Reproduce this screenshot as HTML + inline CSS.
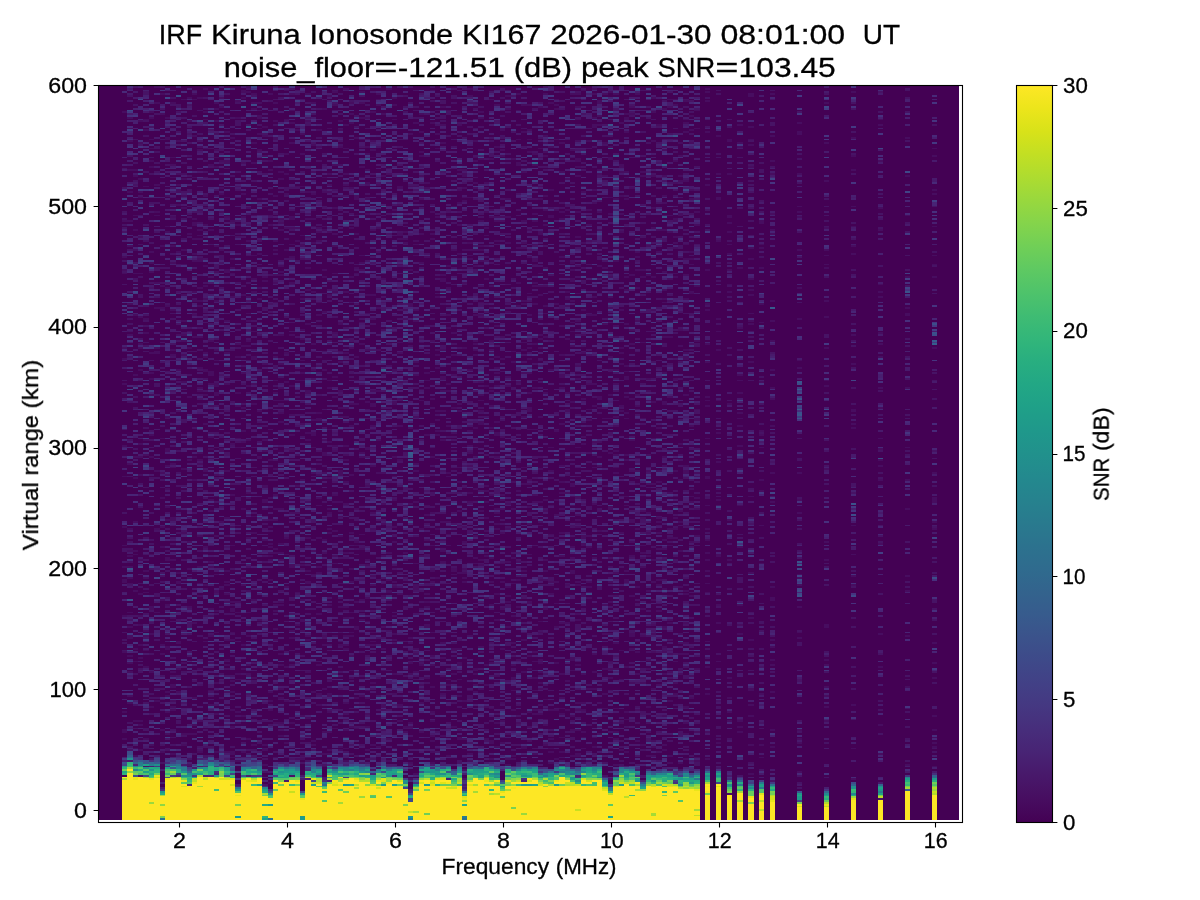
<!DOCTYPE html>
<html lang="en"><head><meta charset="utf-8"><title>IRF Kiruna Ionosonde KI167 ionogram</title>
<style>
html,body{margin:0;padding:0;background:#fff;overflow:hidden}
svg{display:block}
text{font-family:"Liberation Sans",sans-serif;fill:#000;stroke:#000;stroke-width:0.3px}
.t{font-size:28.3px}
.k{font-size:21.2px}
.ln{stroke:#000;stroke-width:1.1;fill:none}
</style></head><body>
<svg width="1200" height="900" viewBox="0 0 1200 900">
<defs>
<linearGradient id="vir" x1="0" y1="0" x2="0" y2="1"><stop offset="0.0000" stop-color="#fde725"/><stop offset="0.0312" stop-color="#ece51b"/><stop offset="0.0625" stop-color="#d8e219"/><stop offset="0.0938" stop-color="#c2df23"/><stop offset="0.1250" stop-color="#addc30"/><stop offset="0.1562" stop-color="#98d83e"/><stop offset="0.1875" stop-color="#84d44b"/><stop offset="0.2188" stop-color="#70cf57"/><stop offset="0.2500" stop-color="#5ec962"/><stop offset="0.2812" stop-color="#4ec36b"/><stop offset="0.3125" stop-color="#3fbc73"/><stop offset="0.3438" stop-color="#32b67a"/><stop offset="0.3750" stop-color="#28ae80"/><stop offset="0.4062" stop-color="#22a785"/><stop offset="0.4375" stop-color="#1fa088"/><stop offset="0.4688" stop-color="#1f988b"/><stop offset="0.5000" stop-color="#21918c"/><stop offset="0.5312" stop-color="#23898e"/><stop offset="0.5625" stop-color="#26828e"/><stop offset="0.5938" stop-color="#297a8e"/><stop offset="0.6250" stop-color="#2c728e"/><stop offset="0.6562" stop-color="#2f6b8e"/><stop offset="0.6875" stop-color="#33638d"/><stop offset="0.7188" stop-color="#375b8d"/><stop offset="0.7500" stop-color="#3b528b"/><stop offset="0.7812" stop-color="#3e4989"/><stop offset="0.8125" stop-color="#424086"/><stop offset="0.8438" stop-color="#453781"/><stop offset="0.8750" stop-color="#472d7b"/><stop offset="0.9062" stop-color="#482374"/><stop offset="0.9375" stop-color="#48186a"/><stop offset="0.9688" stop-color="#470d60"/><stop offset="1.0000" stop-color="#440154"/></linearGradient>
<clipPath id="axclip"><rect x="98.5" y="85.5" width="864" height="737"/></clipPath>
</defs>
<rect width="1200" height="900" fill="#fff"/>
<g clip-path="url(#axclip)" shape-rendering="crispEdges">
<rect x="98.5" y="85.5" width="860.5" height="734.5" fill="#440154"/>
<g transform="translate(73.1,819.09375) scale(5.4,-1.8125)" fill="none" stroke-width="1">
<path stroke="#470d60" d="M121,14h1m-86,6h1m25,2h1m81,0h1m-82,3h1m61,0h1m-12,1h1m19,0h1m-25,1h1m-55,1h1m-36,1h1m24,0h1m59,0h1m52,0h1m-125,1h1m44,0h1m19,0h1m53,0h1m-93,1h1m3,0h1m21,0h1m21,0h1m1,0h1m-83,1h1m19,0h1m7,0h1m14,0h1m21,0h1m19,0h1m-75,1h2m34,0h1m2,0h2m7,0h1m23,0h1m3,0h1m-89,1h2m6,0h1m1,0h1m3,0h2m2,0h1m24,0h1m42,0h1m11,0h1m-117,1h1m30,0h1m26,0h1m11,0h1m10,0h2m12,0h2m2,0h1m-93,1h1m10,0h1m15,0h3m25,0h1m11,0h1m7,0h1m55,0h1m-134,1h1m6,0h1m2,0h1m1,0h2m1,0h1m34,0h1m21,0h1m1,0h1m11,0h1m-91,1h1m22,0h1m11,0h1m1,0h1m4,0h1m46,0h1m7,0h1m-99,1h1m38,0h1m8,0h1m5,0h1m1,0h1m15,0h1m4,0h1m5,0h1m3,0h2m44,0h1m-96,1h1m6,0h1m21,0h1m4,0h1m12,0h1m10,0h1m21,0h1m29,0h1m-146,1h1m5,0h1m12,0h1m1,0h1m8,0h1m10,0h1m31,0h1m17,0h1m3,0h1m15,0h1m1,0h1m-89,1h1m37,0h1m1,0h1m39,0h1m14,0h1m24,0h1m-116,1h1m21,0h1m10,0h1m6,0h1m19,0h1m2,0h1m-99,1h1m3,0h1m18,0h1m25,0h1m12,0h2m3,0h1m11,0h1m11,0h1m33,0h1m-104,1h1m39,0h1m13,0h1m4,0h1m3,0h1m1,0h1m62,0h1m-122,1h1m4,0h1m22,0h1m1,0h1m-52,1h1m2,0h3m57,0h1m16,0h1m15,0h1m-105,1h1m36,0h2m13,0h1m2,0h1m29,0h1m5,0h1m5,0h1m8,0h1m1,0h1m5,0h1m-115,1h1m6,0h1m33,0h1m6,0h1m8,0h1m25,0h2m35,0h1m4,0h1m24,0h1m-112,1h1m3,0h1m16,0h1m2,0h1m7,0h1m5,0h1m-58,1h1m21,0h1m2,0h1m6,0h2m7,0h1m13,0h1m38,0h1m-112,1h1m9,0h1m64,0h1m61,0h1m-125,1h1m4,0h1m6,0h2m1,0h1m21,0h1m15,0h1m3,0h1m18,0h1m4,0h1m6,0h1m-103,1h2m10,0h1m36,0h1m5,0h1m12,0h1m41,0h1m1,0h1m15,0h1m-113,1h1m22,0h1m33,0h1m2,0h1m14,0h1m-60,1h1m-13,1h1m10,0h1m6,0h1m42,0h1m5,0h1m10,0h1m15,0h1m33,0h1m-134,1h1m23,0h1m3,0h1m30,0h2m3,0h1m-82,1h1m7,0h1m12,0h1m16,0h1m13,0h1m4,0h1m17,0h1m17,0h1m18,0h1m-104,1h1m10,0h1m6,0h1m20,0h1m23,0h1m3,0h1m2,0h2m1,0h1m1,0h2m9,0h1m-92,1h1m28,0h1m9,0h1m24,0h1m9,0h1m2,0h1m7,0h1m1,0h1m-87,1h1m3,0h1m19,0h1m18,0h1m18,0h1m29,0h1m6,0h1m25,0h1m-115,1h1m19,0h1m11,0h1m2,0h1m25,0h1m38,0h1m18,0h1m-135,1h1m39,0h1m7,0h1m5,0h1m14,0h1m13,0h2m-80,1h1m2,0h1m17,0h1m2,0h1m32,0h1m37,0h1m-91,1h1m43,0h1m22,0h1m-66,1h1m10,0h1m4,0h1m13,0h1m1,0h1m27,0h1m7,0h1m23,0h1m6,0h1m-112,1h1m6,0h1m29,0h1m5,0h1m17,0h1m67,0h1m-127,1h1m31,0h1m1,0h1m11,0h1m8,0h1m13,0h1m15,0h1m12,0h1m5,0h1m9,0h1m-111,1h1m1,0h1m8,0h2m6,0h1m7,0h1m29,0h1m25,0h1m28,0h1m-105,1h2m10,0h1m14,0h1m1,0h1m15,0h1m2,0h1m7,0h1m3,0h1m39,0h1m-88,1h1m7,0h1m17,0h1m10,0h1m10,0h1m8,0h2m10,0h1m17,0h1m-108,1h1m47,0h1m72,0h1m14,0h1m-137,1h1m45,0h1m4,0h1m4,0h1m1,0h1m31,0h1m-83,1h1m28,0h1m26,0h1m3,0h1m16,0h1m1,0h1m5,0h1m-83,1h1m61,0h1m-62,1h2m15,0h1m21,0h1m1,0h1m9,0h1m19,0h1m-69,1h1m17,0h1m2,0h1m10,0h1m15,0h1m3,0h1m13,0h1m21,0h1m37,0h1m-142,1h1m49,0h1m9,0h1m35,0h1m-85,1h1m1,0h1m26,0h1m2,0h1m7,0h1m3,0h1m15,0h1m3,0h1m9,0h1m4,0h1m2,0h1m-103,1h1m3,0h1m3,0h1m24,0h1m19,0h1m19,0h1m2,0h1m9,0h1m13,0h1m-60,1h1m5,0h1m16,0h1m17,0h1m19,0h1m-94,1h1m3,0h1m7,0h1m42,0h1m9,0h1m13,0h3m5,0h1m8,0h1m-103,1h1m20,0h1m4,0h1m62,0h1m14,0h1m31,0h1m-122,1h1m3,0h1m5,0h1m1,0h1m4,0h1m18,0h1m1,0h1m4,0h1m1,0h1m2,0h1m4,0h1m11,0h1m35,0h1m9,0h1m-130,1h1m9,0h1m4,0h1m36,0h1m8,0h1m5,0h1m8,0h1m2,0h1m69,0h1m-149,1h1m52,0h1m20,0h1m13,0h1m8,0h1m2,0h1m7,0h1m-92,1h1m53,0h1m3,0h1m5,0h1m13,0h1m22,0h1m9,0h1m-128,1h1m55,0h1m3,0h1m19,0h1m-83,1h1m40,0h1m14,0h1m17,0h1m-69,1h1m21,0h1m24,0h1m32,0h1m13,0h1m1,0h2m-105,1h1m75,0h1m18,0h1m2,0h1m1,0h1m-97,1h1m24,0h1m23,0h1m7,0h1m30,0h1m-91,1h1m5,0h1m32,0h1m6,0h1m5,0h1m6,0h2m7,0h1m23,0h1m-87,1h1m18,0h1m38,0h1m14,0h1m18,0h1m19,0h1m-118,1h1m3,0h1m14,0h1m14,0h2m1,0h2m3,0h2m-37,1h1m42,0h1m5,0h1m12,0h1m18,0h1m11,0h2m45,0h1m-141,1h1m4,0h1m30,0h1m48,0h1m4,0h1m7,0h1m-90,1h2m7,0h1m5,0h1m15,0h1m23,0h1m41,0h1m3,0h1m-120,1h1m29,0h1m21,0h1m37,0h1m33,0h1m-125,1h1m2,0h1m11,0h1m6,0h1m10,0h1m2,0h1m1,0h1m1,0h2m21,0h1m29,0h1m1,0h1m48,0h1m-141,1h1m44,0h1m38,0h2m3,0h1m3,0h1m4,0h1m10,0h1m25,0h1m-124,1h1m2,0h1m21,0h1m1,0h1m1,0h1m10,0h1m2,0h1m7,0h1m8,0h1m47,0h1m-122,1h1m26,0h1m1,0h1m-6,1h1m14,0h1m1,0h2m23,0h1m-70,1h1m24,0h1m16,0h1m4,0h1m7,0h1m14,0h1m8,0h1m19,0h1m5,0h1m23,0h1m-128,1h1m22,0h1m5,0h1m23,0h1m41,0h1m15,0h1m15,0h1m-118,1h1m67,0h2m18,0h1m2,0h1m5,0h1m-101,1h1m11,0h1m3,0h1m6,0h1m11,0h1m27,0h1m1,0h1m1,0h1m5,0h1m-59,1h1m7,0h1m10,0h1m24,0h1m3,0h1m10,0h1m16,0h1m-93,1h1m31,0h1m74,0h1m-117,1h1m2,0h1m12,0h1m33,0h1m21,0h1m-37,1h1m47,0h1m10,0h1m-95,1h1m4,0h1m5,0h1m8,0h1m1,0h1m5,0h1m12,0h1m31,0h1m14,0h1m-73,1h1m2,0h1m7,0h1m60,0h1m9,0h1m-95,1h1m10,0h1m3,0h1m26,0h1m22,0h1m7,0h1m17,0h1m7,0h1m-100,1h1m6,0h1m27,0h2m14,0h1m8,0h1m7,0h1m51,0h1m-118,1h1m19,0h2m8,0h1m29,0h1m20,0h1m20,0h1m3,0h1m-91,1h1m21,0h1m6,0h1m12,0h1m3,0h1m4,0h1m2,0h1m1,0h1m16,0h1m-79,1h3m7,0h1m13,0h1m12,0h1m14,0h1m3,0h1m14,0h1m-84,1h1m16,0h1m8,0h1m10,0h1m53,0h1m21,0h1m-109,1h1m32,0h1m21,0h1m18,0h1m33,0h1m-107,1h1m33,0h1m22,0h1m13,0h1m5,0h1m2,0h1m10,0h1m-103,1h1m15,0h1m31,0h1m4,0h1m12,0h1m9,0h1m5,0h1m18,0h1m-101,1h1m12,0h1m14,0h1m4,0h1m11,0h1m58,0h1m-107,1h1m14,0h1m5,0h1m25,0h1m47,0h1m6,0h1m40,0h1m-131,1h1m2,0h1m35,0h1m45,0h1m-71,1h1m19,0h1m3,0h1m16,0h1m14,0h1m8,0h1m7,0h1m16,0h1m-106,1h1m3,0h1m2,0h1m23,0h1m7,0h1m27,0h1m1,0h1m14,0h1m25,0h1m9,0h1m-135,1h1m8,0h1m3,0h1m19,0h1m5,0h1m26,0h1m4,0h1m35,0h1m-109,1h1m9,0h1m8,0h1m14,0h1m7,0h1m7,0h1m6,0h1m5,0h1m4,0h1m1,0h1m8,0h2m3,0h1m1,0h1m3,0h1m2,0h1m4,0h1m-99,1h1m26,0h1m21,0h1m23,0h1m3,0h2m14,0h1m5,0h1m-99,1h1m2,0h1m7,0h1m9,0h1m35,0h1m4,0h1m61,0h1m-80,1h1m88,0h1m9,0h1m-129,1h1m3,0h1m13,0h1m25,0h1m7,0h1m55,0h1m-116,1h1m25,0h1m25,0h2m19,0h1m7,0h1m24,0h1m-113,1h1m14,0h1m14,0h1m22,0h1m3,0h1m12,0h1m3,0h1m4,0h1m9,0h1m14,0h1m-97,1h1m29,0h1m18,0h1m1,0h1m-64,1h2m12,0h1m1,0h1m14,0h1m4,0h1m53,0h1m5,0h1m3,0h1m4,0h1m-75,1h1m1,0h1m11,0h1m20,0h1m-28,1h1m14,0h1m10,0h1m4,0h1m47,0h1m-103,1h1m42,0h1m11,0h1m1,0h1m-71,1h1m4,0h2m17,0h1m1,0h1m15,0h1m4,0h1m15,0h1m11,0h1m6,0h1m12,0h1m1,0h1m7,0h1m3,0h1m17,0h1m-123,1h1m56,0h1m2,0h1m3,0h1m10,0h1m3,0h1m2,0h1m5,0h1m-96,1h1m25,0h1m11,0h1m8,0h1m6,0h1m11,0h1m13,0h1m12,0h1m2,0h1m12,0h1m-109,1h1m2,0h1m24,0h1m33,0h1m10,0h1m34,0h1m24,0h1m-109,1h3m7,0h1m3,0h1m7,0h1m2,0h1m32,0h1m10,0h1m11,0h1m-108,1h2m32,0h1m23,0h1m43,0h1m-76,1h1m12,0h1m2,0h1m43,0h1m10,0h2m-94,1h1m7,0h1m11,0h1m55,0h1m2,0h1m27,0h1m-115,1h1m9,0h1m9,0h1m22,0h1m13,0h1m2,0h1m8,0h1m15,0h1m6,0h1m3,0h1m4,0h1m-75,1h1m1,0h1m55,0h1m54,0h1m-129,1h1m30,0h1m6,0h1m12,0h1m30,0h1m10,0h1m24,0h1m-105,1h1m10,0h1m18,0h1m2,0h1m40,0h1m7,0h1m-86,1h1m6,0h1m3,0h1m1,0h1m43,0h1m4,0h1m15,0h2m-89,1h1m2,0h1m22,0h1m24,0h1m19,0h2m19,0h1m-91,1h1m27,0h1m15,0h1m18,0h1m-69,1h1m12,0h1m13,0h1m3,0h1m27,0h1m10,0h1m10,0h1m4,0h1m1,0h1m-61,1h1m27,0h1m20,0h1m-88,1h1m4,0h1m31,0h1m7,0h1m8,0h1m2,0h1m10,0h1m1,0h1m23,0h1m5,0h2m5,0h1m41,0h1m-151,1h1m6,0h1m7,0h1m4,0h1m6,0h1m22,0h1m12,0h1m20,0h1m-38,1h1m14,0h1m14,0h1m26,0h1m13,0h1m16,0h1m-88,1h1m20,0h1m5,0h1m-74,1h1m15,0h1m40,0h2m16,0h1m16,0h1m4,0h1m3,0h1m46,0h1m-143,1h2m17,0h2m55,0h1m6,0h1m2,0h1m17,0h1m-104,1h1m9,0h1m47,0h1m28,0h1m2,0h1m2,0h1m-79,1h1m5,0h1m9,0h1m22,0h1m-8,1h1m23,0h1m3,0h1m-54,1h2m5,0h1m7,0h1m10,0h1m11,0h1m27,0h1m27,0h1m-110,1h1m45,0h1m3,0h1m11,0h1m17,0h1m6,0h1m-82,1h1m3,0h1m1,0h2m8,0h1m4,0h1m25,0h2m1,0h1m8,0h1m8,0h1m7,0h1m7,0h1m38,0h1m-138,1h1m66,0h1m14,0h1m11,0h1m-67,1h1m15,0h1m3,0h1m2,0h1m2,0h1m16,0h1m1,0h1m1,0h1m9,0h1m14,0h1m5,0h1m-74,1h1m6,0h1m4,0h1m17,0h1m15,0h1m-62,1h1m7,0h1m4,0h2m13,0h1m9,0h1m2,0h1m8,0h2m27,0h1m14,0h1m29,0h1m-135,1h1m9,0h1m23,0h1m19,0h1m7,0h1m1,0h1m29,0h1m14,0h1m24,0h1m-144,1h1m15,0h1m3,0h1m8,0h1m23,0h1m23,0h1m21,0h1m43,0h1m-134,1h1m20,0h1m44,0h2m8,0h1m8,0h1m2,0h1m10,0h1m-97,1h1m7,0h1m10,0h1m13,0h1m14,0h1m1,0h1m5,0h1m-54,1h1m40,0h1m16,0h2m18,0h1m-73,1h1m37,0h1m5,0h1m44,0h1m-111,1h1m56,0h1m39,0h1m4,0h1m-85,1h1m3,0h1m-5,1h1m5,0h1m12,0h1m21,0h1m15,0h1m-10,1h2m7,0h1m13,0h2m-58,1h1m20,0h1m9,0h1m8,0h1m17,0h1m-87,1h1m19,0h1m41,0h1m27,0h1m14,0h1m21,0h1m4,0h1m-144,1h1m20,0h1m14,0h1m35,0h1m20,0h1m12,0h1m-109,1h1m25,0h1m23,0h1m9,0h1m47,0h1m-106,1h1m13,0h1m18,0h1m1,0h1m1,0h1m1,0h1m-36,1h1m27,0h1m1,0h1m2,0h1m6,0h2m11,0h1m30,0h1m12,0h1m1,0h1m13,0h1m4,0h1m24,0h1m-145,1h1m8,0h1m3,0h1m20,0h1m13,0h1m24,0h1m14,0h2m1,0h1m1,0h1m2,0h1m1,0h1m-94,1h1m16,0h1m41,0h1m6,0h1m52,0h1m-122,1h1m38,0h2m12,0h1m11,0h1m12,0h1m3,0h1m-84,1h1m37,0h1m17,0h1m13,0h1m2,0h1m6,0h1m11,0h1m3,0h1m35,0h1m-140,1h1m7,0h1m4,0h1m39,0h1m15,1h1m39,0h1m-99,1h1m1,0h1m12,0h1m13,0h1m9,0h1m13,0h1m27,0h1m46,0h1m-125,1h1m8,0h1m21,0h1m10,0h1m3,0h1m11,0h1m20,0h1m-94,1h2m1,0h1m7,0h1m11,0h1m18,0h1m5,0h1m6,0h1m11,0h1m1,0h1m10,0h1m5,0h1m11,0h1m-97,1h1m27,0h1m4,0h1m3,0h1m49,0h1m1,0h1m3,0h1m-84,1h1m22,0h1m6,0h1m19,0h1m25,0h1m-83,1h1m9,0h1m7,0h1m4,0h1m7,0h1m51,0h1m-84,1h1m7,0h1m1,0h1m26,0h1m94,0h1m-120,1h1m13,0h1m9,0h1m33,0h1m4,0h1m33,0h1m26,0h1m-146,1h1m38,0h1m1,0h1m22,0h1m49,0h1m-112,1h1m16,0h1m64,0h1m17,0h1m-82,1h1m15,0h1m48,0h2m-85,1h1m18,0h1m2,0h1m7,0h1m2,0h1m9,0h1m11,0h1m34,0h1m-88,1h1m13,0h1m31,0h2m43,0h1m9,0h1m31,0h1m-125,1h1m53,0h1m14,0h1m-81,1h1m25,0h1m3,0h1m20,0h1m1,0h1m10,0h1m48,0h1m-85,1h2m25,0h1m7,0h1m40,0h1m-89,1h1m35,0h1m5,0h1m15,0h1m37,0h1m-81,1h1m7,0h1m7,0h1m20,0h2m-24,1h1m11,0h1m2,0h1m30,0h1m35,0h1m-111,1h1m16,0h1m3,0h1m4,0h1m8,0h1m30,0h1m13,0h1m8,0h1m5,0h1m-106,1h1m17,0h1m32,0h1m14,0h1m53,0h1m-107,1h1m36,0h1m2,0h1m-57,1h1m21,0h2m21,0h1m27,0h1m19,0h1m-87,1h1m15,0h1m10,0h1m41,0h2m2,0h1m2,0h1m9,0h1m7,0h1m-107,1h1m31,0h2m7,0h1m4,0h1m19,0h1m2,0h1m13,0h1m-61,1h1m-3,1h1m6,0h1m15,0h1m40,0h1m20,0h1m-90,1h1m32,0h2m2,0h1m3,0h1m8,0h1m6,0h1m9,0h1m42,0h1m-130,1h1m19,0h1m48,0h1m6,0h1m3,0h1m19,0h1m28,0h1m-114,1h1m17,0h2m19,0h1m13,0h1m12,0h1m51,0h1m-125,1h1m4,0h1m24,0h1m21,0h1m18,0h1m4,0h1m2,0h1m12,0h1m-85,1h1m17,0h2m2,0h1m3,0h1m11,0h1m37,0h1m11,0h1m-68,1h1m4,0h1m32,0h1m14,0h1m1,0h1m-73,1h3m24,0h1m10,0h1m7,0h1m22,0h1m10,0h1m1,0h1m-60,1h1m5,0h1m27,0h1m2,0h1m5,0h1m25,0h1m-109,1h1m26,0h1m48,0h1m4,0h1m7,0h1m6,0h1m-104,1h1m2,0h1m6,0h1m1,0h1m48,0h1m23,0h1m4,0h1m8,0h1m-88,1h1m3,0h1m6,0h1m5,0h1m38,0h1m1,0h1m2,0h1m3,0h1m17,0h1m13,0h1m-101,1h1m19,0h1m5,0h1m5,0h2m11,0h2m3,0h1m3,0h1m28,0h1m-56,1h1m12,0h1m-42,1h1m14,0h1m8,0h1m17,0h1m19,0h1m4,0h1m38,0h1m19,0h1m4,0h1m-136,1h1m6,0h1m5,0h1m7,0h1m35,0h1m1,0h1m1,0h1m58,0h1m-131,1h1m15,0h2m1,0h1m4,0h1m35,0h1m25,0h2m3,0h1m-81,1h1m18,0h1m20,0h1m14,0h1m6,0h1m44,0h1m-110,1h1m18,0h1m3,0h2m4,0h1m4,0h2m11,0h1m10,0h1m4,0h1m10,0h1m30,0h1m15,0h1m-126,1h1m4,0h1m48,0h1m6,0h1m17,0h1m8,0h1m3,0h1m4,0h1m-84,1h1m4,0h1m14,0h1m19,0h1m11,0h1m9,0h1m11,0h1m-92,1h1m13,0h1m37,0h1m6,0h1m19,0h1m32,0h1m-110,1h1m10,0h1m5,0h1m10,0h1m15,0h1m6,0h1m12,0h1m4,0h2m24,0h1m-86,1h2m8,0h1m67,0h1m-91,1h1m6,0h1m4,0h1m19,0h1m1,0h1m12,0h1m13,0h1m14,0h1m11,0h1m28,0h1m-107,1h1m18,0h1m24,0h1m10,0h1m55,0h1m-90,1h1m12,0h1m34,0h1m8,0h1m-68,1h1m2,0h1m15,0h1m46,0h1m42,0h1m-96,1h1m13,0h1m17,0h1m35,0h1m7,0h1m-105,1h1m4,0h1m7,0h1m7,0h1m43,0h1m4,0h1m42,0h1m-126,1h1m23,0h1m45,0h1m4,0h1m28,0h1m-90,1h1m5,0h1m2,0h1m3,0h1m14,0h1m25,0h1m20,0h1m13,0h1m35,0h1m-132,1h1m1,0h1m46,0h1m2,0h1m3,0h1m15,0h1m-77,1h2m8,0h1m3,0h1m10,0h1m10,0h1m9,0h1m16,0h1m16,0h1m6,0h1m11,0h1m-99,1h1m11,0h1m21,0h1m31,0h1m-64,1h1m7,0h1m27,0h1m1,0h1m10,0h2m5,0h1m2,0h1m5,0h1m29,0h1m5,0h1m-111,1h1m2,0h1m2,0h1m5,0h1m29,0h1m20,0h1m11,0h1m1,0h1m14,0h1m37,0h1m19,0h1m-129,1h2m29,0h1m29,0h1m19,0h1m-101,1h1m17,0h1m13,0h1m8,0h1m20,0h1m10,0h1m17,0h1m13,0h1m31,0h1m-90,1h1m1,0h1m1,0h1m4,0h1m13,0h1m21,0h1m-86,1h1m4,0h1m6,0h1m33,0h1m7,0h1m2,0h1m14,0h1m22,0h1m13,0h1m-88,1h1m7,0h1m32,0h1m2,0h1m4,0h1m-70,1h2m30,0h1m24,0h1m7,0h1m12,0h1m8,0h2m-101,1h1m8,0h2m17,0h1m1,0h1m45,0h1m7,0h1m49,0h1m-132,1h1m34,0h1m21,0h1m78,0h1m-129,1h1m11,0h1m58,0h1m26,0h1m-78,1h1m14,0h1m36,0h1m8,0h1m8,0h1m-55,1h1m10,0h1m39,0h1m13,0h1m-59,1h1m12,0h1m11,0h1m9,0h1m-58,1h1m5,0h1m48,0h1m3,0h1m22,0h1m-77,1h1m3,0h1m23,0h1m14,0h1m34,0h1m-108,1h1m7,0h1m3,0h1m30,0h1m29,0h1m10,0h1m20,0h1m3,0h1m-117,1h1m27,0h1m13,0h1m5,0h1m57,0h1m14,0h1m-123,1h1m11,0h1m114,0h1m-129,1h1m10,0h1m22,0h1m23,0h1m4,0h2m8,0h1m10,0h2m57,0h1m-123,1h1m21,0h1m32,0h1m37,0h1m28,0h1m-109,1h1m33,0h1m-63,1h1m42,0h1m1,0h1m30,0h1m6,0h1m5,0h1m3,0h1m5,0h1m-103,1h2m8,0h1m30,0h1m42,0h1m54,0h1m-138,1h1m5,0h1m38,0h1m19,0h1m4,0h1m3,0h1m20,0h1m-103,1h1m49,0h1m1,0h1m20,0h1m1,0h1m3,0h1m27,0h1m9,0h1m-91,1h1m7,0h1m26,0h1m2,0h1m4,0h1m18,0h1m3,0h1m5,0h1m-88,1h2m2,0h1m56,0h1m8,0h1m36,0h1m9,0h1m-116,1h1m2,0h1m6,0h1m7,0h1m48,0h1m17,0h1m3,0h1m-85,1h1m2,0h1m34,0h1m28,0h1m2,0h1m49,0h1m-130,1h1m10,0h1m15,0h1m6,0h2m30,0h1m38,0h1m-42,1h1m8,0h1m20,0h1m-93,1h1m10,0h1m10,0h1m3,0h1m1,0h1m17,0h1m9,0h1m12,0h1m22,0h1m6,0h1m27,0h1m-107,1h1m58,0h1m6,0h1m15,0h1m-109,1h1m5,0h1m10,0h1m25,0h1m8,0h1m34,0h1m29,0h1m-119,1h1m7,0h1m52,0h1m7,0h3m27,0h1m-59,1h1m40,0h1m7,0h1m14,0h1m27,0h1m-135,1h1m21,0h1m2,0h1m31,0h1m9,0h1m2,0h1m-51,1h1m32,0h1m23,0h1m-60,1h1m23,0h1m3,0h1m6,0h1m7,0h1m15,0h1m17,0h1m14,0h1m-91,1h1m10,0h1m4,0h1m47,0h1m2,0h1m2,0h1m1,0h1m3,0h1m42,0h1m4,0h1m-123,1h2m29,0h1m34,0h1m2,0h1m6,0h1m-105,1h1m1,0h2m16,0h1m18,0h1m3,0h1m1,0h1m31,0h1m24,0h1m-98,1h1m11,0h1m1,0h1m9,0h1m70,0h1m-101,1h1m18,0h1m3,0h1m13,0h1m6,0h1m7,0h2m29,0h1m11,0h2m11,0h1m3,0h1m-93,1h1m13,0h1m8,0h1m34,0h1m10,0h1m24,0h1m3,0h1m11,0h1m-116,1h1m13,0h1m30,0h1m4,0h1m18,0h1m3,0h1m4,0h1m-83,1h1m39,0h1m9,0h1m14,0h1m28,0h1m24,0h1m19,0h1m-146,1h1m3,0h1m34,0h1m10,0h1m27,0h1m-71,1h2m51,0h1m9,0h1m14,0h1m-78,1h1m5,0h1m12,0h1m26,0h1m3,0h1m11,0h1m27,0h2m10,0h1m-117,1h1m30,0h1m24,0h1m18,0h1m5,0h1m13,0h1m-79,1h1m6,0h1m19,0h1m9,0h1m9,0h1m65,0h1m19,0h1m-138,1h1m11,0h1m7,0h1m28,0h1m49,0h1m22,0h1m-131,1h1m4,0h1m36,0h1m47,0h1m3,0h1m5,0h1m-104,1h1m8,0h1m6,0h1m9,0h1m1,0h1m30,0h1m1,0h4m58,0h1m4,0h1m-108,1h1m49,0h2m27,0h1m13,0h1m1,0h1m-118,1h1m5,0h1m1,0h1m7,0h1m15,0h1m5,0h1m8,0h1m17,0h1m30,0h1m37,0h1m-105,1h1m1,0h1m20,0h1m21,0h1m4,0h1m22,0h1m7,0h1m5,0h1m-84,1h1m16,0h1m11,0h1m6,0h1m2,0h1m10,0h1m16,0h1m-80,1h1m1,0h1m2,0h1m3,0h1m3,0h1m17,0h1m14,0h1m13,0h1m2,0h1m23,0h1m-98,1h2m36,0h2m4,0h1m5,0h1m-61,1h1m43,0h1m36,0h1m17,0h1m-96,1h1m6,0h1m9,0h1m8,0h1m17,0h1m15,0h1m-56,1h1m26,0h1m3,0h1m7,0h1m3,0h1m1,0h1m19,0h1m42,0h1m-113,1h1m27,0h1m1,0h1m13,0h1m24,0h1m14,0h1m8,0h1m10,0h1m-111,1h1m11,0h1m1,0h1m12,0h1m7,0h1m8,0h1m28,0h1m12,0h1m10,0h2m19,0h1m19,0h1m-111,1h3m3,0h1m5,0h1m4,0h1m19,0h1m13,0h1m16,0h1m31,0h1m-123,1h1m26,0h1m1,0h1m97,0h1m14,0h1m-138,1h1m1,0h1m5,0h1m5,0h1m28,0h1m5,0h1m15,0h1m7,0h1m4,0h1m14,0h1m-94,1h1m15,0h1m82,0h1m5,0h1m-119,1h2m18,0h1m45,0h1m2,0h2m3,0h1m1,0h1m25,0h1m15,0h1m-106,1h1m15,0h1m1,0h1m2,0h2m45,0h1m12,0h1m7,0h1m-94,1h1m9,0h1m2,0h1m8,0h1m6,0h1m19,0h1m1,0h1m7,0h4m7,0h1m32,0h1m12,0h1m-124,1h1m3,0h1m17,0h1m2,0h1m1,0h1m13,0h1m35,0h1m5,0h1m15,0h1m1,0h1m8,0h1m32,0h1m-101,1h1m13,0h1m16,0h1m13,0h1m1,0h1m10,0h1m16,0h1m-115,1h1m11,0h1m38,0h1m9,0h1m13,0h1m2,0h1m3,0h1m10,0h1m6,0h1m18,0h1m-112,1h1m20,0h1m14,0h1m9,0h1m7,0h1m9,0h1m1,0h1m1,0h1m3,0h1m-76,1h1m3,0h1m7,0h1m15,0h1m58,0h1m41,0h1m-115,1h1m34,0h1m8,0h1m54,0h1m9,0h1m-126,1h1m40,0h1m15,0h1m-6,1h1m24,0h1m12,0h1m-47,1h1m8,0h1m-39,1h1m17,0h1m1,0h1m9,0h1m15,0h1m5,0h1m13,0h1m1,0h1m11,0h1m4,0h1m-108,1h1m15,0h1m23,0h1m19,0h2m25,0h1m19,0h1m-103,1h1m2,0h1m3,0h1m12,0h1m14,0h1m4,0h1m29,0h1m13,0h1m7,0h1m-83,1h1m3,0h1m7,0h1m4,0h1m114,0h1m-150,1h1m1,0h1m6,0h1m23,0h1m2,0h2m46,0h1m-76,1h1m51,0h1m16,0h1m7,0h1m17,0h1m44,0h1m-133,1h1m23,0h1m8,0h1m4,0h1m6,0h1m1,0h1m9,0h1m18,0h1m-91,1h1m27,0h2m17,0h1m1,0h2m21,0h2m7,0h1m11,0h1m-92,1h1m3,0h1m27,0h1m2,0h1m5,0h1m40,0h1m19,0h1m-64,1h1m10,0h1m8,0h1m1,0h1m34,0h1m0,1h2m25,0h1m-128,1h1m7,0h1m17,0h1m12,0h1m39,0h1m-74,1h1m3,0h1m23,0h1m6,0h1m-43,1h1m45,0h1m6,0h1m7,0h1m20,0h1m4,0h1m6,0h1m1,0h1m1,0h1m2,0h1m41,0h1m-136,1h2m18,0h1m7,0h1m2,0h1m7,0h1m2,0h1m10,0h1m6,0h1m17,0h1m21,0h1m1,0h1m7,0h1m4,0h1m-97,1h1m5,0h1m38,0h1m6,0h1m10,0h2m2,0h1m-96,1h2m24,0h1m17,0h1m16,0h2m24,0h1m46,0h1m-87,1h1m-45,1h1m11,0h1m26,0h1m20,0h1m18,0h1m7,0h1m23,0h1m-108,1h1m6,0h1m22,0h2m32,0h1m2,0h1m15,0h1m-74,1h1m2,0h1m1,0h1m48,0h1m-69,1h1m12,0h2m7,0h1m37,0h1m18,0h1m17,0h1m17,0h1m19,0h1m-75,1h1m1,0h1m3,0h1m11,0h1m5,0h1m-82,1h1m7,0h1m5,0h1m22,0h1m18,0h1m11,0h1m12,0h1m-65,1h1m28,0h1m14,0h1m7,0h1m24,0h1m31,0h1m14,0h1m-121,1h1m2,0h1m11,0h1m30,0h1m-22,1h1m19,0h1m2,0h1m-65,1h1m2,0h1m7,0h1m20,0h1m2,0h1m20,0h1m12,0h1m16,0h1m-96,1h1m9,0h1m25,0h1m16,0h1m18,0h1m72,0h1m-137,1h1m21,0h1m3,0h1m4,0h1m23,0h1m9,0h1m10,0h1m9,0h1m13,0h1m-80,1h1m80,0h1m-114,1h1m20,0h1m6,0h1m27,0h1m18,0h1m2,0h1m7,0h1m13,0h1m1,0h1m8,0h1m15,0h1m-130,1h1m8,0h1m35,0h1m18,0h1m18,0h1m1,0h1m11,0h1m13,0h1m-108,1h1m2,0h1m9,0h1m9,0h1m15,0h1m13,0h1m14,0h1m1,0h1m4,0h1m16,0h1m4,0h1m9,0h1m3,0h1m-109,1h1m11,0h1m7,0h1m14,0h1m91,0h1m9,0h1m-133,1h1m12,0h1m51,0h1m31,0h1m9,0h1m-104,1h1m7,0h1m7,0h1m19,0h1m4,0h1m66,0h1m-107,1h1m35,0h1m18,0h1m18,0h1m10,0h1m3,0h1m16,0h1m-122,1h1m27,0h1m3,0h1m3,0h1m29,0h1m4,0h1m29,0h1m-105,1h1m23,0h1m12,0h1m31,0h1m35,0h1m-81,1h1m21,0h1m38,0h1m28,0h1m-76,1h1m17,0h1m2,0h1m24,0h2m10,0h1m14,0h1m25,0h1m-110,1h1m10,0h1m11,0h1m2,0h1m34,0h1m11,0h1m20,0h1m-123,1h1m8,0h1m4,0h1m10,0h1m5,0h1m5,0h1m-37,1h1m4,0h1m5,0h1m14,0h1m10,0h1m8,0h1m33,0h1m8,0h1m10,0h1m1,0h1m33,0h1m-140,1h1m3,0h1m2,0h1m12,0h1m3,0h1m18,0h2m20,0h1m20,0h1m5,0h1m-69,1h1m62,0h1m16,0h1m-99,1h1m34,0h1m5,0h1m6,0h1m37,0h2m-95,1h1m4,0h1m9,0h1m30,0h1m19,0h1m31,0h1m-68,1h1m26,0h1m1,0h1m2,0h1m9,0h1m32,0h1m-90,1h1m6,0h1m12,0h1m33,0h1m8,0h1m19,0h1m-83,1h1m40,0h1m17,0h1m6,0h1m9,0h1m6,0h1m-63,1h1m7,0h1m2,0h1m18,0h1m4,0h2m4,0h1m21,0h1m-97,1h1m2,0h1m7,0h1m6,0h2m2,0h1m6,0h1m6,0h1m1,0h1m34,0h1m8,0h1m41,0h1m-110,1h1m66,0h1m15,0h1m3,0h1m-98,1h1m1,0h1m33,0h1m20,0h1m2,0h1m8,0h1m8,0h1m1,0h1m9,0h2m-91,1h1m1,0h1m3,0h1m3,0h1m27,0h1m47,0h1m-61,1h1m25,0h1m6,0h1m44,0h1m-110,1h1m5,0h1m10,0h1m2,0h1m3,0h1m2,0h1m12,0h1m25,0h1m4,0h1m4,0h2m2,0h1m1,0h1m1,0h1m3,0h1m20,0h1m3,0h1m-99,1h2m15,0h1m4,0h1m45,0h1m17,0h1m26,0h1m-119,1h1m4,0h1m7,0h1m26,0h1m27,0h1m-71,1h1m25,0h1m7,0h1m14,0h1m22,0h1m20,0h1m-103,1h1m16,0h1m-18,1h1m14,0h1m4,0h1m11,0h1m50,0h2"/>
<path stroke="#471365" d="M149,11h1m-16,6h1m-100,2h1m98,1h1m-6,1h1m-58,1h1m26,0h1m39,1h1m-128,1h1m27,0h1m57,0h1m24,0h1m10,0h1m-100,2h1m19,1h1m16,0h1m27,0h1m11,0h1m14,0h1m-9,1h1m-107,1h1m93,0h1m-87,1h1m24,0h1m15,0h1m27,0h1m10,0h1m13,0h1m-100,1h1m23,0h1m1,0h1m10,0h1m17,0h1m22,0h1m3,0h1m4,0h1m11,0h1m3,0h1m5,0h1m-95,1h1m11,0h1m27,0h1m18,0h1m10,0h1m6,0h1m45,0h1m-141,1h1m6,0h1m4,0h1m8,0h1m4,0h1m13,0h2m4,0h1m-37,1h1m8,0h1m8,0h1m19,0h1m4,0h1m22,0h1m-67,1h1m8,0h1m18,0h1m51,0h1m9,0h1m-93,1h1m9,0h1m18,0h1m44,0h1m-60,1h1m12,0h1m16,0h1m40,0h1m50,0h1m-150,1h1m6,0h1m5,0h1m8,0h2m10,0h1m36,0h1m23,0h1m7,0h1m-101,1h1m3,0h1m17,0h1m49,0h1m73,0h1m-150,1h1m12,0h3m3,0h1m62,0h1m8,0h1m11,0h1m-98,1h1m1,0h1m32,0h1m1,0h1m3,0h1m23,0h2m-63,1h1m10,0h1m2,0h1m7,0h2m29,0h1m13,0h1m51,0h1m-64,1h1m24,0h1m4,0h1m3,0h1m-94,1h1m24,0h1m49,0h1m13,0h1m12,0h1m1,0h1m32,0h1m-137,1h1m15,0h1m15,0h1m28,0h1m12,0h1m-73,1h1m35,0h1m5,0h1m25,0h1m23,0h1m6,0h1m-42,1h1m7,0h1m25,0h1m36,0h1m-116,1h1m32,0h1m23,0h2m6,0h1m8,0h1m3,0h1m21,0h1m-122,1h1m4,0h1m5,0h1m13,0h1m32,0h1m4,0h1m11,0h1m-78,1h1m1,0h1m15,0h1m31,0h2m49,0h1m6,0h1m7,0h1m-76,1h2m43,0h1m4,0h1m16,0h1m34,0h1m-127,1h1m7,0h1m1,0h1m9,0h1m33,0h1m12,0h1m-86,1h1m8,0h1m29,0h1m3,0h1m15,0h1m6,0h1m17,0h1m5,0h1m3,0h1m10,0h1m11,0h1m-109,1h1m14,0h3m18,0h1m15,0h1m5,0h1m14,0h1m8,0h1m32,0h1m-113,1h1m10,0h1m69,0h1m19,0h1m20,0h1m-121,1h1m15,0h1m16,0h1m35,0h1m20,0h1m-87,1h1m1,0h1m2,0h1m20,0h1m5,0h1m21,0h1m25,0h1m-95,1h1m51,0h1m11,0h1m26,0h2m8,0h1m-64,1h1m41,0h1m10,0h1m48,0h1m-122,1h1m13,0h1m1,0h1m6,0h1m1,0h1m27,0h1m22,0h1m39,0h1m-99,1h1m37,0h1m3,0h1m3,0h1m13,0h1m1,0h1m5,0h1m34,0h1m-125,1h1m29,0h1m10,0h1m5,0h1m26,0h1m14,0h1m-109,1h1m14,0h1m9,0h1m42,0h1m2,0h1m28,0h1m-99,1h1m2,0h1m3,0h1m14,0h1m8,0h1m3,0h1m4,0h1m16,0h1m26,0h1m-58,1h1m24,0h1m5,0h1m1,0h1m45,0h1m29,0h1m-134,1h1m16,0h1m4,0h1m2,0h1m66,0h1m-95,1h2m11,0h1m15,0h1m29,0h1m38,0h1m-88,1h1m3,0h1m15,0h1m10,0h1m7,0h1m3,0h1m4,0h1m36,0h2m2,0h1m-101,1h1m17,0h1m25,0h1m43,0h1m6,0h1m-85,1h1m93,0h1m-32,1h1m10,0h1m12,0h1m-98,1h2m24,0h1m7,0h1m5,0h1m12,0h1m18,0h1m5,0h1m50,0h1m-124,1h1m25,0h1m67,0h1m-93,1h1m5,0h1m57,0h1m7,0h1m-63,1h1m3,0h1m6,0h1m20,0h1m38,0h1m22,0h1m31,0h1m-138,1h1m4,0h1m5,0h1m13,0h1m3,0h1m18,0h1m9,0h1m29,0h1m23,0h1m-72,1h1m13,0h1m56,0h1m19,0h1m-117,1h1m17,0h1m5,0h1m1,0h1m19,0h1m20,0h1m4,0h1m2,0h1m-98,1h1m2,0h1m8,0h2m2,0h1m20,0h1m7,0h1m1,0h1m13,0h1m8,0h1m26,0h1m40,0h1m-144,1h1m15,0h1m3,0h1m28,0h1m26,0h1m-76,1h1m7,0h1m1,0h1m26,0h1m2,0h1m18,0h1m57,0h1m9,0h1m19,0h1m-118,1h2m14,0h1m14,0h1m25,0h1m5,0h1m19,0h1m-114,1h1m15,0h1m40,0h1m5,0h1m5,0h1m23,0h1m6,0h1m6,0h1m-71,1h1m59,0h1m3,0h1m13,0h1m16,0h1m-133,1h1m22,0h1m-3,1h1m30,0h1m34,0h1m3,0h1m5,0h1m3,0h1m-86,1h1m11,0h1m4,0h1m16,0h1m23,0h1m6,0h1m-64,1h1m27,0h1m6,0h1m11,0h2m12,0h1m-74,1h1m43,0h1m1,0h1m52,0h1m-97,1h1m7,0h1m12,0h1m11,0h1m3,0h1m11,0h1m10,0h1m18,0h1m14,0h1m9,0h1m13,0h1m-126,1h1m26,0h1m69,0h1m7,0h1m29,0h1m-129,1h1m4,0h1m12,0h1m13,0h1m1,0h1m5,0h1m1,0h1m11,0h1m30,0h1m1,0h1m30,0h1m-131,1h1m21,0h1m8,0h1m6,0h1m17,0h1m2,0h1m34,0h1m5,0h2m-84,1h1m81,0h1m7,0h1m7,0h1m1,0h1m-79,1h1m3,0h1m23,0h1m3,0h1m16,0h1m15,0h1m-35,1h1m10,0h1m42,0h1m-126,1h1m34,0h1m14,0h1m10,0h1m6,0h1m2,0h1m53,0h1m-113,1h1m7,0h1m18,0h1m11,0h1m2,0h1m-56,1h1m5,0h1m55,0h1m38,0h1m4,0h1m-103,1h1m10,0h1m5,0h1m2,0h1m12,0h1m9,0h2m27,0h1m2,0h1m2,0h1m16,0h1m-86,1h1m72,0h1m9,0h1m22,0h1m-113,1h1m3,0h1m3,0h1m3,0h1m4,0h1m11,0h1m37,0h1m1,0h1m18,0h1m53,0h1m-151,1h1m39,0h1m18,0h1m14,0h1m3,0h1m15,0h1m-84,1h1m37,0h1m4,0h1m14,0h1m7,0h1m16,0h1m3,0h1m19,0h1m6,0h1m-118,1h1m75,0h1m15,0h1m-89,1h1m21,0h1m39,0h1m9,0h1m35,0h1m14,0h1m-134,1h1m9,0h1m71,0h1m4,0h1m7,0h1m6,0h1m7,0h1m-108,1h1m6,0h1m12,0h1m48,0h1m10,0h1m12,0h1m17,0h1m1,0h1m-110,1h1m20,0h1m3,0h1m4,0h1m18,0h2m30,0h1m6,0h1m20,0h1m-118,1h1m8,0h1m139,0h1m-109,1h1m4,0h1m43,0h1m13,0h1m29,0h1m-135,1h2m12,0h1m5,0h1m39,0h1m46,0h1m-105,1h1m12,0h1m1,0h2m7,0h1m2,0h1m2,0h1m9,0h1m9,0h1m-15,1h1m9,0h1m6,0h1m11,0h1m46,0h1m-112,1h1m35,0h1m2,0h1m1,0h1m50,0h1m-86,1h1m12,0h1m8,0h2m16,0h1m2,0h1m4,0h1m7,0h1m16,0h1m22,0h1m41,0h1m-143,1h1m9,0h1m33,0h1m17,0h2m18,0h1m19,0h1m9,0h1m-111,1h1m9,0h1m5,0h1m44,0h1m23,0h1m4,0h1m4,0h2m-66,1h1m32,0h1m2,0h1m4,0h1m12,0h1m3,0h1m18,0h1m-91,1h1m6,0h1m4,0h1m14,0h1m1,0h2m45,0h1m45,0h1m-120,1h1m17,0h1m31,0h1m13,0h1m54,0h1m-143,1h1m22,0h1m6,0h1m1,0h1m33,0h1m-69,1h1m46,0h1m20,0h1m7,0h1m7,0h1m5,0h1m4,0h1m-96,1h1m10,0h1m14,0h1m77,0h1m7,0h1m21,0h1m-102,1h1m46,0h1m13,0h1m4,0h2m-85,1h1m6,0h1m24,0h2m36,0h1m-89,1h1m4,0h1m1,0h1m22,0h1m53,0h1m23,0h1m1,0h1m-112,1h1m14,0h1m9,0h1m22,0h1m30,0h1m2,0h1m2,0h1m13,0h1m13,0h1m18,0h1m9,0h1m-145,1h1m3,0h1m44,0h1m5,0h2m19,0h3m24,0h1m25,0h1m-128,1h1m2,0h1m41,0h1m7,0h1m2,0h2m12,0h1m8,0h1m23,0h1m-100,1h1m18,0h1m87,0h1m30,0h1m-121,1h1m7,0h1m9,0h2m2,0h1m4,0h1m19,0h1m6,0h1m5,0h1m14,0h1m13,0h1m-75,1h1m7,0h1m3,0h1m4,0h1m12,0h1m6,0h1m1,0h1m10,0h1m13,0h1m9,0h1m-108,1h1m27,0h1m13,0h1m18,0h1m4,0h1m12,0h1m-76,1h1m54,0h1m37,0h1m-98,1h1m43,0h1m98,0h1m-143,1h1m31,0h1m3,0h1m14,0h1m3,0h1m2,0h1m21,0h1m12,0h1m33,0h1m-131,1h1m3,0h1m10,0h1m12,0h1m6,0h1m9,0h1m6,0h1m13,0h3m5,0h1m-57,1h1m37,0h1m3,0h1m8,0h1m17,0h1m37,0h1m-97,1h1m2,0h1m6,0h1m5,0h1m24,0h1m-54,1h1m15,0h1m20,0h1m6,0h1m2,0h1m36,0h1m5,0h1m17,0h1m-130,1h1m24,0h1m40,0h1m2,0h1m3,0h1m13,0h1m13,0h1m17,0h1m29,0h1m-147,1h1m6,0h1m40,0h1m14,0h1m5,0h1m17,0h1m7,0h1m2,0h1m-89,1h1m8,0h1m10,0h1m5,0h2m5,0h1m29,0h1m16,0h1m5,0h1m24,0h1m-100,1h1m4,0h1m4,0h1m19,0h1m45,0h1m17,0h1m-117,1h1m10,0h1m27,0h1m2,0h1m9,0h1m17,0h1m24,0h1m-58,1h1m24,0h1m4,0h1m24,0h1m22,0h1m-121,1h1m7,0h1m5,0h1m82,0h1m27,0h1m-126,1h2m13,0h1m7,0h1m19,0h1m15,0h1m-41,1h1m14,0h1m9,0h1m22,0h1m3,0h1m3,0h1m1,0h1m1,0h1m18,0h1m6,0h1m-90,1h1m9,0h1m12,0h1m2,0h1m1,0h1m31,0h1m5,0h1m12,0h1m10,0h1m-102,1h1m3,0h1m53,0h1m48,0h1m12,0h1m-125,1h1m99,0h1m4,0h1m33,0h1m4,0h1m-141,1h1m29,0h1m7,0h1m59,0h1m-103,1h1m2,0h1m4,0h1m32,0h1m30,0h1m40,0h1m3,0h1m-100,1h1m10,0h1m19,0h1m3,0h1m12,0h1m11,0h1m3,0h1m17,0h1m38,0h1m-129,1h1m2,0h1m14,0h1m19,0h1m6,0h1m30,0h1m25,0h1m-105,1h1m10,0h1m1,0h1m28,0h1m11,0h1m17,0h1m2,0h1m10,0h1m11,0h1m-103,1h1m4,0h1m15,0h1m3,0h1m14,0h1m1,0h1m15,0h1m24,0h1m7,0h1m-90,1h1m17,0h1m58,0h1m1,0h1m10,0h1m7,0h1m18,0h1m-103,1h1m10,0h1m14,0h1m6,0h1m5,0h1m8,0h1m11,0h1m18,0h1m1,0h1m45,0h1m-130,1h1m11,0h1m49,0h1m15,0h1m3,0h1m36,0h1m-115,1h1m12,0h2m15,0h1m4,0h1m8,0h1m2,0h1m10,0h1m31,0h1m-82,1h1m60,0h2m7,0h2m-81,1h1m8,0h1m7,0h1m3,0h2m21,0h1m21,0h1m3,0h1m11,0h1m16,0h1m-114,1h1m20,0h1m3,0h1m2,0h1m1,0h2m8,0h1m23,0h1m39,0h1m-102,1h1m16,0h1m5,0h1m9,0h1m50,0h1m-77,1h1m14,0h1m36,0h1m5,0h1m20,0h1m-103,1h1m4,0h1m2,0h1m1,0h1m2,0h1m10,0h1m33,0h2m1,0h1m13,0h1m19,0h1m8,0h1m3,0h1m9,0h1m-79,1h1m3,0h1m2,0h1m40,0h1m5,0h1m17,0h1m-103,1h1m67,0h1m7,0h1m1,0h1m16,0h1m-103,1h1m14,0h1m35,0h1m1,0h2m19,0h1m8,0h1m-46,1h1m46,0h1m15,0h1m5,0h1m-97,1h1m9,0h1m39,0h1m20,0h1m9,0h1m-79,1h1m12,0h1m6,0h1m27,0h1m5,0h1m-51,1h1m11,0h1m11,0h1m39,0h1m-76,1h1m4,0h1m2,0h1m2,0h1m28,0h1m57,0h1m16,0h1m-60,1h1m25,0h1m4,0h1m10,0h1m1,0h1m9,0h1m-118,1h1m53,0h1m38,0h1m-58,1h1m17,0h1m2,0h3m6,0h1m36,0h1m3,0h1m24,0h1m-125,1h1m3,0h1m26,0h1m8,0h1m4,0h1m9,0h1m2,0h1m32,0h1m1,0h1m-91,1h1m8,0h1m23,0h1m4,0h2m15,0h1m8,0h1m20,0h1m16,0h1m-113,1h1m2,0h1m20,0h1m5,0h1m17,0h1m10,0h1m33,0h1m-88,1h2m4,0h1m34,0h1m11,0h1m25,0h1m6,0h1m38,0h1m14,0h1m-148,1h1m16,0h2m11,0h1m11,0h1m23,0h2m24,0h1m34,0h1m4,0h1m-97,1h1m9,0h1m7,0h1m18,0h1m5,0h1m11,0h1m11,0h1m-100,1h1m19,0h2m24,0h1m1,0h1m24,0h1m24,0h1m-101,1h2m10,0h1m12,0h1m6,0h1m38,0h1m2,0h1m7,0h1m16,0h1m35,0h1m-140,1h1m22,0h1m10,0h1m32,0h2m11,0h1m2,0h1m7,0h1m13,0h1m-99,1h1m9,0h1m8,0h1m1,0h1m26,0h2m13,0h1m10,0h1m-73,1h1m51,0h1m13,0h1m20,0h1m3,0h1m38,0h1m-82,1h1m1,0h1m23,0h2m25,0h1m5,0h1m-104,1h1m19,0h1m2,0h1m25,0h1m17,0h1m11,0h1m19,0h1m-91,1h1m9,0h1m26,0h1m22,0h1m12,0h1m-71,1h1m3,0h1m5,0h1m19,0h1m5,0h1m39,0h1m26,0h1m-95,1h1m46,0h1m-33,1h1m11,0h1m9,0h1m12,0h1m8,0h1m24,0h1m-93,1h1m2,0h2m3,0h1m46,0h1m19,0h1m21,0h1m-105,1h1m38,0h1m8,0h2m5,0h1m15,0h1m32,0h1m24,0h1m-136,1h1m29,0h1m19,0h1m2,0h1m7,0h2m-59,1h1m18,0h1m13,0h1m14,0h1m19,0h1m15,0h1m6,0h1m34,0h1m-127,1h1m2,0h1m29,0h1m19,0h1m10,0h2m1,0h1m29,0h1m-107,1h1m25,0h1m24,0h1m2,0h1m24,0h1m40,0h1m9,0h1m4,0h1m4,0h1m-149,1h1m25,0h1m1,0h2m7,0h1m3,0h1m56,0h1m4,0h2m28,0h1m-131,1h1m11,0h1m4,0h1m1,0h1m21,0h1m5,0h1m4,0h1m7,0h1m4,0h1m17,0h1m-80,1h1m10,0h1m17,0h1m11,0h1m-17,1h1m52,0h1m-77,1h1m9,0h1m3,0h1m-25,1h1m3,0h1m3,0h1m9,0h1m24,0h1m6,0h1m3,0h1m5,0h1m42,0h1m25,0h1m-87,1h1m27,0h1m52,0h1m-108,1h1m14,0h1m26,0h2m32,0h1m-47,1h1m24,0h1m3,0h1m8,0h1m3,0h1m10,0h1m-86,1h2m1,0h1m19,0h1m50,0h1m27,0h1m1,0h1m-116,1h1m53,0h1m10,0h1m-71,1h1m7,0h1m15,0h1m2,0h1m12,0h1m29,0h1m2,0h1m4,0h1m1,0h1m-77,1h1m8,0h1m23,0h1m24,0h1m9,0h1m-66,1h1m18,0h1m5,0h1m17,0h1m4,0h1m6,0h1m1,0h1m19,0h1m16,0h1m-45,1h1m38,0h1m13,0h1m7,0h1m-108,1h1m13,0h1m11,0h1m3,0h1m21,0h3m19,0h1m-75,1h1m58,0h1m27,0h1m4,0h1m-96,1h1m36,0h1m5,0h1m49,0h1m8,0h1m34,0h1m-80,1h2m2,0h1m-39,1h2m24,0h1m13,0h2m10,0h1m10,0h1m39,0h1m4,0h1m4,0h1m-137,1h1m24,0h2m12,0h1m17,0h1m6,0h1m6,0h1m7,0h1m15,0h1m1,0h1m-97,1h1m8,0h1m9,0h1m24,0h1m46,0h2m3,0h1m-70,1h1m7,0h1m6,0h1m42,0h1m-94,1h1m45,0h2m7,0h1m4,0h1m3,0h1m3,0h1m12,0h1m5,0h1m2,0h1m-76,1h1m11,0h1m73,0h1m-90,1h1m7,0h1m6,0h1m4,0h1m47,0h1m20,0h1m2,0h1m11,0h1m16,0h1m-135,1h1m18,0h1m12,0h1m30,0h1m-55,1h1m40,0h1m30,0h1m8,0h1m7,0h1m12,0h1m-99,1h1m135,0h1m-149,1h1m29,0h1m54,0h1m18,0h1m-101,1h1m7,0h1m21,0h1m3,0h1m-41,1h1m22,0h1m16,0h1m52,0h1m36,0h1m-122,1h1m5,0h1m32,0h1m16,0h1m4,0h1m20,0h1m13,0h1m34,0h1m-131,1h2m4,0h1m29,0h1m2,0h1m22,0h1m30,0h1m46,0h1m-98,1h2m13,0h1m3,0h1m1,0h1m2,0h1m25,0h1m31,0h1m-130,1h1m1,0h1m17,0h1m1,0h1m37,0h1m-61,1h1m15,0h1m21,0h1m9,0h1m18,0h1m7,0h1m14,0h1m-87,1h1m6,0h1m34,0h1m12,0h1m11,0h1m8,0h1m-87,1h1m2,0h1m44,0h1m27,0h1m9,0h1m15,0h1m2,0h1m2,0h1m7,0h1m33,0h1m-136,1h1m10,0h1m8,0h1m1,0h1m39,0h1m13,0h1m4,0h1m1,0h1m4,0h1m41,0h1m-117,1h1m12,0h1m19,0h1m36,0h1m18,0h1m-107,1h1m5,0h1m29,0h1m35,0h2m-48,1h1m3,0h1m48,0h1m58,0h1m-143,1h1m23,0h1m9,0h1m7,0h1m19,0h1m13,0h1m5,0h1m-77,1h1m10,0h1m35,0h1m28,0h1m-84,1h1m20,0h1m3,0h1m28,0h1m18,0h1m18,0h1m35,0h1m-114,1h1m5,0h1m15,0h1m9,0h1m22,0h1m22,0h1m-60,1h1m34,0h1m7,0h1m9,0h1m6,0h1m8,0h1m-104,1h1m29,0h1m36,0h1m23,0h1m4,0h1m-99,1h1m17,0h1m13,0h1m8,0h1m5,0h1m35,0h1m10,0h1m-86,1h1m27,0h1m25,0h1m8,0h1m14,0h1m4,0h1m4,0h1m-102,1h1m7,0h1m23,0h1m2,0h1m2,0h1m20,0h1m10,0h1m73,0h1m-123,1h1m6,0h1m31,0h1m11,0h1m7,0h2m2,0h1m12,0h1m8,0h1m3,0h1m-87,1h1m11,0h1m17,0h1m18,0h1m8,0h1m35,0h1m-121,1h1m3,0h1m7,0h2m21,0h1m1,0h1m1,0h1m26,0h1m13,0h1m4,0h1m9,0h1m1,0h1m-84,1h1m4,0h2m3,0h1m21,0h1m39,0h1m18,0h1m8,0h1m-94,1h1m7,0h1m29,0h1m2,0h1m49,0h1m-109,1h1m54,0h1m9,0h1m15,0h1m14,0h1m5,0h1m28,0h1m9,0h1m-137,1h1m28,0h1m10,0h1m11,0h1m13,0h1m24,0h1m4,0h2m-103,1h1m2,0h1m7,0h1m16,0h1m6,0h1m3,0h1m27,0h1m-62,1h1m16,0h1m10,0h1m3,0h1m36,0h1m5,0h1m6,0h1m42,0h1m-133,1h1m13,0h1m5,0h1m18,0h1m12,0h1m19,0h1m19,0h1m49,0h1m-114,1h1m6,0h1m29,0h1m2,0h1m43,0h1m13,0h1m-106,1h1m2,0h1m10,0h1m31,0h1m3,0h1m8,0h1m13,0h1m31,0h1m-120,1h1m45,0h1m44,0h1m-102,1h1m29,0h1m18,0h1m28,0h1m7,0h1m9,0h2m17,0h1m-99,1h1m2,0h1m1,0h1m19,0h1m11,0h1m22,0h1m5,0h1m17,0h1m1,0h1m-93,1h1m1,0h1m10,0h1m15,0h1m8,0h1m16,0h1m35,0h1m-100,1h1m19,0h1m11,0h1m8,0h1m11,0h1m27,0h1m28,0h1m-114,1h1m8,0h1m5,0h1m29,0h1m31,0h1m31,0h1m24,0h1m-121,1h1m9,0h1m5,0h1m58,0h1m10,0h1m-98,1h1m12,0h1m6,0h1m11,0h1m12,0h1m49,0h1m-99,1h1m7,0h1m7,0h1m23,0h1m2,0h1m6,0h1m5,0h1m19,0h1m2,0h1m8,0h1m5,0h1m-66,1h1m8,0h1m14,0h1m11,0h1m34,0h1m-98,1h1m28,0h1m25,0h1m45,0h1m-97,1h1m3,0h1m43,0h1m28,0h1m4,0h1m12,0h2m-96,1h1m4,0h1m11,0h1m5,0h1m9,0h1m23,0h1m22,0h1m5,0h2m5,0h1m-97,1h1m7,0h1m1,0h1m3,0h1m4,0h1m21,0h1m2,0h1m10,0h1m34,0h1m-72,1h1m21,0h1m8,0h1m2,0h1m7,0h1m12,0h1m17,0h1m-96,1h1m17,0h1m43,0h1m14,0h1m10,0h1m8,0h1m6,0h1m-101,1h1m1,0h1m16,0h1m3,0h1m11,0h1m8,0h1m6,0h1m4,0h1m1,0h2m3,0h1m-54,1h1m23,0h1m5,0h1m55,0h1m20,0h1m-103,1h1m14,0h1m15,0h1m10,0h1m9,0h1m25,0h1m10,0h1m-100,1h1m14,0h1m6,0h1m11,0h1m51,0h1m-97,1h1m2,0h1m20,0h1m10,0h1m9,0h1m15,0h1m4,0h1m5,0h2m5,0h1m29,0h1m-110,1h1m29,0h1m31,0h1m30,0h1m4,0h1m-90,1h1m2,0h1m3,0h1m4,0h1m12,0h1m4,0h1m15,0h1m6,0h1m22,0h1m1,0h1m59,0h1m-141,1h1m9,0h1m5,0h1m52,0h1m17,0h1m-60,1h2m4,0h1m15,0h1m-56,1h1m12,0h1m53,0h1m19,0h1m-71,1h1m32,0h1m10,0h1m45,0h1m32,0h1m-146,1h1m30,0h1m29,0h1m1,0h1m7,0h1m15,0h1m-83,1h1m1,0h1m7,0h1m3,0h1m1,0h1m1,0h1m36,0h1m24,0h1m-58,1h1m9,0h1m5,0h1m24,0h1m15,0h1m24,0h1m-109,1h1m44,0h1m3,0h1m6,0h1m13,0h1m15,0h1m-86,1h1m12,0h1m67,0h1m45,0h1m-111,1h1m6,0h1m15,0h1m14,0h1m20,0h1m10,0h1m44,0h1m-110,1h1m24,0h2m9,0h3m26,0h1m9,0h1m-102,1h1m53,0h1m10,0h1m-60,1h1m36,0h1m21,0h1m7,0h1m61,0h1m9,0h1m-140,1h3m8,0h1m37,0h1m5,0h1m2,0h1m20,0h1m-69,1h1m33,0h1m14,0h1m9,0h2m62,0h1m9,0h1m-150,1h1m8,0h1m6,0h1m7,0h1m17,0h1m23,0h1m1,0h1m11,0h1m4,0h1m-85,1h1m15,0h1m23,0h1m3,0h1m21,0h1m2,0h1m2,0h1m35,0h1m1,0h1m-113,1h1m28,0h1m2,0h1m12,0h1m5,0h1m15,0h1m15,0h1m5,0h1m5,0h1m-81,1h1m2,0h1m11,0h2m2,0h1m27,0h1m6,0h1m18,0h1m-75,1h1m3,0h1m27,0h1m20,0h1m20,0h1m3,0h1m10,0h1m14,0h1m6,0h1m-108,1h1m4,0h1m81,0h1m39,0h1m-137,1h1m18,0h1m27,0h1m1,0h1m18,0h1m8,0h1m1,0h1m12,0h1m-25,1h1m2,0h1m23,0h1m45,0h1m-150,1h1m73,0h2m9,0h1m-63,1h1m18,0h1m40,0h1m4,0h1m11,0h1m1,0h1m-85,1h1m30,0h1m14,0h1m1,0h1m8,0h1m1,0h1m20,0h1m3,0h1m-101,1h1m12,0h1m4,0h1m30,0h1m6,0h1m9,0h1m23,0h1m3,0h1m8,0h1m-102,1h1m39,0h1m17,0h1m34,0h1m5,0h1m-101,1h1m51,0h1m13,0h1m16,0h1m12,0h1m11,0h1m-102,1h1m18,0h1m12,0h1m34,0h1m16,0h1m4,0h1m9,0h1m24,0h1m-124,1h1m8,0h2m11,0h1m26,0h1m9,0h1m10,0h1m13,0h1m1,0h1m4,0h1m1,0h1m-89,1h1m2,0h1m29,0h1m2,0h1m62,0h1m-96,1h1m27,0h1m15,0h1m4,0h2m9,0h1m4,0h2m16,0h1m-105,1h1m5,0h1m44,0h1m27,0h1m26,0h1m18,0h1m19,0h1m-115,1h1m25,0h1m14,0h1m19,0h1m11,0h1m3,0h1m-109,1h1m39,0h1m14,0h1m84,0h1m-107,1h1m8,0h1m8,0h1m23,0h1m8,0h1m15,0h1m12,0h1m15,0h1m-131,1h1m3,0h1m18,0h1m12,0h1m5,0h1m21,0h1m28,0h1m14,0h1m-95,1h1m5,0h1m31,0h1m8,0h1m28,0h1m5,0h1m38,0h1m9,0h1m-125,1h1m7,0h1m54,0h1m16,0h1m14,0h1m13,0h1m-131,1h1m8,0h1m1,0h1m4,0h1m2,0h1m17,0h1m8,0h1m59,0h1m33,0h1m-129,1h1m14,0h1m8,0h1m29,0h1m29,0h1m-94,1h1m5,0h1m38,0h1m2,0h1m21,0h1m8,0h1m11,0h1m5,0h1m29,0h1m-119,1h1m10,0h1m4,0h1m5,0h1m5,0h1m1,0h1m4,0h1m1,0h1m8,0h1m7,0h1m2,0h1m27,0h1m7,0h1m34,0h1m-141,1h1m4,0h1m7,0h2m18,0h1m7,0h1m18,0h1m1,0h1m55,0h1m-92,1h1m3,0h1m8,0h1m32,0h1m34,0h1m-72,1h1m17,0h1m11,0h1m2,0h1m8,0h1m1,0h1m32,0h1m1,0h1m-105,1h1m12,0h1m11,0h1m44,0h1m2,0h1m18,0h1m25,0h1m19,0h1m-142,1h1m5,0h1m17,0h1m16,0h1m6,0h1m17,0h1m6,0h2m12,0h1m-92,1h2m74,0h1m17,0h1m-70,1h1m5,0h1m29,0h1m21,0h1m29,0h1m-62,1h1m7,0h1m4,0h1m4,0h2m6,0h1m22,0h1m1,0h1m21,0h1m-122,1h1m11,0h1m12,0h1m10,0h1m43,0h1m13,0h1m-101,1h1m13,0h1m12,0h1m8,0h3m51,0h1m1,0h1m2,0h1m3,0h1m-88,1h1m11,0h1m17,0h1m4,0h1m22,0h1m66,0h1m-130,1h2m20,0h1m1,0h1m17,0h1m62,0h1m-105,1h1m4,0h1m3,0h1m8,0h1m6,0h1m1,0h1m8,0h1m5,0h1m11,0h1m4,0h1m19,0h1m10,0h1m3,0h1m3,0h1m-111,1h1m8,0h1m17,0h1m2,0h3m8,0h1m20,0h1m4,0h1m31,0h1m-86,1h1m6,0h1m72,0h1m-93,1h1m42,0h1m7,0h2m36,0h1m24,0h1m-70,1h1m1,0h1m5,0h1m7,0h1m17,0h1m1,0h1m17,0h1m1,0h1m21,0h1m-124,1h1m19,0h1m1,0h1m17,0h1m9,0h1m8,0h1m2,0h1m24,0h1m10,0h1m15,0h1m-13,1h1m-90,1h1m7,0h1m23,0h1m17,0h1m22,0h1m4,0h1m1,0h1m3,0h1m-88,1h1m7,0h1m19,0h1m4,0h1m42,0h1m8,0h1m-93,1h1m20,0h1m19,0h1m15,0h1m35,0h1m5,0h1m30,0h1m-132,1h1m1,0h1m8,0h1m5,0h1m3,0h1m7,0h1m20,0h1m4,0h1m58,0h1m-88,1h1m35,0h1m10,0h1m6,0h1m32,0h1m-119,1h1m18,0h1m14,0h1m17,0h1m8,0h1m12,0h1m-59,1h1m38,0h1m21,0h2m6,0h1m1,0h1m18,0h1m13,0h1m-113,1h1m28,0h1m10,0h1m2,0h1m64,0h1m-115,1h1m3,0h1m4,0h1m6,0h1m66,0h1m13,0h1m18,0h1m-104,1h1m10,0h1m9,0h1m16,0h1m4,0h1m15,0h1m8,0h1m7,0h1m-25,1h1m13,0h1m43,0h1m-121,1h1m10,0h1m66,0h1m10,0h2m14,0h1m3,0h1m-114,1h1m10,0h1m43,0h1m8,0h1m2,0h1m27,0h1m-79,1h1m10,0h1m7,0h1m5,0h1m24,0h1m2,0h1m10,0h1m2,0h1m5,0h1m18,0h1m14,0h1m9,0h1m-130,1h1m12,0h1m5,0h1m43,0h1m6,0h1m25,0h1m-85,1h1m47,0h1m17,0h2m-80,1h1m1,0h1m7,0h1m69,0h1m7,0h1m13,0h1m-103,1h1m1,0h1m35,0h1m2,0h1m3,0h1m9,0h1m12,0h1m12,0h1m-85,1h1m36,0h1m29,0h1m18,0h1m-78,1h1m22,0h1m19,0h1m41,0h1m1,0h1m-89,1h1m2,0h1m19,0h1m5,0h1m27,0h1m3,0h1m32,0h1m10,0h1m28,0h1m-144,1h1m4,0h1m31,0h1m5,0h1m5,0h2m8,0h1m20,0h1m8,0h1m8,0h2m-66,1h1m26,0h1m4,0h1m1,0h1m6,0h1m-74,1h1m22,0h1m32,0h1m1,0h1m7,0h1m14,0h1m3,0h2m-79,1h1m1,0h1m5,0h1m5,0h1m37,0h1m36,0h1m3,0h1m-96,1h1m61,0h1m23,0h1m38,0h1m-120,1h1m6,0h1m56,0h1m-41,1h1m4,0h1m19,0h1m8,0h1m11,0h1m15,0h1m-98,1h1m6,0h1m19,0h1m10,0h1m20,0h1m1,0h1m4,0h1m27,0h1m8,0h1m3,0h1m-95,1h1m2,0h1m1,0h1m1,0h1m2,0h1m5,0h1m23,0h1m14,0h1m10,0h1m4,0h1m30,0h1m29,0h1m-136,1h1m5,0h1m12,0h1m27,0h1m6,0h1m50,0h1m-117,1h1m16,0h1m8,0h1m28,0h1m9,0h1m4,1h1m15,0h1m7,0h1m13,0h1m-102,1h1m8,0h1m13,0h1m19,0h2m2,0h2m24,0h1m12,0h1m-85,1h1m29,0h1m15,0h1m2,0h1m7,0h1m23,0h1m-89,1h1m28,0h1m4,0h1m15,0h1m3,0h1m24,0h1m-76,1h1m41,0h1m7,0h1m10,0h1m22,0h1m10,0h1m19,0h1m14,0h1m4,0h1m-132,1h1m10,0h1m2,0h1m10,0h1m14,0h1m36,0h1m-85,1h1m7,0h1m20,0h1m28,0h1m10,0h1m4,0h1m9,0h1m14,0h1m28,0h1m-126,1h1m37,0h1m3,0h1m1,0h1m11,0h1m30,0h1m6,0h1m-103,1h1m6,0h2m1,0h1m32,0h1m48,0h1m-74,1h1m12,0h1m4,0h1m13,0h1m5,0h1m1,0h1m2,0h2m5,0h1m5,0h1m57,0h1m-109,1h1m14,0h1m14,0h1m1,0h1m21,0h1m18,0h1m4,0h1m-78,1h1m3,0h2m3,0h1m47,0h1m7,0h1m10,0h1m15,0h1m-112,1h1m5,0h1m13,0h1m31,0h1m8,0h1m37,0h1m36,0h1m-145,1h1m22,0h1m19,0h1m7,0h1m5,0h1m2,0h1m10,0h1m-69,1h1m14,0h1m12,0h1m7,0h1m14,0h1m54,0h1m19,0h1m-127,1h1m30,0h1m32,0h1m12,0h1m2,0h1m16,0h1m38,0h1m-128,1h1m18,0h1m6,0h1m14,0h1m7,0h1m7,0h2m24,0h2m12,0h1m9,0h1m24,0h1m-123,1h1m7,0h1m29,0h1m1,0h1m6,0h1m14,0h1m59,0h1m-144,1h1m4,0h1m20,0h1m22,0h1m1,0h1m3,0h1m20,0h1m-78,1h1m10,0h1m34,0h1m1,0h1m9,0h1m36,0h1m2,0h1m18,0h1"/>
<path stroke="#481a6c" d="M62,16h1m-47,1h1m55,0h1m-43,2h1m41,0h1m61,0h1m14,1h1m-111,1h1m2,1h1m3,1h1m78,0h1m1,0h1m-86,1h1m62,0h1m15,0h1m5,1h1m-92,1h1m117,0h1m4,0h1m-56,1h1m24,0h1m-108,1h1m86,0h1m9,1h1m34,0h1m-135,1h1m24,0h1m12,0h2m6,0h1m19,0h1m9,0h1m7,0h1m20,0h1m13,0h1m-86,1h1m21,0h1m5,0h1m-73,1h1m16,0h1m1,0h1m15,0h1m37,0h1m12,0h1m10,0h1m6,0h1m29,0h1m4,0h1m-122,1h1m28,0h1m4,0h1m13,0h1m17,0h1m-64,1h2m7,0h2m7,0h2m4,0h1m-41,1h1m3,0h1m5,0h1m9,0h1m14,0h1m5,0h1m39,0h1m1,0h1m18,0h1m-105,1h1m14,0h1m9,0h1m74,0h1m13,0h1m-94,1h1m20,0h1m8,0h1m10,0h1m19,0h1m1,0h1m21,0h1m-104,1h1m45,0h2m1,0h2m39,0h1m-93,1h1m8,0h1m1,0h1m16,0h1m29,0h1m9,0h1m3,0h2m1,0h1m18,0h1m30,0h1m-127,1h1m13,0h1m12,0h1m5,0h1m6,0h1m4,0h1m8,0h1m1,0h1m5,0h1m10,0h1m10,0h1m4,0h1m5,0h1m-100,1h1m1,0h1m7,0h1m4,0h1m44,0h1m18,0h4m11,0h2m49,0h1m-75,1h1m7,0h1m23,0h1m16,0h1m-119,1h2m12,0h1m32,0h1m34,0h1m6,0h1m7,0h1m5,0h1m6,0h1m12,0h1m19,0h1m-124,1h1m3,0h2m8,0h1m56,0h1m6,0h1m17,0h1m11,0h1m-98,1h1m22,0h1m1,0h1m12,0h1m18,0h1m9,0h1m34,0h1m-120,1h1m13,0h1m15,0h1m35,0h1m14,0h1m18,0h1m-111,1h1m10,0h1m15,0h1m14,0h2m7,0h1m38,0h1m2,0h3m6,0h1m7,0h1m-108,1h1m4,0h1m1,0h1m31,0h1m23,0h1m5,0h1m-45,1h1m12,0h1m3,0h1m7,0h1m29,0h1m15,0h1m-105,1h1m11,0h1m27,0h1m2,0h1m59,0h1m-95,1h1m4,0h1m50,0h1m23,0h1m3,0h1m-83,1h1m15,0h1m8,0h1m11,0h1m16,0h1m3,0h1m5,0h1m23,0h1m-94,1h1m34,0h1m7,0h1m25,0h1m53,0h1m-112,1h1m4,0h1m16,0h1m31,0h1m3,0h1m16,0h1m9,0h1m1,0h1m11,0h1m-102,1h1m10,0h1m1,0h1m14,0h1m11,0h1m19,0h1m12,0h1m12,0h1m-96,1h1m73,0h1m9,0h1m-68,1h1m42,0h1m27,0h1m-91,1h1m4,0h1m51,0h1m10,0h1m24,0h2m7,0h1m1,0h1m-100,1h1m24,0h1m40,0h1m6,0h1m6,0h1m2,0h1m10,0h1m29,0h1m-129,1h1m8,0h1m22,0h1m29,0h2m-62,1h1m1,0h1m15,0h1m28,0h1m6,0h1m1,0h1m26,0h1m2,0h1m54,0h1m-137,1h1m4,0h1m13,0h1m19,0h1m10,0h1m13,0h1m21,0h1m49,0h1m-120,1h1m5,0h1m12,0h1m28,0h1m7,0h1m15,0h1m14,0h1m21,0h1m-132,1h1m9,0h1m53,0h1m12,0h1m23,0h1m14,0h1m-107,1h1m3,0h1m17,0h1m10,0h1m14,0h1m-64,1h1m11,0h1m13,0h1m10,0h1m22,0h1m14,0h1m38,0h1m-107,1h1m24,0h1m33,0h1m26,0h1m-76,1h1m4,0h1m3,0h2m16,0h2m36,0h1m11,0h1m17,0h1m-109,1h1m6,0h1m3,0h1m7,0h1m13,0h2m11,0h1m19,0h1m29,0h1m-61,1h1m4,0h1m1,0h1m2,0h1m13,0h1m11,0h1m7,0h1m-35,1h1m3,0h1m7,0h1m8,0h1m3,0h1m1,0h1m-81,1h2m36,0h1m7,0h1m14,0h1m43,0h1m-93,1h1m2,0h1m9,0h2m10,0h1m2,0h1m17,0h1m5,0h1m14,0h1m28,0h1m-111,1h1m13,0h1m16,0h1m6,0h1m18,0h1m8,0h1m15,0h1m3,0h1m51,0h1m-127,1h1m3,0h1m4,0h1m7,0h1m17,0h1m5,0h1m10,0h1m2,0h1m35,0h1m6,0h1m-106,1h2m22,0h1m17,0h1m20,0h1m18,0h1m1,0h2m1,0h3m2,0h1m-92,1h1m9,0h1m25,0h1m10,0h1m9,0h1m3,0h1m26,0h2m-9,1h1m35,0h1m-125,1h1m13,0h1m1,0h1m11,0h2m9,0h1m5,0h2m8,0h1m22,0h1m34,0h1m20,0h1m-125,1h1m2,0h1m54,0h1m3,0h1m14,0h1m12,0h1m12,0h1m-103,1h1m3,0h1m79,0h1m9,0h1m-104,1h1m1,0h1m2,0h1m4,0h2m9,0h1m7,0h1m43,0h1m2,0h1m4,0h1m13,0h1m1,0h1m13,0h1m10,0h1m-74,1h1m8,0h1m-52,1h2m16,0h1m29,0h1m2,0h1m32,0h1m-68,1h1m17,0h1m13,0h2m29,0h1m27,0h1m-92,1h1m4,0h1m36,0h1m12,0h1m-80,1h1m21,0h1m9,0h1m36,0h2m42,0h1m-100,1h1m27,1h1m3,0h1m7,0h1m16,0h1m9,0h1m6,0h1m-40,1h1m26,0h1m-76,1h1m11,0h1m25,0h1m46,0h1m26,0h1m-92,1h1m42,0h1m3,0h1m16,0h1m11,0h1m38,0h1m-115,1h1m1,0h1m12,0h1m29,0h1m26,0h1m13,0h1m27,0h1m-137,1h1m27,0h1m2,0h1m17,0h1m14,0h1m16,0h1m1,0h1m2,0h1m23,0h1m-100,1h1m19,0h1m16,0h1m33,0h1m16,0h1m31,0h1m-132,1h1m13,0h2m7,0h1m5,0h1m13,0h1m38,0h1m17,0h2m6,0h1m-87,1h1m74,0h1m-78,1h1m26,0h1m29,0h1m7,0h1m3,0h1m12,0h1m-95,1h1m56,0h1m20,0h1m4,0h1m-77,1h1m12,0h1m8,0h1m13,0h3m4,0h1m5,0h1m-43,1h1m19,0h1m2,0h1m11,0h1m36,0h1m-88,1h1m10,0h1m11,0h1m14,0h1m1,0h1m18,0h1m5,0h1m-50,1h1m19,0h1m7,0h1m2,0h1m2,0h1m1,0h1m12,0h1m21,0h1m5,0h1m5,0h1m-63,1h1m9,0h1m19,0h1m11,0h2m9,0h1m-22,1h1m1,0h1m10,0h1m3,0h2m-89,1h1m70,0h1m4,0h1m-64,1h1m27,0h1m6,0h1m17,0h1m5,0h1m11,0h1m-76,1h1m12,0h1m3,0h1m21,0h1m1,0h1m51,0h1m1,0h1m-110,1h1m30,0h1m1,0h1m2,0h1m20,0h1m15,0h1m2,0h1m6,0h1m-78,1h1m26,0h1m44,0h1m2,0h1m33,0h1m-99,1h1m12,0h1m15,0h2m21,0h1m3,0h1m7,0h1m8,0h1m-66,1h1m15,0h1m26,0h1m30,0h1m35,0h1m-128,1h1m18,0h1m22,0h1m14,0h1m2,0h1m7,0h1m1,0h1m9,0h2m21,0h1m-99,1h1m22,0h1m1,0h1m50,0h1m13,0h1m-91,1h1m24,0h1m15,0h1m25,0h1m5,0h1m1,0h1m-70,1h1m12,0h2m9,0h1m9,0h1m3,0h2m-62,1h1m8,0h1m9,0h1m14,0h1m9,0h1m6,0h1m13,0h1m10,0h1m20,0h1m-69,1h1m14,0h1m2,0h1m35,0h1m5,0h1m-75,1h1m3,0h1m14,0h1m24,0h1m3,0h1m38,0h1m40,0h1m-140,1h1m4,0h1m26,0h1m5,0h1m21,0h1m20,0h1m8,0h1m2,0h1m14,0h1m-81,1h1m7,0h1m29,0h1m43,0h1m-69,1h1m34,0h1m-58,1h1m7,0h2m9,0h1m6,0h1m30,0h1m-74,1h1m23,0h1m68,0h1m4,0h1m-109,1h1m7,0h1m4,0h1m5,0h1m9,0h2m14,0h1m18,0h1m-55,2h1m2,0h1m10,0h2m7,0h1m8,0h1m5,0h1m10,0h1m10,0h1m9,0h1m10,0h1m-91,1h1m41,0h1m53,0h1m12,0h1m-87,1h1m11,0h1m18,0h1m12,0h1m14,0h1m6,0h1m1,0h1m-52,1h1m10,0h1m4,0h1m13,0h1m21,0h1m-73,1h1m2,0h1m23,0h1m10,0h1m17,0h1m18,0h1m23,0h1m-110,1h1m79,0h1m-48,1h1m1,0h1m22,0h1m-54,1h1m24,0h1m22,0h1m2,0h1m6,0h1m9,0h1m19,0h1m3,0h1m41,0h1m-148,1h1m30,0h1m1,0h1m10,0h1m4,0h1m40,0h2m19,0h1m-86,1h1m19,0h1m17,0h1m22,0h1m-78,1h1m3,0h1m20,0h1m13,0h1m-47,1h1m10,0h2m32,0h1m48,0h1m3,0h1m-67,1h1m6,0h2m11,0h1m4,0h1m2,0h1m2,0h1m3,0h1m20,0h1m-72,1h1m8,0h1m27,0h1m2,0h1m3,0h1m13,0h1m5,0h1m-24,1h1m17,0h1m17,0h2m-102,1h1m20,0h1m5,0h1m5,0h1m41,0h1m-54,1h1m1,0h1m37,0h1m14,0h1m5,0h1m11,0h1m-93,1h1m38,0h1m49,0h1m57,0h1m-135,1h1m16,0h1m7,0h1m7,0h1m14,0h1m15,0h1m15,0h1m7,0h1m-86,1h1m-19,1h1m23,0h1m34,0h1m3,0h1m5,0h1m2,0h1m42,0h1m-101,1h1m1,0h1m18,0h1m2,0h1m4,0h1m18,0h1m26,0h1m-88,1h1m14,0h1m12,0h2m8,0h1m26,0h1m15,0h1m30,0h1m18,0h1m-124,1h1m19,0h1m12,0h1m17,0h1m4,0h1m26,0h1m4,0h1m34,0h1m-106,1h1m18,0h1m30,0h1m7,0h1m-59,1h1m8,0h1m57,0h1m7,0h1m-95,1h1m11,0h1m8,0h1m11,0h1m13,0h2m18,0h1m-70,1h1m23,0h1m8,0h1m9,0h1m11,0h1m2,0h1m5,0h1m7,0h1m5,0h1m2,0h1m3,0h1m21,0h1m18,0h1m-58,1h1m29,0h1m-70,1h1m20,0h1m7,0h1m12,0h1m7,0h1m-79,1h1m13,0h2m35,0h1m4,0h1m6,0h1m12,0h1m9,0h1m14,0h1m-54,1h1m13,0h1m1,0h1m25,0h1m14,0h1m18,0h1m14,0h1m-150,1h1m18,0h1m5,0h1m5,0h1m20,0h1m2,0h1m2,0h1m10,0h1m41,0h1m-103,1h1m38,0h1m11,0h1m1,0h1m-50,1h1m15,0h1m4,0h1m18,0h1m2,0h1m6,0h1m21,0h1m12,0h1m5,0h1m-99,1h1m1,0h1m39,0h1m1,0h1m8,0h1m2,0h1m12,0h1m2,0h1m4,0h1m16,0h1m43,0h1m4,0h1m-131,1h1m21,0h1m6,0h1m12,0h1m1,0h1m14,0h1m9,0h1m6,0h1m3,0h1m9,0h1m-102,1h1m5,0h1m1,0h1m13,0h1m16,0h1m38,0h1m22,0h1m5,0h1m3,0h1m14,0h1m-102,1h1m18,0h1m2,0h2m7,0h1m16,0h1m4,0h1m52,0h1m-126,1h1m57,0h1m6,0h1m19,0h1m5,0h1m-56,1h1m24,0h1m5,0h1m-37,1h1m48,0h1m7,0h1m-77,1h1m14,0h1m33,0h1m1,0h1m2,0h1m4,0h1m14,0h1m38,0h1m-129,1h1m17,0h1m4,0h1m7,0h1m4,0h1m1,0h1m32,0h1m11,0h1m-79,1h1m28,0h1m1,0h1m44,0h1m9,0h1m6,0h1m-91,1h1m6,0h1m5,0h2m9,0h1m7,0h1m13,0h1m7,0h1m4,0h1m14,0h2m10,0h1m-101,1h1m1,0h1m7,0h1m34,0h1m8,0h1m7,0h1m2,0h1m13,0h1m39,0h1m-106,1h1m30,0h1m6,0h1m16,0h2m26,0h1m10,0h1m25,0h1m-67,1h1m12,0h1m12,0h1m2,0h2m1,0h1m9,0h1m-83,1h1m13,0h1m45,0h1m7,0h1m-48,1h1m15,0h1m20,0h1m37,0h1m-115,1h1m5,0h1m2,0h1m2,0h1m3,0h1m15,0h1m91,0h1m-133,1h1m28,0h1m12,0h1m12,0h1m9,0h1m34,0h1m41,0h1m-127,1h1m6,0h1m18,0h2m2,0h1m13,0h1m2,0h1m-64,1h1m43,0h1m17,0h1m20,0h1m2,0h1m4,0h1m8,0h1m7,0h1m-55,1h1m82,0h1m-123,1h1m13,0h1m6,0h2m9,0h1m19,0h1m3,0h1m8,0h1m9,0h1m13,0h1m-22,1h1m48,0h1m-100,1h1m9,0h1m-15,1h1m8,0h1m3,0h1m14,0h1m3,0h1m5,0h1m14,0h1m5,0h1m19,0h1m-112,1h1m3,0h1m2,0h1m1,0h1m20,0h1m3,0h1m5,0h1m8,0h1m23,0h1m13,0h1m37,0h1m-113,1h1m20,0h1m37,0h1m24,0h1m-76,1h1m11,0h1m1,0h1m14,0h1m14,0h1m11,0h1m-79,1h1m6,0h1m2,0h1m50,0h2m20,0h1m61,0h1m-115,1h1m22,0h1m19,0h1m2,0h1m-76,1h1m4,0h1m9,0h1m2,0h1m3,0h1m13,0h1m30,0h1m1,0h1m33,0h1m19,0h1m-126,1h1m20,0h1m16,0h1m29,0h1m26,0h1m3,0h1m30,0h1m-131,1h1m52,0h1m6,0h1m38,0h1m-96,1h1m4,0h1m17,0h1m28,0h1m20,0h1m15,0h1m-87,1h1m7,0h1m1,0h1m6,0h1m34,0h1m22,0h1m4,0h1m5,0h1m21,0h1m24,0h1m-132,1h1m61,0h1m24,0h1m-100,1h1m4,0h1m82,0h1m4,0h1m4,0h1m7,0h1m11,0h1m-55,1h1m33,0h1m13,0h1m1,0h1m-117,1h1m39,0h1m10,0h2m25,0h1m26,0h1m6,0h1m22,0h1m9,0h1m-143,1h1m20,0h1m17,0h1m92,0h1m-107,1h1m11,0h1m24,0h1m2,0h1m15,0h1m12,0h1m15,0h1m-85,1h1m2,0h1m65,0h1m1,0h1m12,0h1m-102,1h1m32,0h1m7,0h1m11,0h1m20,0h1m24,0h1m-93,1h1m18,0h1m59,0h1m3,0h1m1,0h1m-77,1h1m10,0h1m3,0h1m7,0h1m14,0h1m-7,1h1m8,0h1m7,0h1m4,0h1m24,0h1m-43,1h1m9,0h1m41,0h1m-99,1h3m42,0h1m16,0h1m6,0h1m-87,1h1m67,0h1m9,0h1m18,0h1m-99,1h1m21,0h1m20,0h1m4,0h1m21,0h1m5,0h1m13,0h1m-93,1h1m2,0h1m7,0h1m6,0h1m6,0h1m13,0h1m5,0h1m43,0h1m10,0h1m1,0h1m9,0h1m-87,1h1m2,0h1m69,0h1m25,0h1m-102,1h1m4,0h1m2,0h1m2,0h1m3,0h1m9,0h1m18,0h1m8,0h1m8,0h1m17,0h1m11,0h1m23,0h1m4,0h1m-140,1h1m2,0h1m20,0h2m13,0h1m4,0h1m32,0h1m-64,1h1m25,0h1m14,0h1m11,0h1m-51,1h2m14,0h1m37,0h1m8,0h1m3,0h1m7,0h1m11,0h1m19,0h1m-122,1h1m11,0h1m1,0h1m6,0h1m1,0h1m10,0h1m23,0h1m31,0h1m6,0h1m5,0h1m-87,1h1m33,0h1m47,0h1m-67,1h1m22,0h1m17,0h1m51,0h1m-114,1h1m31,0h1m5,0h1m-56,1h1m10,0h1m46,0h1m35,0h1m4,0h1m-82,1h1m30,0h1m14,0h1m9,0h2m35,0h1m-114,1h1m1,0h1m1,0h1m6,0h1m3,0h1m44,0h1m3,0h1m1,0h1m12,0h1m-61,1h1m22,0h2m2,0h1m15,0h1m8,0h1m6,0h1m3,0h1m1,0h1m22,0h1m-104,1h1m10,0h2m8,0h2m1,0h1m18,0h1m20,0h1m73,0h1m-127,1h1m7,0h1m6,0h1m39,0h1m9,0h1m31,0h1m1,0h1m31,0h1m-138,1h1m14,0h1m9,0h1m26,0h1m46,0h1m-98,1h1m2,0h1m37,0h1m7,0h2m12,0h1m16,0h1m6,0h1m37,0h1m-139,1h1m39,0h1m10,0h1m2,0h1m28,0h1m9,0h1m-56,1h1m-41,1h1m43,0h1m4,0h1m4,0h1m13,0h1m41,0h1m3,0h1m-111,1h1m2,0h1m2,0h1m48,0h1m13,0h1m46,0h1m-108,1h1m10,0h1m5,0h1m3,0h1m2,0h1m19,0h1m12,0h1m13,0h1m-76,1h1m8,0h1m11,0h1m1,0h1m28,0h1m5,0h1m1,0h1m16,0h1m9,0h1m1,0h1m13,0h1m-87,1h1m16,0h1m11,0h1m-36,1h1m5,0h1m5,0h1m33,0h1m11,0h1m1,0h2m1,0h1m4,0h1m-50,1h1m-38,1h1m21,0h1m26,0h1m5,0h1m12,0h1m14,0h1m-57,1h1m21,0h1m19,0h1m7,0h1m9,0h1m-70,1h1m1,0h1m13,0h1m18,0h1m48,0h1m45,0h1m-130,1h1m1,0h1m18,0h1m26,0h1m22,0h1m25,0h1m-105,1h1m8,0h1m20,0h1m6,0h1m19,0h1m23,0h1m29,0h1m-82,1h1m19,0h1m4,0h1m16,0h1m18,0h1m-96,1h2m52,0h2m16,0h1m-79,1h1m3,0h1m1,0h1m3,0h1m16,0h1m4,0h1m6,0h2m6,0h1m7,0h1m21,0h1m1,0h1m13,0h1m-41,1h1m-53,1h2m38,0h1m5,0h1m1,0h1m19,0h1m15,0h1m9,0h1m45,0h1m4,0h1m-151,1h1m11,0h1m13,0h1m8,0h1m16,0h2m2,0h1m16,0h1m1,0h1m12,0h1m56,0h1m-101,1h1m13,0h1m35,0h1m5,0h1m12,0h1m15,0h1m-119,1h1m4,0h1m9,0h1m8,0h1m1,0h1m31,0h1m-21,1h1m27,0h1m-79,1h1m7,0h3m7,0h2m18,0h1m30,0h1m-69,1h1m14,0h1m12,0h1m19,0h1m51,0h1m23,0h1m-115,1h1m10,0h1m18,0h1m61,0h1m12,0h1m-75,1h1m44,0h1m6,0h1m25,0h1m-110,1h1m16,0h1m11,0h1m64,0h1m34,0h1m-90,1h1m31,0h1m-82,1h1m35,0h2m4,0h1m7,0h1m3,0h1m13,0h1m24,0h1m-80,1h2m2,0h1m24,0h1m9,0h1m41,0h1m-5,1h1m-70,1h1m43,0h1m29,0h1m-98,1h1m15,0h1m10,0h1m28,0h1m10,0h1m4,0h1m-59,1h1m9,0h1m8,0h1m8,0h1m31,0h1m2,0h1m31,0h1m5,0h1m-101,1h1m4,0h1m22,0h1m6,0h1m45,0h1m10,0h1m-88,1h1m2,0h1m1,0h1m49,0h1m4,0h1m8,0h1m1,0h1m15,0h1m-102,1h1m26,0h1m12,0h1m14,0h1m1,0h1m2,0h2m49,0h1m21,0h1m-122,1h1m5,0h1m9,0h1m30,0h1m5,0h1m6,0h1m5,0h1m1,0h1m-88,1h1m8,0h2m12,0h1m14,0h1m4,0h1m10,0h1m14,0h1m80,0h1m-150,1h1m7,0h1m52,0h2m31,0h1m-91,1h1m5,0h1m7,0h1m10,0h1m6,0h1m87,0h1m-107,1h1m15,0h1m25,0h1m-41,1h1m22,0h1m3,0h1m21,0h1m8,0h1m4,0h1m29,0h1m-107,1h1m51,0h1m15,0h1m31,0h1m-99,1h1m29,0h1m65,0h1m1,0h1m-91,1h1m34,0h1m10,0h1m19,0h1m-75,1h1m3,0h1m23,0h1m7,0h1m-32,1h1m11,0h1m16,0h2m4,0h2m11,0h1m20,0h1m-66,1h1m17,0h1m15,0h1m12,0h1m-51,1h1m8,0h1m12,0h1m49,0h1m9,0h1m7,0h1m-94,1h1m19,0h1m12,0h1m19,0h1m68,0h1m-134,1h1m46,0h1m14,0h1m6,0h1m8,0h1m10,0h1m8,0h1m2,0h1m-101,1h1m19,0h1m26,0h1m40,0h1m2,0h1m-67,1h1m19,0h1m6,0h1m4,0h1m7,0h1m14,0h1m8,0h2m-87,1h1m2,0h1m6,0h1m9,0h1m73,0h1m8,0h1m3,0h1m-100,1h1m13,0h1m6,0h1m3,0h1m4,0h1m14,0h1m10,0h1m16,0h1m-27,1h1m3,0h1m41,0h1m-94,1h1m1,0h1m3,0h1m14,0h1m30,0h1m18,0h1m48,0h1m9,0h1m-131,1h2m14,0h1m40,0h1m-63,1h1m28,0h1m38,0h1m16,0h1m5,0h1m4,0h1m-106,1h1m10,0h1m5,0h1m31,0h1m30,0h1m28,0h1m-53,1h1m17,0h1m8,0h1m18,0h1m45,0h1m-121,1h1m8,0h1m18,0h1m30,0h1m11,0h1m-97,1h1m3,0h1m3,0h1m3,0h1m21,0h1m22,0h1m16,0h1m36,0h1m-89,1h1m41,0h1m7,0h1m31,0h1m-103,1h1m7,0h1m31,0h1m6,0h1m35,0h2m11,0h1m15,0h1m19,0h1m-139,1h1m26,0h1m9,0h1m1,0h1m6,0h1m21,0h1m18,0h1m28,0h1m-108,1h1m10,0h1m8,0h1m3,0h1m45,0h2m3,0h1m4,0h1m-69,1h1m23,0h1m2,0h1m4,0h1m5,0h1m1,0h1m71,0h1m-122,1h1m10,0h2m36,0h1m4,0h1m4,0h1m38,0h1m-103,1h1m4,0h1m15,0h1m16,0h1m16,0h1m-58,1h1m17,0h1m33,0h1m14,0h1m14,0h1m-28,1h1m20,0h1m-72,1h1m11,0h1m56,0h1m16,0h1m16,0h1m-65,1h1m10,0h1m37,0h1m8,0h1m-104,1h1m21,0h1m16,0h1m-8,1h1m14,0h1m8,0h1m13,0h1m1,0h1m5,0h1m9,0h1m8,0h1m-96,1h1m71,0h1m2,0h1m16,0h1m2,0h1m-92,1h1m25,0h1m9,0h1m9,0h1m46,0h1m-74,1h1m18,0h1m5,0h1m11,0h1m19,0h1m-91,1h1m6,0h1m3,0h1m14,0h1m31,0h1m-59,1h1m2,0h1m10,0h2m5,0h1m1,0h1m10,0h1m48,0h1m30,0h1m-99,1h1m2,0h1m22,0h1m24,0h1m50,0h1m-104,1h1m38,0h1m33,0h1m5,0h1m6,0h1m-67,1h1m4,0h1m5,0h1m14,0h1m24,0h1m9,0h1m-36,1h1m6,0h1m13,0h1m23,0h1m-78,1h1m45,0h1m7,0h1m51,0h1m14,0h1m-118,1h1m2,0h1m24,0h1m4,0h1m1,0h1m8,0h1m8,0h1m1,0h1m3,0h1m6,0h1m18,0h1m-101,1h1m18,0h1m8,0h1m27,0h1m13,0h1m-82,1h1m17,0h1m8,0h1m9,0h1m54,0h1m18,0h1m1,0h1m19,0h1m-139,1h1m12,0h1m10,0h1m17,0h1m4,0h1m85,0h1m-84,1h1m43,0h1m-44,1h1m15,0h1m12,0h1m14,0h1m20,0h1m-104,1h1m2,0h1m18,0h1m16,0h1m8,0h1m5,0h1m5,0h1m18,0h1m-77,1h1m17,0h1m21,0h1m17,0h1m-65,1h1m2,0h1m10,0h1m8,0h1m2,0h1m7,0h1m2,0h1m8,0h1m5,0h1m10,0h1m9,0h1m9,0h1m39,0h1m-130,1h1m4,0h1m18,0h2m15,0h1m40,0h1m14,0h1m-76,1h1m14,0h1m7,0h1m42,0h1m50,0h1m-127,1h1m2,0h2m19,0h1m3,0h1m26,0h1m13,0h1m12,0h1m-69,1h1m7,0h1m1,0h1m11,0h1m24,0h1m-43,1h1m4,0h1m4,0h1m7,0h1m29,0h1m1,0h2m3,0h1m26,0h1m4,0h1m-110,1h1m11,0h1m18,0h1m14,0h1m41,0h1m35,0h1m-116,1h2m3,0h1m8,0h1m85,0h1m-126,1h1m13,0h1m17,0h1m13,0h1m5,0h1m33,0h1m17,0h1m-46,1h1m1,0h1m4,0h1m3,0h1m24,0h1m24,0h1m9,0h1m-129,1h1m5,0h1m54,0h1m21,0h1m5,0h1m10,0h1m-87,1h1m21,0h1m37,0h2m2,0h1m2,0h1m34,0h1m-103,1h1m4,0h1m1,0h1m4,0h1m6,0h1m4,0h1m8,0h1m18,0h1m14,0h1m13,0h1m4,0h1m-98,1h1m1,0h1m3,0h1m1,0h2m7,0h1m13,0h1m18,0h1m4,0h1m1,0h1m53,0h1m23,0h1m-140,1h1m11,0h1m49,0h1m8,0h1m13,0h1m31,0h1m-106,1h1m13,0h1m52,0h1m6,0h1m-62,1h1m7,0h1m14,0h1m16,0h1m-60,1h1m28,0h1m15,0h1m21,0h1m60,0h1m4,0h1m-117,1h1m38,0h1m5,0h1m16,0h2m42,0h1m-120,1h1m26,0h1m3,0h1m4,0h1m-39,1h1m8,0h1m5,0h1m4,0h1m9,0h1m8,0h1m3,0h1m12,0h1m10,0h1m-36,1h2m13,0h1m-51,1h1m14,0h1m7,0h1m27,0h1m35,0h1m10,0h2m10,0h1m-115,1h1m5,0h1m10,0h1m11,0h1m61,0h1m11,0h1m19,0h1m-82,1h1m19,0h1m10,0h1m1,0h1m32,0h1m-110,1h2m4,0h1m33,0h1m34,0h1m12,0h1m24,0h1m-94,1h1m13,0h1m18,0h1m8,0h1m27,0h1m58,0h1m-139,1h1m1,0h3m14,0h1m25,0h1m5,0h1m7,0h1m36,0h1m9,0h1m31,0h1m-144,1h1m38,0h1m50,0h1m-90,1h1m51,0h1m38,0h1m20,0h1m4,0h1m14,0h1m-139,1h1m15,0h1m6,0h1m24,0h2m4,0h1m2,0h1m32,0h1m-85,1h1m5,0h1m34,0h1m13,0h1m1,0h1m31,0h1m22,0h1m-72,1h1m29,0h1m9,0h1m8,0h1m5,0h1m-68,1h1m9,0h1m5,0h1m35,0h1m22,0h1m-107,1h1m2,0h1m2,0h1m24,0h1m62,0h1m24,0h1m-125,1h1m20,0h1m24,0h1m11,1h1m11,0h1m3,0h1m5,0h1m19,0h1m12,0h1m25,0h1m-133,1h1m13,0h2m58,0h1m16,0h1m50,0h1m-137,1h1m62,0h1m24,0h1m3,0h1m-82,1h1m14,0h2m6,0h1m40,0h1m8,0h1m9,0h1m-62,1h1m21,0h1m7,0h1m-31,1h2m28,0h1m11,0h1m8,0h1m9,0h1m7,0h1m-103,1h1m2,0h1m5,0h1m17,0h1m18,0h2m18,0h1m13,0h1m35,0h1m-120,1h1m16,0h1m21,0h1m8,0h1m3,0h1m76,0h1m-123,1h1m9,0h1m7,0h1m37,0h1m9,0h2m19,0h1m8,0h1m-87,1h1m21,0h1m8,0h1m10,0h1m4,0h1m23,0h1m2,0h1m15,0h1m-109,1h1m33,0h1m12,0h1m6,0h1m26,0h1m7,0h1m-56,1h1m1,0h1m45,0h1m-72,1h1m6,0h1m19,0h1m8,0h1m6,0h1m5,0h1m6,0h1m1,0h1m8,0h1m12,0h1m-79,1h1m45,0h1m-64,1h1m24,0h1m8,0h1m7,0h1m44,0h1m-82,1h1m48,1h1m3,0h1m2,0h1m4,0h1m28,0h2m-92,1h1m3,0h2m44,0h1m12,0h1m14,0h1m23,0h1m-68,1h1m5,0h1m37,0h1m-83,1h1m20,0h2m25,0h1m1,0h1m22,0h3m55,0h1m-137,1h1m3,0h1m11,0h1m25,0h1m51,0h1m-87,1h3m35,0h1m4,0h1m12,0h1m35,0h1m-97,1h1m5,0h1m23,0h1m19,0h1m4,0h1m13,0h1m-56,1h1m1,0h1m39,0h1m2,0h1m4,0h1m4,0h1m10,0h1m21,0h1m-75,1h1m5,0h1m2,0h1m19,0h1m22,0h1m19,0h1m-99,1h1m11,0h1m12,0h1m17,0h1m50,0h1m-100,1h1m33,0h1m5,0h1m4,0h1m10,0h1m34,0h1m33,0h1m-130,1h1m24,0h1m31,0h1m15,0h1m4,0h1m6,0h1m4,0h1m3,0h1m8,0h1m-101,1h1m13,0h1m10,0h1m27,0h1m29,0h1m-65,1h1m3,0h1m12,0h1m29,0h1m5,0h1m9,0h1m9,0h1m1,0h1m1,0h1m-90,1h1m23,0h1m51,0h1m15,0h1m-92,1h1m17,0h1m25,0h1m3,0h1m2,0h1m14,0h1m2,0h1m3,0h1m1,0h1m1,0h1m-83,1h1m10,0h1m23,0h1m58,0h1m-70,1h1m68,0h1m-101,1h1m24,0h1m11,0h1m4,0h3m44,0h1m-62,1h1m37,0h1m29,0h1m-96,1h1m33,0h1m1,0h1m17,0h2m6,0h1m2,0h1m6,0h1m8,0h1m10,0h2m3,0h1m6,0h1m-56,1h1m3,0h1m42,0h1m19,0h1m-118,1h1m6,0h1m13,0h1m6,0h1m28,0h1m45,0h1m35,0h1m-139,1h1m30,0h1m12,0h1m33,0h1m14,0h1m34,0h1m-123,1h2m18,0h1m12,0h1m23,0h1m13,0h1m10,0h1m2,0h1m-93,1h1m28,0h1m13,0h1m31,0h1m13,0h1m1,0h1m-90,1h1m14,0h1m3,0h1m21,0h1m1,0h1m16,0h1m23,0h1m4,0h1m37,0h1m-120,1h1m40,0h1m12,0h1m4,0h1m5,0h1m39,0h1"/>
<path stroke="#481f70" d="M62,15h1m76,2h1m-124,3h1m30,1h1m-5,1h1m2,0h1m22,0h1m35,1h1m43,0h1m-118,1h1m67,0h1m-29,1h1m56,0h1m-114,2h1m93,1h2m5,0h1m5,0h1m1,0h1m33,0h1m-146,1h1m8,0h1m48,0h1m8,0h1m19,0h2m5,0h1m30,0h1m-93,1h1m2,0h1m17,0h1m1,0h1m3,0h1m7,0h1m10,0h1m11,0h1m-85,1h1m39,0h1m6,0h1m-60,1h1m23,0h1m7,0h1m15,0h1m-35,1h1m13,0h1m10,0h1m19,0h1m46,0h1m-107,1h1m8,0h1m15,0h1m34,0h2m9,0h1m-61,1h1m18,0h1m32,0h1m3,0h1m82,0h1m-119,1h1m35,0h1m5,0h1m28,0h1m12,0h1m-113,1h2m12,0h1m5,0h1m8,0h1m48,0h1m7,0h1m7,0h1m-78,1h2m41,0h1m19,0h1m-39,1h2m18,0h1m28,0h1m7,0h1m8,0h1m-86,1h1m62,0h1m6,0h1m14,0h1m12,0h1m-122,1h1m46,0h1m1,0h1m7,0h1m-55,1h1m8,0h1m11,0h1m26,0h1m24,0h1m5,0h1m3,0h1m44,0h1m-132,1h1m20,0h1m17,0h1m4,0h1m5,0h1m-53,1h1m45,0h1m25,0h1m7,0h1m52,0h1m-133,1h1m17,0h1m15,0h1m1,0h1m15,0h1m18,0h1m22,0h1m18,0h1m-67,1h1m22,0h1m3,0h1m14,0h1m27,0h1m-117,1h1m53,0h1m3,0h1m16,0h1m-75,1h1m43,0h1m24,0h1m-57,1h1m11,0h1m18,0h1m5,0h1m4,0h1m3,0h1m-62,1h1m20,0h1m6,0h1m24,0h1m5,0h1m12,0h1m11,0h1m4,0h1m-82,1h1m4,0h1m1,0h1m14,0h1m26,0h1m69,0h1m-129,1h1m13,0h1m17,0h1m12,0h1m5,0h1m11,0h1m4,1h1m3,0h1m3,0h1m4,0h1m3,0h1m11,0h1m-95,1h1m9,0h3m27,0h1m32,0h1m-67,1h1m13,0h1m5,0h1m17,0h1m4,0h1m17,0h1m10,0h1m2,0h1m42,0h1m-121,1h1m30,0h1m27,0h1m24,0h1m13,0h1m5,0h1m-109,1h1m27,0h1m35,0h1m10,0h1m16,0h1m2,0h2m1,0h1m-101,1h1m11,0h1m13,0h1m33,0h1m1,0h1m16,0h1m-60,1h1m4,0h1m2,0h1m8,0h1m18,0h1m34,0h1m-85,1h1m0,1h1m13,0h1m31,0h1m12,0h1m1,0h1m-16,1h1m7,0h1m4,0h1m27,0h1m3,0h1m-101,1h1m7,0h1m1,0h1m24,0h1m21,0h1m4,0h1m-58,1h1m6,0h1m1,0h1m5,0h2m18,0h1m16,0h1m44,0h1m24,0h1m-129,1h1m21,0h1m1,0h1m44,0h1m18,0h1m7,0h1m17,0h1m-117,1h1m52,0h1m2,0h2m2,0h1m9,0h1m23,0h1m-84,1h1m21,0h1m4,0h1m28,0h2m6,0h1m7,0h1m-80,1h1m35,0h1m20,0h1m35,0h1m12,0h1m14,0h1m-93,1h1m32,0h1m14,0h1m13,0h1m2,0h1m31,0h1m9,0h1m-130,1h1m50,0h1m40,0h1m-95,1h1m1,0h1m15,0h1m8,0h1m36,0h1m21,0h1m49,0h1m-129,1h1m43,0h1m13,0h1m6,0h1m5,0h1m-78,1h1m28,0h1m14,0h1m17,0h1m3,0h1m23,0h1m14,0h1m-90,1h1m33,0h1m10,0h1m-23,1h1m1,0h1m18,0h1m7,0h1m45,0h1m-98,1h1m35,0h1m23,0h1m16,0h1m-103,1h1m1,0h1m7,0h1m25,0h1m10,0h1m48,0h1m-90,1h1m20,0h1m2,0h1m-29,1h1m27,0h1m7,0h1m10,0h1m26,0h1m2,0h1m56,0h1m-102,1h1m42,0h1m33,0h1m-102,1h1m25,0h1m22,0h1m15,0h1m10,0h1m5,0h1m5,0h1m-97,1h1m29,0h1m8,0h1m8,0h2m15,0h1m33,0h1m11,0h1m21,0h1m4,0h1m-142,1h1m1,0h1m13,0h1m17,0h1m31,0h1m-56,1h2m7,0h1m6,0h1m58,0h1m-78,1h1m14,0h1m15,0h1m3,0h1m48,0h1m-89,1h1m38,0h1m10,0h1m10,0h1m3,0h1m13,0h1m7,1h1m21,0h1m-105,1h1m23,0h1m6,0h1m14,0h1m3,0h1m51,0h1m28,0h1m-124,1h1m14,0h2m41,0h2m15,0h1m14,0h1m-74,1h1m36,0h1m35,0h1m-76,1h1m24,0h1m8,0h1m58,0h1m-129,1h1m17,0h1m40,0h1m-56,1h1m28,0h1m15,0h1m29,0h1m-58,1h1m4,0h1m16,0h1m17,0h1m36,0h1m-73,1h1m23,0h1m-24,1h1m37,0h2m14,0h1m9,0h1m4,0h1m-96,2h1m3,0h1m8,0h1m10,0h1m24,0h1m-16,1h1m10,0h1m13,0h1m13,0h1m7,0h1m-57,1h1m24,0h1m4,0h1m-36,1h1m50,0h1m-50,1h1m18,0h1m6,0h1m2,0h1m9,0h1m13,0h1m2,0h1m19,0h1m15,0h1m-116,1h1m2,0h1m15,0h1m15,0h1m10,0h1m70,0h1m-119,1h1m3,0h1m52,0h1m3,0h1m20,0h1m35,0h1m-117,1h1m27,0h1m-27,1h1m7,0h1m26,0h2m23,0h1m47,0h1m3,0h1m-115,1h1m20,0h1m34,0h1m2,0h1m-49,1h1m21,0h1m7,0h1m4,0h1m15,0h1m1,0h1m6,0h1m19,0h1m9,0h1m-91,1h1m3,0h1m67,0h1m3,0h1m4,0h1m7,0h1m-99,1h2m12,0h2m4,0h1m73,0h1m-101,1h2m1,0h1m8,0h1m2,0h1m16,0h1m6,0h1m6,0h1m29,0h1m5,0h1m16,0h1m50,0h1m-106,1h1m1,0h1m-39,1h2m5,0h1m23,0h1m21,0h1m47,0h1m-30,1h1m28,0h1m-103,1h1m2,0h1m26,0h1m62,0h1m6,0h1m-53,1h1m34,0h1m-78,1h1m13,0h1m63,0h1m-74,1h1m1,0h1m19,0h1m12,0h1m20,0h1m28,0h1m-79,1h1m42,0h1m11,0h1m16,0h1m-75,1h1m12,0h1m10,0h1m-41,1h1m10,0h1m9,0h1m11,0h1m28,0h1m21,0h1m-72,1h1m34,0h2m2,0h1m7,0h1m6,0h1m12,0h1m3,0h1m13,0h1m-87,1h1m11,0h1m16,0h1m29,0h1m12,0h1m13,0h1m-107,1h1m24,0h1m4,0h1m32,0h1m-57,1h1m36,0h1m9,0h1m22,0h1m67,0h1m-86,1h2m37,0h1m1,0h1m1,0h1m-87,1h1m2,0h1m20,0h1m11,0h1m1,0h1m-46,1h1m22,0h1m5,0h2m28,0h1m4,0h1m24,0h1m6,0h1m-107,1h1m15,0h1m22,0h1m11,0h1m19,0h1m-45,1h1m2,0h1m4,0h1m17,0h1m4,0h1m20,0h1m5,0h1m8,0h1m45,0h1m-77,1h1m10,0h2m25,0h1m-88,1h1m4,0h1m35,0h1m29,0h1m10,0h1m32,0h1m-105,1h1m12,0h1m21,0h1m22,0h1m12,0h1m-87,1h1m65,0h1m19,0h1m-60,1h1m5,0h1m1,0h1m4,0h1m2,0h1m9,0h1m15,0h1m59,0h1m-97,1h1m2,0h1m16,0h1m33,0h1m11,0h1m-89,1h1m3,0h1m6,0h1m35,0h1m17,0h1m3,0h1m10,0h1m-87,1h1m4,0h1m33,0h1m2,0h1m43,0h1m37,0h1m-117,1h1m1,0h2m29,0h1m24,0h1m-6,1h1m16,0h1m1,0h1m15,0h1m-92,1h1m18,0h1m51,0h1m3,0h1m28,0h1m-111,1h1m9,0h1m19,0h1m23,0h1m10,0h1m4,0h1m6,0h1m25,1h1m21,0h1m-128,1h1m23,0h1m1,0h1m35,0h1m23,0h1m6,0h1m-102,1h1m7,0h1m3,0h1m2,0h1m1,0h1m2,0h1m25,0h1m19,0h1m-63,1h1m29,0h1m62,0h1m-99,1h1m1,0h1m2,0h1m1,0h1m14,0h1m19,0h1m1,0h1m6,0h1m27,0h1m41,0h1m-100,1h1m36,0h1m26,0h1m4,0h1m8,0h1m-67,1h1m91,0h1m-123,1h1m30,0h1m26,0h1m3,0h1m79,0h1m-132,1h1m36,0h1m33,0h2m2,0h1m30,0h1m-110,1h1m23,1h1m50,0h1m10,0h1m13,0h1m-114,1h1m23,0h1m29,0h1m-34,1h1m8,0h1m22,0h1m8,0h1m64,0h1m-130,1h1m40,0h1m10,0h1m24,0h1m20,0h1m8,0h1m-95,1h1m3,0h1m42,0h1m7,0h1m-39,1h1m29,0h1m15,0h1m-33,1h1m30,0h1m10,0h1m13,0h1m-67,1h1m9,0h1m6,0h1m12,0h1m-49,1h1m25,0h1m2,0h1m29,0h1m19,0h1m-93,1h1m6,0h1m6,0h1m1,0h1m4,0h1m12,0h1m3,0h1m3,0h1m9,0h1m1,0h1m15,0h1m15,0h1m23,0h1m-109,1h1m7,0h1m3,0h1m34,0h1m17,0h1m11,0h1m3,0h1m3,0h1m3,0h1m8,0h1m9,0h1m-81,1h1m33,0h1m35,0h1m-95,1h1m-7,1h1m2,0h1m2,0h1m14,0h1m38,0h1m1,0h1m11,0h1m2,0h1m13,0h1m29,0h1m-119,1h1m15,0h1m2,0h1m10,0h1m3,0h1m41,0h1m4,0h1m-64,1h1m16,0h1m9,0h1m4,0h1m46,0h1m15,0h1m-92,2h1m69,0h1m-89,1h1m6,0h1m36,0h1m7,0h1m20,0h1m50,0h1m-95,1h2m55,0h2m4,0h1m-67,1h1m59,0h1m-96,1h1m38,0h1m46,0h1m11,0h1m48,0h1m-131,1h1m12,0h1m9,0h1m4,0h1m14,0h1m17,0h1m3,0h1m-48,1h1m45,0h1m3,0h1m8,0h1m6,0h1m-60,1h2m5,0h1m35,0h1m15,0h1m-81,1h1m53,0h1m2,0h1m19,0h1m-92,1h1m43,0h2m35,0h1m7,0h1m12,0h1m-97,1h1m13,0h1m25,0h1m6,0h1m24,0h1m11,0h1m3,0h1m-100,1h1m17,0h1m11,0h1m62,0h1m31,0h1m4,0h1m-110,1h1m30,0h1m10,0h1m12,0h1m9,0h1m28,0h1m-81,1h1m7,0h1m13,0h1m3,0h1m33,0h1m34,0h1m-135,1h1m29,0h1m34,0h1m-32,1h1m41,0h1m10,0h1m5,0h1m5,0h1m-78,1h1m21,0h1m104,0h1m-136,1h1m9,0h1m57,0h1m26,0h1m-41,1h1m17,0h1m-68,1h1m82,0h1m-98,1h1m47,0h1m12,0h1m24,0h1m-21,1h1m4,0h1m5,0h1m25,0h1m3,0h1m15,0h1m-108,1h1m-24,1h1m11,0h1m76,0h1m7,0h1m-90,1h1m7,0h1m16,0h1m30,0h1m1,0h2m62,0h1m-56,1h1m8,0h1m6,0h1m-79,1h1m16,0h1m15,0h1m16,0h1m1,0h1m25,0h1m16,0h1m-108,1h1m24,0h1m73,0h1m44,0h1m-130,1h1m3,0h1m19,0h1m14,0h1m5,0h1m8,0h1m2,0h1m4,0h1m3,0h1m11,0h1m7,0h1m9,0h1m-107,1h1m10,0h1m15,0h1m-15,1h1m11,0h1m3,0h2m35,0h1m29,0h1m-97,1h1m87,0h2m10,0h1m-99,1h1m4,0h1m24,0h1m1,0h1m1,0h1m20,0h1m31,0h1m54,0h1m-140,1h1m10,0h1m2,0h1m1,0h1m49,0h1m22,0h1m-90,1h1m20,0h1m3,0h1m27,0h1m7,0h1m8,0h1m8,0h1m39,0h1m-131,1h1m13,0h1m12,0h1m4,0h1m11,0h1m16,0h1m1,0h1m4,0h1m26,0h1m16,0h1m-107,1h1m41,0h1m21,0h1m20,0h1m-59,1h1m42,0h1m20,0h1m7,0h1m-105,1h1m35,0h1m5,0h1m39,0h1m13,0h1m7,0h1m-92,1h1m45,0h1m7,0h1m3,0h1m15,0h1m17,0h1m13,0h1m-104,1h1m5,0h1m15,0h2m24,0h1m27,0h1m5,0h1m-91,1h1m2,0h1m1,0h1m32,0h1m68,0h1m-115,1h1m14,0h1m49,0h1m2,0h2m11,0h1m-40,1h1m1,0h4m-20,1h1m16,0h1m12,0h1m35,0h1m-83,1h1m90,0h1m4,0h1m1,0h1m-90,1h1m34,0h1m15,0h1m2,0h1m34,0h1m-80,1h1m27,0h1m23,0h1m2,0h2m-88,1h1m31,0h1m56,0h1m3,0h1m9,0h1m-102,1h1m42,0h1m5,0h1m28,0h1m6,0h1m-65,1h1m20,0h1m17,0h1m55,0h1m-105,1h1m29,0h1m1,0h1m21,0h1m3,0h1m20,0h1m8,0h2m34,0h1m-126,1h1m35,0h1m20,0h1m12,0h1m15,0h1m4,0h1m-104,1h1m15,0h1m31,0h1m23,0h1m24,0h1m4,0h1m-91,1h1m12,0h1m11,0h1m23,0h1m9,0h1m-68,1h1m6,0h1m29,0h1m59,0h1m-103,1h1m1,0h1m9,0h1m10,0h1m6,0h1m5,0h1m33,0h1m14,0h1m-72,1h1m113,0h1m-126,1h1m13,0h1m19,0h1m41,0h1m32,0h1m-95,1h1m46,0h1m17,0h1m2,0h1m12,0h1m-54,1h2m10,0h2m1,0h1m11,0h1m14,0h1m15,0h1m7,0h1m-106,1h1m7,0h1m32,0h1m18,0h2m32,0h1m21,0h1m4,0h1m-106,1h1m35,0h1m16,0h1m-55,1h1m36,0h1m33,0h1m-28,1h1m11,0h1m20,0h1m-91,1h1m26,0h2m5,0h2m8,0h1m15,0h1m25,0h1m-65,1h1m17,0h1m24,0h1m7,0h1m-71,1h1m35,0h1m22,0h1m-53,1h1m21,0h1m14,0h1m2,0h1m-50,1h1m16,0h1m25,0h1m32,0h1m9,0h1m2,0h1m2,0h1m-91,1h1m43,0h1m43,0h1m7,0h1m-92,1h1m15,0h1m32,0h1m-49,1h1m31,0h1m6,0h1m15,0h1m21,0h1m12,0h1m-108,1h1m3,0h1m26,0h1m18,0h1m3,0h2m47,0h1m-89,1h1m26,0h2m1,0h1m12,0h1m42,0h1m5,0h1m29,0h1m-134,1h1m22,0h1m21,0h1m7,0h1m6,0h1m72,0h1m-123,1h1m4,0h1m4,0h1m3,0h1m21,0h1m7,0h1m51,0h1m1,0h1m8,0h1m-103,1h1m20,0h1m19,0h1m29,0h1m-72,1h1m38,0h1m5,0h2m6,0h1m5,0h1m18,0h1m-60,1h1m5,0h1m16,0h1m-61,1h1m2,0h1m58,0h1m26,0h1m17,0h1m-79,1h1m8,0h1m4,0h1m9,0h1m1,0h1m3,0h1m13,0h1m-71,1h1m32,0h1m4,0h1m14,0h1m27,0h1m-88,1h1m19,0h1m24,0h1m33,0h1m-72,1h1m1,0h1m28,0h1m72,0h1m30,0h1m-143,1h1m60,0h1m32,0h1m22,0h1m14,0h1m-86,1h1m47,0h1m-82,1h1m19,0h1m8,0h1m26,0h1m3,0h1m9,0h1m-87,1h1m29,0h1m4,0h1m7,0h1m3,0h1m5,0h1m16,0h1m73,0h1m-123,1h1m6,0h1m4,0h1m5,0h1m23,1h1m4,0h1m2,0h1m20,0h1m-95,1h1m6,0h1m7,0h1m25,0h1m14,0h1m27,0h1m3,0h2m-57,1h1m32,0h1m21,0h1m21,0h1m9,0h1m-100,1h1m3,0h1m63,0h1m-54,1h1m16,0h1m1,0h2m83,0h1m-83,1h1m10,0h2m47,0h1m-76,1h1m11,0h1m23,0h1m26,0h1m-85,1h1m-20,1h1m2,0h1m5,0h1m13,0h1m2,0h1m8,0h1m7,0h1m7,0h1m23,0h1m1,0h1m9,0h1m14,0h1m-86,1h1m24,0h1m28,0h1m20,0h1m-46,1h1m37,0h1m17,0h1m-94,1h1m2,0h1m25,0h1m1,0h1m6,0h1m41,0h1m12,0h1m11,0h1m-116,1h1m19,0h1m20,0h1m7,0h1m34,0h1m18,0h1m-90,1h1m46,0h1m12,0h1m17,0h1m4,0h1m-87,1h1m4,0h1m39,0h1m32,0h1m-51,1h1m39,0h1m4,0h1m9,0h1m4,0h1m-81,1h1m8,0h1m2,0h1m26,0h1m8,0h1m12,0h1m19,0h1m2,0h1m-94,1h1m33,0h1m7,0h1m8,0h1m2,0h1m1,0h1m3,0h1m5,0h1m-79,1h1m14,0h1m21,0h1m8,0h1m21,0h1m3,0h1m3,0h1m57,0h1m-134,1h1m43,0h1m12,0h1m3,0h1m6,0h2m1,0h1m20,0h1m-67,1h1m32,0h1m3,0h1m11,0h1m21,1h1m3,0h1m-94,1h1m4,0h1m7,0h1m3,0h1m5,0h1m18,0h1m1,0h1m3,0h1m2,0h1m10,0h1m9,0h1m-58,1h1m1,0h2m61,0h1m9,0h1m-88,1h1m11,0h1m9,0h1m4,0h1m-4,1h1m49,0h1m-40,1h2m-20,1h1m3,0h1m1,0h1m2,0h1m23,0h1m7,0h1m3,0h1m3,0h1m22,0h2m-99,1h1m12,0h1m22,0h1m1,0h1m9,0h1m5,0h1m5,0h1m4,0h1m32,0h1m26,0h1m-87,1h1m18,0h1m22,0h1m1,0h1m-71,1h1m17,0h1m88,0h1m-115,1h1m31,0h1m7,0h1m2,0h1m31,0h2m2,0h1m8,0h1m-94,1h1m9,0h1m30,0h1m3,0h1m15,0h1m5,0h1m20,0h1m-93,1h1m7,0h1m38,0h1m15,0h1m15,0h1m16,0h1m-95,1h1m25,0h1m6,0h1m7,0h1m10,0h1m25,0h3m-77,1h1m42,0h1m30,0h1m-51,1h1m18,0h1m27,0h1m26,0h1m-83,1h1m7,0h1m39,0h1m-45,1h1m49,0h1m21,0h1m3,0h1m-97,1h1m4,0h1m5,0h1m1,0h1m24,0h1m29,0h1m27,0h1m11,0h1m23,0h1m-107,1h2m10,0h1m73,0h1m-104,1h1m55,0h1m7,0h1m6,0h1m4,0h1m6,0h1m-27,1h1m37,0h1m-101,1h1m5,0h1m30,0h1m8,0h1m3,0h1m1,0h1m28,0h1m3,0h1m-76,1h2m62,0h1m-85,1h2m6,0h1m13,0h1m22,0h1m54,0h2m8,0h1m-104,1h1m8,0h1m8,0h1m12,0h1m14,0h1m23,0h1m4,0h1m-69,1h1m7,0h1m9,0h1m30,0h1m42,0h1m-71,1h1m9,0h1m25,0h1m24,0h1m-60,1h1m-31,1h1m6,0h1m58,0h1m7,0h1m13,0h1m-98,1h1m39,0h1m33,0h1m-66,1h1m28,0h1m15,0h1m10,0h1m2,0h1m3,0h2m65,0h1m-107,1h1m19,0h2m13,0h1m2,0h1m17,0h1m12,0h1m2,0h1m-65,1h1m4,0h1m2,0h1m33,0h1m-79,1h1m11,0h1m12,0h1m24,0h2m39,0h2m-67,1h1m41,0h1m6,0h1m3,0h1m34,0h1m-113,1h1m33,0h1m12,0h1m14,0h1m74,0h1m-73,1h1m10,0h1m23,0h1m-109,1h1m49,0h1m52,0h1m1,0h1m-103,1h2m59,0h1m27,0h1m37,0h1m-127,1h2m34,0h1m11,0h1m22,0h2m14,0h1m14,0h1m7,0h1m-114,1h1m1,0h1m6,0h1m38,0h1m10,0h1m1,0h1m15,0h1m15,0h1m-64,1h1m22,0h1m35,0h1m49,0h1m-117,1h1m5,0h1m19,0h1m7,0h1m6,0h1m2,0h1m33,0h1m47,0h1m-145,1h2m17,0h1m28,0h1m8,0h1m13,0h1m1,0h2m5,0h1m8,0h1m34,0h1m4,0h1m-116,1h1m7,0h1m59,0h1m27,0h1m-103,1h1m26,0h1m41,0h1m9,0h1m-93,1h1m27,0h1m24,0h1m10,0h1m1,0h1m52,0h1m-26,1h1m2,0h1m6,0h2m13,0h1m29,0h1m-129,1h1m39,0h1m15,0h1m-77,1h1m19,0h1m3,0h1m3,0h1m9,0h1m10,0h1m8,0h1m26,0h1m4,0h1m10,0h1m-64,1h1m42,0h1m2,0h1m3,0h1m-57,1h1m24,0h1m10,0h1m34,0h1m10,0h1m3,0h1m-103,1h1m19,0h1m14,0h1m31,0h1m10,0h1m11,0h1m-97,1h1m11,0h1m3,0h1m9,0h1m26,0h1m38,0h1m-96,1h1m23,0h2m30,0h1m1,0h1m1,0h1m18,0h1m-67,1h1m8,0h1m14,0h1m2,0h1m34,0h1m14,0h1m6,0h1m-85,1h1m9,0h1m1,0h1m31,0h2m16,0h1m31,0h1m23,0h1m4,0h1m-145,1h1m27,0h1m15,0h1m2,0h1m5,0h1m49,0h1m-80,1h1m8,0h1m1,0h1m14,0h1m23,0h1m9,0h1m17,0h1m-101,1h1m8,0h1m4,0h1m26,0h1m52,0h1m1,0h1m5,0h1m-98,1h1m24,0h1m1,0h1m2,0h1m5,0h1m11,0h1m3,0h1m74,0h1m-132,1h3m4,0h1m20,0h1m13,0h1m8,0h1m9,0h2m6,0h1m11,0h1m20,0h1m-98,1h1m3,0h1m61,0h1m4,0h1m54,0h1m-48,1h2m-76,1h1m39,0h2m14,0h1m4,0h1m7,0h1m8,0h1m2,0h1m29,0h1m-118,1h1m29,0h1m12,0h1m9,0h1m24,0h1m2,0h1m26,0h1m1,0h1m1,0h1m-96,1h1m17,0h1m9,0h1m5,0h1m17,0h1m4,0h1m8,0h1m14,0h1m-71,1h1m-25,1h1m8,0h1m9,0h1m34,0h2m21,0h1m8,0h1m2,0h1m43,0h1m-84,1h1m5,0h1m5,0h1m-71,1h1m20,0h1m66,0h1m6,0h1m-53,1h1m14,0h1m1,0h1m-38,1h1m10,0h2m5,0h1m54,0h1m39,0h1m-130,1h1m10,0h1m27,0h1m21,0h2m27,0h1m-96,1h1m20,0h1m9,0h1m4,0h1m12,0h1m8,0h1m4,0h1m7,0h1m-69,1h1m30,0h1m36,0h1m8,0h1m-87,1h1m6,0h1m28,0h1m45,0h1m8,0h1m13,0h1m-97,1h1m28,0h1m15,0h2m4,0h1m30,0h2m23,0h1m3,0h1m-103,1h1m9,0h1m5,0h1m13,0h1m1,0h1m5,0h1m22,0h2m16,0h1m-98,1h1m54,0h1m18,0h1m28,0h1m-87,1h1m33,0h2m35,0h1m2,0h1m20,0h1m-112,1h1m36,0h2m21,0h1m17,0h1m28,0h1m-107,1h1m5,0h1m43,0h1m5,0h1m3,0h1m8,0h1m16,0h1m-89,1h1m1,0h1m5,0h1m25,0h1m14,0h1m-39,1h1m17,0h1m36,0h1m16,0h1m20,0h1m-91,1h1m11,1h1m77,0h1m-84,1h1m12,0h1m9,0h1m23,0h1m28,0h1m-78,1h1m9,0h1m33,0h1m18,0h1m11,0h1m-57,1h1m40,0h1m20,0h1m3,0h1m19,0h1m-117,1h1m7,0h2m2,0h1m6,0h1m7,0h1m1,0h1m8,0h1m-40,1h1m11,0h1m43,0h1m19,0h1m33,0h1m-72,1h1m6,0h1m7,0h1m-23,1h1m1,0h1m35,0h1m2,0h1m-81,1h1m21,0h1m1,0h1m13,0h1m27,0h1m14,0h1m67,0h1m-142,1h1m19,0h1m12,0h1m13,0h1m20,0h1m-77,1h1m36,0h1m11,0h1m-1,1h1m8,0h1m26,0h1m33,0h1m-115,1h1m2,0h1m25,0h1m29,0h1m27,0h1m-92,1h1m16,0h1m13,0h1m12,0h1m14,0h1m23,0h1m6,0h1m15,0h1m-99,1h1m22,0h1m25,0h1m16,0h1m16,0h1m10,0h1m13,1h1m26,0h1m-144,1h1m8,0h1m17,0h1m-29,1h2m6,0h1m83,0h2m19,0h1m-105,1h1m20,0h1m2,0h1m17,0h1m52,0h1m-80,1h1m41,0h1m17,0h1m15,0h1m3,0h1m13,0h1m19,0h1m4,0h1m4,0h1m-102,1h1m3,0h1m31,0h2m10,0h1m5,0h1m-85,1h1m24,0h1m20,0h1m12,0h1m-68,1h1m20,0h1m12,0h1m22,0h1m47,0h1m-72,1h1m15,0h1m3,0h1m29,0h1m1,0h1m-96,1h1m1,0h1m7,0h1m15,0h1m2,0h1m52,0h1m14,0h1m5,0h1m-81,1h1m15,0h1m29,0h1m16,0h1m-49,1h1m24,0h1m22,0h1m-84,1h1m37,0h1m11,0h1m7,0h1m12,0h1m35,0h1m-109,1h1m59,0h1m15,0h1m64,0h1m-130,1h1m23,0h1m7,0h1m33,0h1m62,0h1m4,0h1m-88,1h1m20,0h1m-81,1h1m13,0h1m23,0h1m-5,1h1m11,0h1m35,0h1m6,0h1m12,0h1m-94,1h1m2,0h1m15,0h1m4,0h1m10,0h1m-45,1h1m64,0h1m21,0h2m8,0h2m-91,1h1m52,0h1m13,0h1m-33,1h1m14,0h1m3,0h1m12,0h1m8,0h1m1,0h1m8,0h1m-68,1h1m1,0h1m13,0h1m1,0h1m6,0h1m13,0h1m23,0h1m10,0h1m23,0h1m9,0h1"/>
<path stroke="#482475" d="M30,18h1m4,3h1m47,0h1m21,0h1m43,1h1m-115,1h1m63,0h1m-76,1h1m38,0h1m29,0h1m-68,1h1m28,0h1m65,1h1m-79,1h1m35,0h1m34,0h1m-53,1h1m23,0h1m5,0h1m20,0h1m-86,1h1m7,0h1m21,0h1m-48,1h1m44,0h1m12,0h1m14,0h2m9,0h1m12,0h2m-72,1h1m7,0h1m3,0h1m26,0h1m1,0h1m15,0h1m18,0h1m-75,1h1m34,0h1m12,0h1m-65,1h1m48,0h1m4,0h1m-60,1h1m1,0h1m6,0h1m31,0h1m36,0h1m9,0h1m4,0h1m10,0h1m-110,1h1m58,0h1m5,0h1m19,0h1m49,0h1m-129,1h1m34,0h1m1,0h1m27,0h1m28,0h1m-78,1h1m10,0h1m14,1h1m14,0h1m-70,1h1m16,0h1m24,0h1m15,0h1m31,0h1m-62,1h1m8,0h1m2,0h1m22,0h1m44,0h1m34,0h1m-129,1h1m16,0h1m63,0h1m-98,1h1m40,0h1m4,0h1m19,0h1m25,0h1m-80,1h1m26,0h1m17,0h1m-2,1h1m1,0h1m8,0h1m5,0h1m-42,1h1m16,0h1m42,0h2m5,0h1m-65,1h1m30,0h1m18,0h1m-85,1h1m33,0h1m14,0h1m19,0h2m4,0h1m27,0h1m-105,1h1m15,0h1m38,0h1m9,0h1m3,0h1m-6,1h1m11,0h1m14,0h1m2,0h1m9,0h1m-99,1h1m29,0h1m42,0h1m9,0h1m8,0h1m11,0h1m-112,1h1m19,0h1m3,0h1m1,0h1m2,0h1m7,0h1m32,0h1m4,0h1m39,0h1m-102,1h1m16,0h1m9,0h1m17,0h1m13,0h1m43,0h1m-104,1h1m9,0h1m74,0h2m23,0h1m-113,1h1m8,0h1m7,0h1m7,0h1m5,0h1m-31,1h1m82,0h1m-75,1h1m16,0h1m58,0h2m-78,1h1m8,0h1m17,0h1m2,0h1m7,0h1m1,0h1m8,0h1m-26,1h1m38,0h2m52,0h1m-128,1h2m24,0h1m2,0h1m7,0h2m3,0h1m5,0h1m26,0h1m9,0h1m7,0h1m-89,1h1m93,0h1m-97,1h1m6,0h1m13,0h1m65,0h1m14,0h1m-74,1h1m10,0h1m-34,1h1m5,0h1m2,0h1m1,0h1m32,0h1m17,0h1m4,0h1m2,0h1m-46,1h1m8,0h1m48,0h1m5,0h1m-108,1h1m106,0h1m-66,1h1m48,0h1m-62,1h1m6,0h1m13,0h1m2,0h1m6,0h1m9,0h1m17,0h1m2,0h1m16,0h1m5,0h1m9,0h1m-117,1h1m22,0h1m10,0h1m17,0h1m3,0h1m8,0h1m10,0h1m12,0h1m-95,1h1m61,0h1m19,0h1m-59,1h1m8,1h1m6,0h1m41,0h2m5,0h2m25,0h1m-78,1h1m36,0h1m16,0h1m42,0h1m-100,1h1m4,0h1m23,0h1m-70,1h1m75,0h1m23,0h1m-100,1h1m28,0h1m48,0h1m14,0h1m-95,1h1m16,0h1m10,0h1m9,0h1m8,0h1m18,0h1m14,0h1m15,0h1m-89,1h1m9,0h1m14,0h1m4,0h1m24,0h1m18,0h1m3,0h1m-93,1h1m4,0h1m13,0h1m5,0h1m11,0h1m7,0h1m55,0h1m-76,1h1m15,0h1m34,0h1m9,0h1m31,0h1m-108,1h1m40,0h1m4,0h1m34,0h1m10,0h1m4,0h1m7,0h1m-102,1h1m60,0h1m3,0h1m27,0h1m-88,1h1m44,0h3m11,0h1m67,0h1m-103,1h1m13,0h1m42,0h1m6,0h1m7,0h1m-51,1h1m-54,1h1m20,1h1m34,0h1m5,0h1m11,0h1m-80,1h1m1,0h1m19,0h1m19,0h1m34,0h1m18,0h1m-108,1h1m4,0h1m63,0h1m13,0h1m13,0h1m19,0h1m-103,1h1m4,0h1m36,0h1m12,0h1m32,0h1m-90,1h1m42,0h1m14,0h1m9,0h1m21,0h1m-56,1h1m2,0h1m5,0h1m30,0h1m15,0h1m-106,1h1m41,0h1m31,0h1m11,0h1m62,0h1m-141,1h1m2,0h1m25,0h1m5,0h1m8,0h1m30,0h1m3,0h1m9,0h1m-89,1h1m15,0h1m46,0h1m7,0h2m-77,1h1m2,0h1m14,0h1m19,0h1m17,0h1m13,0h1m7,0h1m-85,1h1m14,0h1m6,0h1m2,0h1m32,0h1m46,0h1m13,0h1m-80,1h1m13,0h1m-24,2h1m7,0h1m3,0h1m3,0h1m-41,1h1m27,0h1m9,0h1m57,0h1m-99,1h1m12,0h1m-14,1h1m21,0h1m30,0h1m25,0h1m34,0h1m-85,1h2m3,0h1m3,0h1m5,0h1m31,0h1m34,0h1m26,0h1m-138,1h1m17,0h1m17,0h1m20,0h1m8,0h1m7,0h1m-48,1h1m17,0h1m15,0h1m3,0h1m1,0h1m-76,1h1m34,0h1m4,0h1m8,0h1m5,0h1m7,0h1m35,0h1m40,0h1m-120,1h1m15,0h1m34,0h1m18,0h1m16,0h1m-108,1h1m5,0h1m9,0h1m54,0h1m16,0h1m12,0h1m-102,1h2m18,0h1m43,0h1m37,0h1m-89,1h1m8,0h1m3,0h1m27,0h1m-52,1h1m18,0h2m12,0h1m44,0h1m17,0h1m-98,1h1m52,0h1m6,0h2m2,0h1m6,0h1m3,0h1m1,0h1m8,0h1m6,0h1m-47,1h1m9,0h1m40,0h1m-93,1h1m45,0h1m15,0h1m-18,1h1m7,0h1m9,0h1m66,0h1m-131,1h1m4,0h1m58,0h1m-48,1h1m4,0h1m14,0h1m49,0h1m10,0h1m9,0h1m-82,1h1m4,0h1m10,0h1m9,0h1m33,0h1m-13,1h1m3,0h1m11,0h1m-50,1h1m17,0h1m-71,1h1m17,0h1m6,0h1m73,0h1m10,0h1m14,0h1m-111,1h1m30,0h1m3,0h1m14,0h1m30,0h1m-82,1h1m50,0h1m1,0h1m31,0h1m-88,1h1m6,0h1m1,0h1m5,0h1m49,0h1m16,0h1m16,0h1m-99,1h1m32,0h2m11,0h2m63,0h1m-89,1h1m2,0h1m10,0h1m23,0h1m-46,1h1m13,0h1m20,0h1m39,0h1m-72,1h1m1,0h1m-28,1h1m1,1h1m12,0h1m17,0h1m1,0h1m30,0h1m25,0h1m-94,1h1m27,0h1m7,0h1m16,0h1m29,0h1m8,0h1m-78,1h1m29,0h1m21,0h1m40,0h1m-107,1h1m25,0h1m6,0h1m23,0h1m8,0h1m1,0h1m-29,1h1m2,0h1m45,0h1m-88,1h1m5,0h1m46,0h1m8,0h1m22,0h1m3,0h1m-87,1h1m37,0h1m35,0h1m11,0h1m-88,1h1m49,0h1m11,0h1m-39,1h2m16,0h1m23,0h1m-75,1h1m1,0h1m13,0h1m93,0h1m1,0h1m16,0h1m-133,1h1m1,0h1m10,0h1m12,0h1m11,0h1m4,0h1m8,0h1m15,0h1m28,0h1m-51,1h1m30,0h1m15,0h1m-95,1h1m25,0h1m1,0h1m16,0h1m13,0h1m16,0h1m15,0h1m8,0h1m-93,1h1m18,0h1m6,0h1m4,0h1m26,0h1m10,0h1m32,0h1m-63,1h2m2,0h1m32,0h1m-71,1h1m65,0h1m-80,1h1m1,0h1m15,0h1m11,0h1m36,0h1m-67,1h1m32,0h1m49,0h1m19,0h1m3,0h1m30,0h1m-141,1h1m15,0h1m5,0h1m5,0h1m50,0h1m20,0h1m-101,1h1m28,0h1m17,0h1m5,0h1m24,0h1m26,0h1m34,0h1m-68,1h1m9,0h1m-76,1h2m38,0h1m4,0h1m5,0h1m34,0h1m8,0h1m21,0h1m-130,1h2m45,0h1m2,0h1m12,0h1m4,0h1m-51,1h1m17,0h1m9,0h2m3,0h1m17,0h1m6,0h1m3,0h1m15,0h1m52,0h1m-143,1h1m8,0h1m5,0h1m55,0h1m5,0h1m20,0h1m-91,1h1m80,0h1m8,0h1m5,0h1m-102,1h1m8,0h1m11,0h1m30,0h1m66,0h1m-49,1h1m2,0h1m6,0h1m2,0h1m44,0h1m-129,1h1m7,0h1m44,0h1m2,0h1m29,0h1m21,0h1m-114,1h1m39,0h1m1,0h1m-29,1h1m31,0h1m24,0h1m37,0h1m-106,1h1m4,0h1m58,0h1m21,0h1m22,0h1m19,0h1m-136,1h1m6,0h1m3,0h1m71,0h1m27,0h1m-113,1h1m4,0h1m41,0h1m6,0h1m1,0h1m51,0h1m-113,1h1m12,0h1m8,0h1m22,0h1m18,0h1m27,0h1m9,0h1m11,0h1m-99,1h1m2,0h1m2,0h1m21,0h1m48,0h1m-63,1h1m39,0h1m33,0h1m-88,1h1m50,0h1m10,0h1m4,0h1m5,0h1m48,0h1m-110,1h1m8,0h1m6,0h1m49,0h1m42,0h1m9,0h1m-139,1h1m39,0h1m20,0h1m10,0h1m-71,1h1m8,0h1m8,0h1m19,0h1m6,0h1m9,0h1m4,0h1m26,0h1m38,0h1m-121,1h1m11,0h1m63,0h1m-84,1h1m59,0h1m8,0h1m-80,1h1m10,0h1m16,0h1m-17,1h1m3,0h1m29,0h1m23,0h1m-56,1h1m8,0h1m3,0h1m40,0h1m20,0h1m36,0h1m-85,1h1m12,0h2m7,0h1m30,0h1m-69,1h1m17,0h1m40,0h1m-55,1h1m37,0h1m-74,1h2m11,0h1m47,0h1m6,0h1m30,0h1m1,0h1m15,0h1m16,0h1m-122,1h2m20,0h1m55,0h1m-65,1h1m19,0h1m0,1h1m6,0h1m13,0h1m29,0h1m-76,1h1m60,0h1m-84,1h1m4,0h1m16,0h1m13,0h1m7,0h1m25,0h1m6,0h1m18,0h1m5,0h1m4,0h1m-99,1h1m1,0h1m1,0h1m17,0h1m49,0h1m1,0h2m-79,1h1m11,0h1m29,0h1m36,0h1m56,0h1m-129,1h1m30,0h2m1,0h1m33,0h1m3,0h1m3,0h1m-44,1h1m3,0h1m14,0h1m-42,1h1m2,0h1m8,0h1m53,0h1m2,0h1m-88,1h1m47,0h1m2,0h1m11,0h1m7,0h1m5,0h1m6,0h1m11,0h1m3,0h1m-103,1h1m8,0h1m5,0h2m-9,1h1m1,0h1m2,0h1m17,0h1m4,0h2m5,0h1m12,0h1m35,0h1m-81,1h1m12,0h1m6,1h1m37,0h1m26,0h1m12,0h1m-93,1h1m22,0h1m4,0h1m3,0h1m6,0h1m6,0h1m17,0h1m-87,1h1m18,0h1m11,0h1m5,0h1m6,0h1m18,1h1m3,0h1m7,0h1m28,0h1m-101,1h1m15,0h1m9,0h1m36,0h1m-17,1h1m8,0h2m25,0h1m18,0h1m-81,1h1m53,0h1m-54,1h1m7,0h1m18,0h1m4,0h1m9,0h1m18,0h1m-91,1h1m6,0h1m17,0h1m20,0h1m7,0h1m16,0h1m8,0h1m35,0h1m6,0h1m-109,1h1m36,0h1m18,0h1m34,0h1m-67,1h1m45,0h1m31,0h1m29,0h1m-150,1h1m14,1h1m1,0h1m9,0h1m1,0h1m26,0h1m-54,1h1m70,0h1m42,0h1m1,0h1m-102,1h1m35,0h1m7,0h1m10,0h1m-25,1h1m1,0h1m92,0h1m-126,1h1m12,0h1m3,0h1m5,0h1m3,0h1m9,0h1m4,0h1m4,0h1m5,0h1m38,0h1m-112,1h1m23,0h1m26,0h1m6,0h1m3,0h1m26,0h1m23,0h1m5,0h1m-84,1h1m19,0h1m17,0h1m69,0h1m-141,1h1m6,0h1m57,0h1m11,0h1m29,0h1m-105,1h1m1,0h1m30,0h1m12,0h1m59,0h1m-97,1h1m1,0h1m18,0h1m1,1h2m24,0h1m-19,1h1m21,0h1m-45,1h2m21,0h1m13,0h1m80,0h1m-130,1h1m89,0h1m-103,1h1m5,0h1m1,0h1m53,0h1m29,0h1m7,0h1m3,0h1m-103,1h1m35,0h1m1,0h1m36,0h1m5,0h1m-63,1h1m5,0h1m16,0h1m54,0h1m12,0h1m-105,1h1m3,0h1m31,0h1m10,0h1m11,0h1m20,0h1m8,0h1m-98,1h1m8,0h1m35,0h1m4,0h1m31,0h1m43,0h1m-40,1h1m3,0h1m1,0h1m20,0h1m-29,1h1m49,0h1m-126,1h1m26,0h1m25,0h1m-46,1h1m8,0h1m26,0h2m8,0h1m12,0h1m-48,1h1m18,0h1m-47,1h1m7,0h1m63,0h2m20,0h1m-102,1h1m17,0h1m13,0h1m7,0h1m48,0h1m-76,1h1m14,0h1m9,0h1m5,0h1m23,0h1m4,0h1m-62,1h1m12,0h1m17,0h1m9,0h1m12,0h1m27,0h1m5,0h1m-62,1h1m6,0h1m4,0h1m19,0h1m4,0h1m3,0h1m-78,1h1m13,0h1m54,0h1m-72,1h1m4,0h1m15,0h1m5,0h1m30,0h1m1,0h1m17,0h1m13,0h1m-68,1h1m24,0h1m33,0h1m-80,1h1m13,0h1m9,0h1m9,0h1m4,0h1m11,0h1m10,0h1m20,0h1m13,0h1m2,0h1m-108,1h1m14,0h1m74,0h1m4,0h2m-94,1h1m6,0h1m33,0h1m36,0h1m-57,1h1m16,0h1m-42,1h1m15,0h1m7,0h1m12,0h1m24,0h1m20,0h1m9,0h1m2,0h1m-97,1h1m3,0h1m17,0h1m25,0h1m32,0h1m56,0h1m-133,1h1m73,0h1m5,0h1m-70,1h1m3,0h1m12,0h1m37,0h1m28,0h1m16,0h1m-112,1h1m30,0h1m9,0h1m35,0h1m5,0h1m6,0h1m-99,1h1m5,0h1m2,0h1m8,0h1m7,0h1m17,0h1m20,1h1m13,0h1m3,0h1m33,0h1m16,0h1m-52,1h1m-64,1h1m20,0h2m22,0h1m21,0h1m-81,1h1m24,0h1m13,0h1m29,0h1m26,0h1m9,0h1m30,0h1m-117,1h2m12,0h1m3,0h1m10,0h1m7,0h2m11,0h1m20,0h1m-58,1h1m4,0h1m56,0h1m-47,1h1m30,0h1m39,0h1m-97,1h1m16,0h1m27,0h1m-79,1h1m13,0h1m16,0h1m30,0h1m2,0h1m12,0h1m20,0h1m-56,1h1m3,0h1m47,0h1m-22,1h1m13,0h1m15,0h1m-81,1h1m22,0h1m16,0h1m17,0h1m12,0h1m-90,1h1m2,0h1m36,0h2m3,0h1m7,0h1m26,0h1m-86,1h1m6,0h2m27,0h1m2,0h1m7,0h1m36,0h1m9,0h1m-72,1h1m13,0h1m77,0h1m-83,1h1m21,0h1m49,0h1m-69,1h1m18,0h1m3,0h1m9,0h1m-69,1h1m1,0h1m26,0h1m63,0h1m-66,1h1m4,0h1m36,0h1m27,0h1m-71,1h1m45,0h1m2,0h1m-47,1h1m27,0h1m21,0h1m-71,1h1m31,0h2m34,0h1m16,0h1m-57,1h1m40,0h1m2,0h1m11,0h1m33,0h1m4,0h1m-139,1h1m33,0h1m29,0h1m1,0h1m29,0h1m2,0h1m38,0h1m-113,1h1m19,0h1m10,0h1m-37,1h1m5,0h1m11,0h1m20,0h2m-34,1h1m4,0h1m12,0h1m3,0h1m11,0h1m4,0h1m-56,1h1m18,0h1m18,0h1m15,0h1m-54,1h1m9,0h1m19,0h1m13,0h1m15,0h1m74,0h1m-99,1h1m-50,1h1m13,0h1m12,0h1m3,0h1m8,0h1m46,0h1m8,0h1m-96,1h1m39,0h1m5,0h1m17,0h1m13,0h1m-31,1h1m82,0h1m-107,1h1m9,0h1m16,0h1m55,0h1m-112,1h1m7,0h1m12,0h1m23,0h1m6,0h1m19,0h1m-40,1h1m7,0h1m18,0h2m16,0h1m22,0h1m-101,1h1m2,0h1m41,0h1m27,0h1m3,0h1m5,0h1m8,0h1m50,0h1m-144,1h1m20,0h1m17,0h1m5,0h1m24,0h1m24,0h1m42,0h1m-78,1h1m3,0h1m34,0h1m1,0h1m13,0h1m-109,1h1m5,0h1m3,0h1m30,1h1m28,0h1m37,0h1m-113,1h1m1,0h1m109,0h1m-114,1h1m38,0h1m3,0h1m-16,1h1m13,0h1m43,0h1m1,0h1m-89,1h1m12,0h1m29,0h1m17,0h1m-46,1h1m4,0h1m8,0h1m11,0h1m25,0h1m29,0h1m31,0h1m-126,1h1m40,0h1m41,0h1m14,0h1m5,0h1m-103,1h1m53,0h1m10,0h1m5,0h1m2,0h1m3,0h1m11,0h1m2,0h1m19,0h1m-115,1h1m17,0h1m15,0h1m3,0h1m3,0h1m36,0h1m-49,1h1m54,0h1m7,0h1m-105,1h1m72,1h1m16,0h1m20,0h1m-98,1h1m1,0h1m12,0h1m2,0h1m55,0h1m11,0h1m14,0h1m13,0h1m-123,1h1m41,0h1m19,0h1m3,0h1m24,0h1m-56,1h1m5,0h1m13,0h1m4,0h1m50,0h1m-120,1h1m19,0h1m6,0h1m2,0h1m49,0h1m24,0h1m-107,1h1m26,0h1m21,0h1m55,0h2m-107,1h1m30,0h1m17,0h1m33,0h1m11,0h1m-90,1h1m14,0h1m22,0h1m12,0h2m61,0h1m-92,1h1m2,0h1m3,0h1m10,0h1m1,0h1m1,0h1m-34,1h1m16,0h1m67,0h1m-96,1h1m3,0h1m37,0h1m17,0h1m32,0h1m6,0h1m-96,1h1m49,0h1m-28,1h1m10,0h1m43,0h1m-85,1h1m32,0h2m23,0h1m33,0h1m3,0h1m2,0h1m-95,1h1m1,0h1m2,0h1m2,0h1m53,0h2m-41,1h1m31,0h1m13,0h1m14,0h1m-95,1h1m30,0h2m6,0h1m33,0h1m30,0h1m-79,1h1m28,0h1m19,0h1m20,0h1m3,0h1m-24,1h1m4,0h1m16,0h1m-78,1h1m40,0h1m17,0h1m3,0h1m1,0h1m35,0h1m-115,1h1m69,0h2m31,0h1m-114,1h1m6,0h1m12,0h1m25,0h1m19,0h1m5,0h1m14,0h1m-81,1h1m26,0h1m27,0h1m17,0h1m6,0h1m11,0h1m-95,1h1m2,0h1m9,0h1m44,0h1m-43,1h1m12,0h1m22,0h1m4,0h1m-24,1h1m12,0h1m12,0h1m38,0h1m14,0h1m-121,1h1m22,0h1m8,0h1m6,0h1m58,0h1m26,0h1m-23,1h1m-95,1h1m6,0h1m1,0h1m3,0h1m23,0h1m24,0h1m36,0h1m-95,1h1m25,0h1m6,0h1m15,0h1m18,0h1m18,0h1m-92,1h1m40,0h1m7,0h1m6,0h1m5,0h2m20,0h1m-90,1h1m12,0h1m9,0h1m29,0h1m-41,1h1m53,0h1m-70,1h1m20,0h1m1,0h1m78,0h1m-88,1h1m2,0h1m14,0h1m5,0h1m25,0h1m8,0h1m5,0h1m4,0h1m2,0h1m-18,1h1m19,0h1m3,0h2m16,0h1m-83,1h1m33,0h2m33,0h1m-50,1h1m15,0h1m-31,1h1m22,0h1m44,0h1m3,0h1m-104,1h1m23,0h1m31,0h1m25,0h1m-73,1h1m22,0h1m28,0h1m18,0h1m59,0h1m-136,1h1m2,0h1m10,0h1m3,0h1m44,0h1m71,0h1m-113,1h1m106,0h1m-30,1h1m-115,1h1m66,0h1m24,0h1m5,0h1m1,0h1m13,0h1m28,0h1m-125,1h1m28,0h1m10,0h1m11,0h1m-4,1h1m3,0h1m10,0h1m17,0h1m2,0h1m5,0h1m-71,1h1m46,0h1m14,0h1m5,0h1m-89,1h1m37,0h1m27,0h1m51,0h1m-140,1h1m14,0h1m19,0h1m12,0h1m4,0h2m-34,1h1m11,0h1m3,0h1m16,0h1m27,0h1m4,0h1m-71,1h1m54,0h2m-47,1h1m24,0h1m34,0h1m-80,1h1m100,0h1m14,0h1m-122,1h1m12,0h1m5,0h1m8,0h1m11,0h1m61,0h1m-76,1h1m3,0h1m6,0h1m10,0h1m1,0h1m29,0h1m3,0h2m13,0h1m1,0h1m13,0h1m-121,1h1m35,0h1m6,0h1m3,0h1m16,0h1m26,0h1m12,0h1m11,0h1m-84,1h1m5,0h1m38,0h1m-69,1h1m2,0h1m46,0h1m79,0h1m-106,1h1m33,0h1m22,0h1m-85,1h1m3,0h1m1,0h1m36,0h1m18,0h1m4,0h1m14,0h1m10,0h1m4,0h1m-78,1h1m8,0h1m13,0h1m13,1h1m12,0h1m11,0h1m-30,1h1m7,0h1m7,0h1m-72,1h1m26,0h1m19,0h1m-43,1h1m6,0h1m19,1h1m5,0h1m56,0h1m9,0h1m5,0h1m-103,1h1m3,0h1m4,0h1m1,0h1m11,0h1m13,0h1m19,0h1m38,0h1m-20,1h1m7,0h1m-71,1h1m25,0h2m9,0h1m15,0h1m-81,1h1m83,0h1m36,0h1m-107,1h1m7,0h1m24,0h1m25,0h1m21,0h1m-86,1h1m1,0h2m54,0h1m30,0h1m3,0h1m-76,1h2m11,0h1m11,0h1m36,0h1m10,0h1m-103,1h1m8,0h1m4,0h1m28,0h1m52,0h1m-66,1h2m30,0h1m25,0h1m6,0h1m1,0h1m-92,1h1m13,0h1m3,0h1m3,0h1m101,0h1m-122,1h1m2,0h1m11,0h1m24,0h2m3,0h1m11,0h1m6,0h1m-60,1h1m27,0h1m3,0h2m6,0h1m-39,1h2m14,0h1m43,0h1m-82,1h2m6,0h1m4,0h1m13,0h1m5,0h1m3,0h1m28,0h1m-55,1h1m18,0h1m35,0h1m21,0h1m-69,1h1m28,0h1m-4,1h1m1,0h1m2,0h1m24,0h1m1,0h1m10,0h1m-55,1h1m7,0h1m26,0h1m21,0h1m4,0h1m1,0h1m-40,2h1m-59,1h1m15,0h1m27,0h1m9,0h1m3,0h1m1,0h1m-55,1h1m-1,1h1m14,0h1m16,0h1m-40,1h1m7,0h1m6,0h1m34,0h1m39,0h1m7,0h2m-68,1h1m68,0h1m-99,1h2m13,0h1m3,0h1m34,0h1m56,0h1m-114,1h1m22,0h1m25,0h1m10,0h1m-61,1h1m36,0h1m12,0h1m37,0h1m3,0h1m10,0h1m33,0h1m4,0h1m-142,1h1m27,0h1m59,0h1m1,1h1m10,0h1m8,0h1m-82,1h1m84,0h1m16,0h1m-124,1h1m-9,1h1m26,0h1m27,0h1m2,0h1m27,0h1m14,0h1m14,0h1m-65,1h1m-27,1h1m6,0h1m30,0h1m-38,1h1m15,0h1m4,0h1m10,0h1m10,0h1m8,0h1m5,0h1m15,0h1m-105,1h1m85,0h1m-68,1h1m8,0h1m15,0h1m-36,1h1m26,0h1m21,0h1m15,0h1m8,0h1m-65,1h1m16,0h1m4,0h1m26,0h1m2,0h1m9,0h1m8,0h1m8,0h1"/>
<path stroke="#482979" d="M72,16h1m-38,2h1m36,0h1m26,0h1m-79,1h1m40,2h1m-27,1h1m26,0h1m57,0h1m-24,1h1m30,0h1m14,0h1m-126,1h1m5,0h1m33,0h1m61,1h1m12,0h1m-36,1h1m-39,1h1m44,0h1m8,0h1m38,0h1m-112,1h1m43,0h1m16,0h1m2,0h1m6,0h1m-91,1h1m34,0h1m22,0h1m16,0h1m17,0h1m-79,1h1m3,0h1m47,0h1m-75,1h1m21,0h1m9,0h1m6,0h1m15,0h3m14,0h1m1,0h1m-43,1h1m3,0h1m32,0h1m5,0h1m12,0h1m6,0h1m-93,1h1m6,0h1m2,0h3m32,0h1m34,0h1m3,0h1m4,0h1m13,0h1m-97,1h1m29,0h1m5,0h2m3,0h1m14,0h1m1,0h1m5,0h1m-80,1h1m8,0h1m5,0h2m14,0h1m9,0h1m21,0h1m18,0h1m-78,1h1m43,0h2m32,0h1m-55,1h1m6,0h1m8,0h1m26,0h2m25,0h1m9,0h1m-103,1h1m18,0h1m9,0h1m25,0h1m-34,1h1m2,0h1m24,0h2m46,0h1m-97,1h1m21,0h1m33,0h1m-51,1h1m20,0h2m2,0h1m26,0h1m3,0h1m33,0h1m-78,1h1m13,0h1m45,0h1m6,0h1m-54,1h1m18,0h1m-46,1h1m10,0h1m33,0h1m85,0h1m-135,1h1m-7,1h1m6,0h1m7,0h1m22,0h1m11,0h1m64,0h1m-121,1h1m41,0h1m3,0h1m-19,1h1m26,0h1m39,0h1m-59,1h1m20,0h1m44,0h1m-87,1h2m21,0h1m12,0h1m6,0h1m-49,1h1m29,0h1m33,0h1m14,0h1m8,1h1m-86,1h1m22,0h1m5,0h1m62,0h1m-78,1h1m55,0h1m-73,1h1m41,0h1m3,0h1m79,0h1m-130,1h1m93,0h1m-95,1h1m41,0h1m7,0h1m21,0h1m-71,1h1m21,0h1m27,0h1m-24,1h1m3,0h1m17,0h1m21,0h2m13,0h1m5,0h1m-107,1h1m7,0h1m12,0h1m18,0h2m6,0h1m25,0h1m-62,1h1m1,0h1m28,0h1m-45,1h1m45,0h1m67,0h1m-64,1h1m-9,1h1m48,0h1m21,0h1m-110,2h1m10,0h1m13,0h1m11,0h1m21,0h1m12,0h1m28,0h1m-104,1h1m13,0h1m1,0h1m1,0h1m10,0h1m18,0h1m44,0h1m-90,1h1m75,0h1m-88,1h1m15,0h1m2,0h1m45,0h1m18,0h1m-81,1h1m25,0h1m-30,1h1m4,0h1m52,0h1m33,0h1m24,0h1m-101,1h1m26,0h1m4,0h1m79,0h1m-106,1h1m58,0h1m14,0h1m14,0h1m-108,1h1m61,0h2m2,0h1m20,0h1m2,0h1m22,0h1m-49,1h1m17,0h1m13,0h1m30,0h1m-131,1h1m16,0h1m27,0h1m51,0h1m-99,1h1m75,0h1m14,0h1m14,0h1m-104,1h1m89,0h1m7,0h1m-102,1h1m43,0h1m76,0h1m-125,1h1m4,0h1m8,0h1m9,0h1m2,0h1m16,0h1m12,0h1m20,0h1m10,0h1m49,0h1m-141,1h1m45,0h1m4,0h1m15,0h1m26,0h1m-95,1h1m0,1h1m6,0h1m9,0h1m59,0h1m3,0h1m1,0h1m16,0h1m-82,1h1m5,0h1m25,0h1m-21,1h1m16,0h1m42,0h1m7,0h1m3,0h1m9,0h1m-92,1h1m15,0h1m17,0h1m6,0h1m7,0h1m-65,1h1m20,0h1m8,0h1m2,0h1m98,0h1m-108,1h1m6,0h1m14,0h1m35,0h1m-53,1h1m11,0h1m17,0h1m30,0h1m-47,1h1m22,0h1m21,0h1m1,0h1m6,0h1m-83,1h1m47,0h1m16,0h1m-82,1h1m23,0h1m13,0h1m6,0h1m37,0h1m-54,1h1m64,0h1m-90,1h1m19,0h1m22,0h1m-51,1h1m9,0h1m82,0h1m-59,1h1m13,0h1m18,0h1m-29,1h1m10,0h1m16,0h1m6,0h1m-67,1h1m4,0h1m17,0h1m37,0h1m4,0h1m6,0h1m53,1h1m-135,1h1m33,0h1m23,0h1m19,0h1m16,0h1m-60,1h1m25,0h1m25,0h1m-68,1h1m0,1h1m5,0h1m31,0h1m19,0h2m-78,1h1m7,0h1m12,0h1m14,0h1m43,0h1m10,0h1m3,0h1m-104,1h1m39,0h1m13,0h1m24,0h1m2,0h1m11,0h1m-72,1h1m15,0h1m5,0h1m48,0h1m48,0h1m-117,1h1m35,0h1m-45,1h1m35,0h1m34,0h1m47,0h1m-134,1h1m14,0h1m3,0h1m34,0h1m4,0h1m23,0h1m2,0h2m6,0h1m-93,1h1m3,0h1m29,0h1m21,0h1m17,0h1m-63,1h1m4,0h1m26,0h2m-34,1h1m6,0h1m33,0h1m14,0h1m2,1h1m-64,1h1m3,0h1m4,0h1m6,0h1m9,0h1m57,0h1m-95,1h1m11,0h1m20,0h1m5,0h1m19,0h1m2,0h1m2,0h1m6,0h1m5,0h1m-87,1h1m66,0h1m17,0h1m50,0h1m-135,1h1m52,0h1m-59,1h1m64,0h1m35,0h1m-89,2h1m58,0h2m3,0h1m-73,1h1m4,0h1m10,0h1m25,0h1m28,0h1m-71,1h1m39,0h1m4,0h1m46,0h1m16,0h1m-112,1h1m6,0h1m41,0h1m5,0h1m-22,1h1m5,0h1m12,0h1m3,0h1m7,0h1m-48,1h1m27,0h1m22,0h1m35,0h1m-65,1h1m38,0h1m12,0h1m-91,1h1m5,0h1m62,0h1m-41,1h1m27,0h1m-52,1h1m20,0h1m17,0h1m37,0h1m-59,1h1m66,0h1m-86,1h1m15,0h1m50,1h1m5,0h1m-38,1h1m13,0h1m-66,1h1m3,0h1m24,0h1m29,0h1m-51,1h1m38,0h1m22,0h1m33,0h1m-97,1h1m28,0h1m27,0h1m2,0h2m11,0h1m-77,1h1m8,0h1m16,0h1m13,0h1m26,0h1m3,0h1m-71,1h1m97,0h1m-71,1h1m19,0h2m7,0h1m-1,1h1m34,0h1m16,0h1m1,0h1m-67,1h2m7,0h2m47,0h1m-98,1h1m22,0h1m24,0h1m41,0h1m-22,1h1m4,0h1m6,0h1m-76,1h1m11,0h1m74,1h1m5,0h1m-95,1h1m62,0h1m-70,1h1m53,0h1m32,0h1m-85,1h1m39,0h1m4,0h1m-16,1h1m45,0h1m-40,1h1m11,0h1m37,0h1m15,0h1m-57,1h1m12,0h1m10,0h1m6,0h1m9,0h1m36,0h1m-107,1h1m3,0h1m17,0h1m-42,1h1m5,0h1m3,0h1m20,0h1m-43,1h1m11,0h1m-7,1h1m7,0h1m7,0h1m16,0h1m60,0h1m-97,1h1m49,0h1m28,0h1m17,0h1m-72,1h1m19,0h1m20,0h1m2,0h1m11,0h1m39,0h1m-123,1h1m24,0h1m16,1h1m4,0h1m15,0h1m12,0h1m-74,1h1m36,0h1m10,0h2m-49,1h2m10,0h2m7,0h1m34,0h1m29,0h1m-97,1h1m20,0h1m41,0h1m16,0h1m6,0h1m4,0h1m30,0h1m-124,1h1m33,0h1m-13,1h1m7,0h1m45,0h1m14,0h1m-4,1h1m13,0h1m30,0h1m14,0h1m-123,1h1m64,0h1m-86,1h1m56,0h1m11,0h1m-74,1h1m3,0h1m6,0h1m14,0h1m2,0h1m17,0h1m33,0h1m10,0h1m-61,1h1m26,0h1m30,0h1m-18,1h1m-77,1h1m43,1h1m13,0h1m2,0h1m1,1h1m32,0h1m3,0h1m-33,1h1m35,0h1m-98,1h1m6,0h1m45,0h1m22,0h1m-4,1h1m-63,1h1m33,0h1m33,0h1m-83,1h1m9,0h1m18,0h1m9,0h1m14,0h1m1,0h1m3,0h1m1,0h1m26,0h1m19,0h1m-96,1h1m10,0h1m15,0h1m12,0h1m15,0h1m7,0h1m-74,1h1m18,0h1m7,0h1m47,0h1m-74,1h1m28,0h1m3,0h1m36,0h1m4,0h1m2,0h1m-79,1h1m7,0h1m11,0h1m55,0h1m-78,1h1m48,0h1m3,0h1m4,0h1m70,0h1m-129,1h1m16,0h1m3,0h1m8,0h1m33,0h1m-24,1h1m31,0h1m4,0h1m29,0h1m-73,1h1m6,0h1m10,1h1m-57,1h1m40,1h1m20,0h1m13,0h1m18,0h1m29,0h1m-132,1h1m39,0h1m19,0h1m5,0h1m7,0h1m25,0h1m-104,1h1m26,0h1m1,0h1m18,0h1m3,0h1m46,0h1m-69,1h1m3,0h1m29,0h1m2,0h1m38,0h1m-46,1h1m1,0h1m22,0h1m-51,1h2m41,0h1m3,0h1m14,0h1m-91,1h1m12,0h1m9,0h1m9,0h1m6,0h1m-49,1h1m41,0h1m50,0h1m-89,1h1m22,0h1m74,0h1m24,0h1m-121,1h1m19,0h1m-27,1h1m29,0h1m10,0h1m15,0h1m-50,1h1m3,0h1m57,0h2m15,0h1m22,0h1m-87,1h1m15,0h1m26,0h1m-68,1h1m18,0h1m8,0h1m35,0h1m-64,1h1m3,0h1m36,0h1m8,0h1m11,0h1m2,0h2m7,0h1m22,0h1m-103,1h1m3,0h1m7,0h1m1,0h1m81,0h1m-71,1h1m3,0h1m46,0h1m13,0h1m10,0h1m37,0h1m-110,1h1m14,0h1m52,0h1m16,0h1m-115,1h1m4,0h1m17,0h1m29,0h1m25,0h1m-73,1h1m41,0h1m10,0h1m2,0h1m18,0h1m-85,1h1m5,0h1m20,0h1m11,0h1m58,0h1m-91,1h1m55,0h1m10,0h1m1,0h1m11,0h1m1,0h1m5,0h1m32,0h1m-105,1h1m16,0h1m5,0h1m7,0h1m6,0h1m36,0h1m-90,1h1m83,0h1m-93,1h1m59,0h1m11,0h1m19,0h1m11,0h1m-94,1h1m77,0h1m56,0h1m-57,1h1m-12,1h1m11,0h1m4,0h1m-101,1h1m15,0h1m-7,1h1m9,0h1m26,0h1m52,0h1m49,0h1m-119,1h1m77,0h1m34,0h1m-144,1h1m28,0h1m53,0h1m13,0h1m-48,1h1m-20,1h2m4,0h1m44,0h1m1,0h1m8,0h1m-91,1h1m58,0h1m39,0h1m-79,1h1m20,0h1m8,0h1m42,0h1m20,0h1m-116,1h1m7,0h1m37,0h1m44,0h1m2,0h1m12,0h1m-110,1h1m13,0h1m5,0h1m9,0h1m10,0h1m55,0h1m-84,1h1m36,0h1m-45,1h2m3,0h1m124,0h1m-115,1h1m22,0h1m1,0h3m20,0h1m15,0h1m13,0h1m11,0h1m-46,1h1m1,0h2m22,0h1m18,0h1m-117,1h1m7,0h1m29,0h1m23,0h1m-16,1h1m15,0h1m26,0h1m8,0h1m5,0h1m-90,1h1m17,0h1m28,0h1m1,0h1m13,0h1m-79,1h1m84,0h1m4,0h1m18,0h1m-48,1h1m30,0h1m-79,1h1m36,0h1m23,0h1m5,0h1m2,0h1m1,0h1m-85,1h1m34,0h1m80,0h1m-96,1h1m10,0h1m13,0h1m18,0h1m15,0h1m3,0h1m18,1h1m-100,1h1m22,0h1m14,0h1m-4,1h1m16,0h2m7,0h1m-44,1h1m18,0h1m26,0h1m-61,1h1m4,0h1m28,1h1m3,0h1m22,0h1m10,0h1m59,0h1m-122,1h1m58,0h1m11,0h1m-43,1h1m56,0h1m19,0h1m9,0h1m-137,1h1m41,0h1m15,0h1m16,0h1m15,0h1m12,0h1m-100,1h1m53,0h1m-63,1h1m11,0h1m10,0h1m2,0h1m1,0h1m19,0h1m16,0h1m34,0h1m2,0h1m11,0h1m-114,1h1m15,0h1m60,0h1m-42,1h1m63,0h1m36,0h1m-115,1h1m18,0h1m17,0h1m27,0h1m-85,1h1m46,0h1m42,0h1m-44,1h1m-42,1h1m12,0h1m26,0h1m31,0h1m14,0h1m-67,1h1m13,0h1m26,0h1m28,0h1m-71,1h1m4,0h1m-16,1h2m12,0h1m-39,1h1m7,0h1m24,0h1m49,0h1m-51,1h1m18,0h1m25,0h1m-74,1h1m39,0h1m9,0h1m17,0h1m-66,1h1m11,0h1m29,0h1m32,0h1m21,1h1m14,0h1m14,0h1m-89,1h1m-46,1h1m61,0h1m6,0h1m27,0h1m25,0h1m-125,1h1m47,0h2m37,0h1m15,0h1m-91,1h1m27,0h1m9,0h1m35,0h1m-46,1h1m25,0h1m31,0h1m4,0h1m-74,1h1m101,0h1m9,0h1m-131,1h1m1,0h1m1,0h1m21,0h1m11,0h1m16,0h1m49,0h1m-113,1h1m23,0h1m71,0h1m40,0h1m-146,1h1m4,0h1m12,0h1m43,0h1m19,0h2m-70,1h1m36,0h1m21,0h1m22,0h1m-80,1h1m77,0h1m-41,1h1m19,0h1m-69,1h1m83,0h2m21,0h1m1,0h1m-100,1h1m5,0h1m44,0h1m22,0h1m5,0h1m7,0h1m-78,1h1m41,0h1m-61,1h1m1,0h1m13,0h1m12,0h1m12,0h1m19,0h1m1,0h1m8,0h1m15,0h2m-57,1h1m-35,1h1m25,0h1m103,0h1m-75,1h1m2,0h1m31,0h1m4,0h1m-94,1h1m34,0h1m6,0h1m19,0h1m64,0h1m-111,1h1m14,0h1m68,0h1m-94,1h1m21,0h1m10,0h2m-54,1h1m2,0h1m12,0h1m1,0h1m35,0h1m46,0h1m-52,1h1m8,0h1m3,0h1m28,0h1m2,0h1m-87,1h1m7,0h1m10,0h1m-19,1h1m8,0h1m6,0h1m66,0h1m-83,1h1m7,0h1m3,0h1m8,0h1m5,0h1m32,0h1m-60,1h1m17,0h1m7,0h1m48,0h1m-58,1h1m97,0h1m-49,1h1m7,0h1m-60,1h1m9,0h1m45,0h1m2,0h1m-70,1h1m31,0h1m1,0h1m38,0h1m23,0h1m-106,1h1m6,0h1m23,0h1m5,0h1m36,0h1m6,0h1m-84,1h1m43,0h1m7,0h1m20,0h1m21,0h1m-102,1h1m7,0h1m16,0h1m23,0h1m20,0h1m19,0h1m-57,1h1m60,0h1m-65,1h1m54,0h1m33,0h1m-108,1h1m21,0h1m12,0h1m-53,1h1m14,0h1m8,0h1m20,0h1m23,0h1m-66,1h1m19,0h1m4,0h1m29,0h1m-45,1h1m9,0h1m21,0h1m4,1h1m36,0h1m7,1h1m1,0h1m-84,1h1m27,0h1m21,0h1m1,1h1m32,0h1m-65,1h1m12,0h1m48,0h1m11,0h1m-66,1h1m18,0h1m15,0h1m-38,1h1m10,0h1m4,0h1m11,0h1m23,0h1m5,0h1m8,0h1m12,0h1m-63,1h1m33,0h1m-97,1h1m71,0h1m10,0h1m-82,1h1m20,0h1m66,0h1m8,0h1m-53,1h1m59,0h1m21,0h1m-107,1h1m15,0h1m50,0h1m16,0h1m-94,1h1m6,0h1m68,0h1m33,0h1m-117,1h1m41,0h1m8,0h1m15,0h1m-76,1h1m46,0h1m27,1h1m-70,1h1m9,0h2m5,0h1m85,0h1m5,0h1m-29,1h1m25,0h1m-21,1h1m19,1h1m-77,1h1m17,0h1m40,0h1m-94,1h1m10,1h1m48,0h1m9,0h1m11,0h1m7,0h1m10,0h1m-96,1h1m7,0h1m6,0h1m34,0h1m5,0h1m22,0h1m-56,1h1m20,0h1m11,0h1m14,0h1m19,0h1m-78,1h1m16,0h1m39,0h1m20,0h1m2,0h1m-55,1h1m16,0h1m-11,1h1m-23,1h1m25,0h1m-60,1h1m3,0h1m13,0h1m27,0h1m51,0h1m15,0h1m26,0h1m-49,1h1m-74,1h1m18,0h1m8,0h1m26,0h1m12,0h1m-80,1h2m13,0h1m31,0h1m17,0h1m6,0h1m11,0h1m6,0h2m-104,1h1m11,0h1m21,0h1m20,0h1m6,0h1m6,0h1m29,0h1m-84,1h1m6,0h1m5,0h1m34,0h1m-41,1h1m26,0h1m13,0h1m14,0h1m14,0h1m8,0h1m13,0h1m-93,1h1m42,0h1m6,0h1m-65,1h2m7,0h1m29,0h1m20,0h1m24,0h1m14,0h1m-102,1h1m42,0h1m18,0h1m-22,1h1m22,0h1m27,0h1m-66,1h1m25,0h1m63,0h1m-115,1h1m32,0h1m-26,1h1m1,0h1m37,0h1m-48,1h1m40,0h1m7,0h1m-47,1h1m2,0h2m79,0h1m5,0h1m-92,2h1m12,0h1m64,0h1m2,0h1m49,0h1m-108,1h1m11,0h1m26,0h1m19,0h1m-62,1h1m46,0h1m-79,1h1m47,0h1m23,0h1m8,0h1m-66,1h1m103,0h1m-122,1h1m6,0h1m76,0h1m14,0h1m-61,1h1m-12,1h1m2,0h1m11,0h1m21,0h1m22,0h1m1,0h1m-77,1h2m51,0h1m25,0h1m-93,1h1m50,0h1m34,0h1m-67,1h1m25,0h1m11,1h1m11,0h1m17,0h1m-95,1h1m20,0h1m18,0h1m19,0h1m51,0h1m-53,1h1m8,0h1m6,0h1m59,0h1m-109,1h1m19,0h2m49,0h1m-67,1h1m102,0h1m-137,1h1m11,0h1m50,0h1m2,0h1m26,0h1m-97,1h1m49,0h1m48,0h1m-59,1h1m35,0h1m16,0h1m3,0h1m-76,1h1m36,0h1m40,0h1m3,0h1m-103,1h1m4,0h1m13,0h1m10,0h1m47,0h1m-82,1h1m3,0h1m8,0h1m22,0h1m17,0h1m16,0h2m8,0h1m1,0h1m3,0h1m16,0h1m-74,1h1m55,0h1m4,0h1m12,0h1m-107,1h1m8,0h1m13,0h1m8,0h2m11,0h1m4,0h1m12,0h1m2,0h1m-66,1h1m12,0h1m11,0h1m7,0h1m3,1h1m5,0h1m7,0h1m-36,1h1m28,0h1m2,0h1m15,0h1m84,0h1m-141,1h1m34,0h1m6,0h1m46,0h1m-82,1h1m24,0h1m13,0h1m20,0h1m21,0h1m-96,1h1m23,0h1m80,0h1m-68,1h1m5,0h1m1,0h2m-52,1h1m98,0h1m-93,1h1m6,0h1m16,0h1m16,1h1m-42,1h1m4,0h1m12,0h1m8,0h1m42,0h1m37,0h1m-48,1h1m-52,1h1m14,0h1m28,0h1m19,0h1m17,0h1m7,0h1m21,0h1m-97,1h1m31,0h1m8,0h1m2,0h1m12,0h1m18,0h1m-79,1h1m16,0h1m3,0h1m10,0h1m-26,1h1m33,0h1m5,0h1m8,0h1m-68,1h1m20,0h1m51,0h1m6,0h1m-86,1h1m75,0h1m5,0h1m19,0h1m1,0h1m-114,1h1m61,0h1m32,0h1m-26,1h1m22,0h1m-27,1h1m25,0h1m-60,1h1m5,0h1m10,0h1m10,0h1m25,0h1m6,0h1m-48,1h1m23,0h1m26,0h1m23,0h1m4,0h1m-133,1h1m12,0h1m18,0h1m36,0h1m30,0h1m-81,1h1m15,0h1m38,0h1m71,0h1m-103,1h1m7,0h1m31,0h1m11,0h1m-101,1h1m55,0h2m11,0h1m33,0h1m-71,1h1m32,0h1m33,0h1m24,0h1m14,0h1m-133,1h1m24,0h1m26,0h1m12,0h1m-73,1h1m43,0h1m36,0h1m6,0h1m11,0h1m-86,1h1m1,0h1m24,0h1m10,0h1m70,0h1"/>
<path stroke="#472f7d" d="M16,16h1m19,0h1m74,4h1m-66,1h1m25,0h1m56,1h1m-37,1h1m29,0h1m-62,1h1m96,1h1m-134,1h1m84,0h1m15,0h1m-20,1h1m10,0h1m-54,1h1m-7,1h1m17,0h1m12,0h1m29,0h1m-92,1h1m6,0h1m10,0h1m-20,1h1m7,0h1m13,0h1m45,0h1m9,0h2m-95,1h1m13,0h1m5,0h1m71,0h1m2,0h1m-98,1h1m6,0h1m44,0h1m2,0h1m25,0h1m55,0h1m-139,1h1m36,0h1m26,0h1m23,0h1m2,0h1m-80,1h1m21,0h1m9,0h1m14,0h1m58,0h1m4,0h1m-116,1h1m30,0h1m3,0h1m4,0h1m15,0h1m25,0h1m2,0h1m-90,1h1m29,0h1m52,0h1m26,0h1m-115,1h1m28,0h1m50,0h1m-16,1h1m25,0h1m-94,1h1m58,0h1m11,0h1m-41,1h1m32,0h1m-48,1h1m47,0h1m15,0h1m17,0h1m6,1h1m-94,1h1m31,0h1m20,0h1m9,0h1m17,0h1m-45,1h1m15,0h1m6,0h1m-25,1h1m54,0h2m44,0h1m-91,1h1m9,0h1m-63,1h1m67,0h1m-53,1h1m15,0h1m15,0h1m40,0h1m-92,1h1m30,0h1m68,0h1m-102,1h1m8,0h1m7,0h1m6,0h1m43,0h1m-23,1h1m-47,1h1m24,0h1m10,0h1m56,0h1m17,0h1m-78,1h1m24,0h1m38,0h1m-92,2h1m25,0h1m6,0h1m24,0h1m64,0h1m-136,1h1m9,0h1m37,0h1m10,0h1m-7,1h1m-42,1h1m35,0h1m-41,1h1m13,0h1m6,0h1m36,0h1m36,0h1m-38,1h1m-40,1h2m23,0h1m23,0h1m6,0h2m35,0h1m-117,1h1m3,0h1m30,0h1m26,0h1m-65,1h1m77,0h1m17,0h1m-65,1h1m3,0h1m-29,1h1m2,0h1m9,0h1m28,0h1m16,0h1m27,0h1m-72,1h1m-3,1h1m6,0h1m20,0h1m-52,1h1m99,0h1m-16,1h1m-87,1h1m50,0h1m36,0h1m-61,1h1m22,0h1m18,0h1m-12,1h1m10,0h1m-58,1h1m36,0h1m49,0h1m15,0h1m-101,1h1m4,0h1m56,0h1m-43,1h1m48,0h1m12,0h1m31,0h1m-31,1h1m-92,1h1m63,0h1m3,0h1m-62,1h1m46,0h1m9,0h1m-44,1h1m16,0h1m1,0h1m49,0h1m2,0h1m-97,1h1m45,0h1m59,0h1m-109,1h1m21,0h1m2,0h1m13,0h1m1,0h1m-37,1h1m2,0h1m14,0h1m28,0h1m38,0h1m-34,1h1m1,0h1m17,0h1m-75,1h1m13,0h1m38,0h1m13,0h1m-58,1h1m18,0h1m28,0h1m30,0h1m7,0h2m-91,1h1m4,0h1m84,0h1m-96,1h1m19,0h1m2,0h2m52,0h1m12,0h1m-89,1h1m88,0h1m32,0h1m-104,1h1m85,0h1m-101,1h1m64,0h1m16,0h1m-92,1h1m40,0h2m26,1h1m25,0h1m-21,1h1m10,0h1m8,0h1m-67,1h1m40,0h1m-7,1h1m1,0h1m5,0h1m13,0h1m-17,1h1m-54,1h1m8,0h1m2,0h1m22,0h1m-45,1h1m8,0h1m44,0h1m42,0h1m-76,1h1m58,0h1m-96,1h1m80,0h1m6,0h1m11,0h1m1,0h1m-23,1h1m7,0h1m-61,1h1m20,1h1m18,0h1m17,0h1m-5,1h1m19,0h1m-87,1h1m11,0h1m30,0h1m-25,1h1m67,1h1m-84,1h1m-11,1h1m22,0h1m28,0h1m-50,1h1m36,0h1m50,0h1m-99,1h2m46,0h1m41,0h1m23,0h1m-75,1h1m40,1h1m13,0h1m48,1h1m-68,1h1m-22,1h1m13,0h1m2,0h1m1,0h2m6,0h1m-42,1h1m28,0h1m-77,1h1m12,0h1m45,0h1m23,0h1m50,0h1m-103,1h1m12,0h1m53,0h1m-91,1h1m74,0h1m-63,1h1m34,0h1m43,0h1m47,0h1m-108,1h1m55,0h1m-3,1h1m-52,1h1m3,0h1m14,0h2m-58,1h1m4,0h1m33,0h1m14,0h1m38,0h1m3,0h1m-61,1h1m14,0h1m11,0h1m28,0h1m-51,1h1m7,0h1m16,0h1m16,0h1m-93,1h1m4,0h1m0,1h1m8,0h1m2,0h1m25,0h1m18,0h1m69,0h1m-42,1h1m-19,1h1m12,0h1m5,0h1m54,0h1m-56,1h1m-65,1h1m7,0h1m-26,1h1m5,0h1m71,0h1m9,0h1m32,0h1m-125,1h1m36,0h1m6,0h1m41,0h1m1,1h1m-23,1h1m25,0h1m14,0h1m-104,1h1m16,0h1m52,0h1m15,0h1m-64,1h1m20,0h1m8,0h1m17,0h1m-80,1h2m26,0h1m57,0h1m-82,1h1m6,0h1m35,0h1m25,0h1m2,0h1m5,0h1m-90,1h1m53,0h1m28,0h1m20,0h1m-15,1h1m-82,1h1m67,0h1m46,0h1m-97,1h1m84,0h1m-80,1h1m-19,1h1m67,0h1m-76,1h1m24,0h1m4,0h1m13,0h1m-31,2h1m4,0h1m70,0h1m-52,1h1m15,0h1m20,0h1m4,0h1m22,0h1m-102,1h1m2,0h1m79,0h1m-87,1h1m21,0h1m14,0h1m34,0h1m7,2h2m3,0h1m16,0h1m-110,1h1m19,0h1m16,0h1m43,0h1m-67,1h1m11,0h1m16,0h1m3,0h1m43,0h1m-28,1h1m4,0h1m-56,1h1m47,0h1m5,0h1m24,0h1m-25,1h1m-71,1h1m30,0h1m50,0h1m6,0h1m-93,1h1m28,0h1m14,0h1m2,0h1m-37,1h1m51,0h1m10,0h1m4,0h1m50,0h1m-124,1h1m29,0h1m62,0h1m15,0h1m-106,1h1m4,0h1m43,0h1m21,0h1m52,0h1m-126,2h1m23,0h1m26,0h1m1,0h1m1,0h2m25,0h1m25,0h1m-72,1h1m-31,1h1m50,0h1m2,0h1m13,0h1m-80,1h1m17,0h1m10,0h1m47,0h1m7,0h1m3,0h1m-70,1h1m91,0h1m11,0h1m-55,1h1m63,0h1m-135,1h1m16,0h1m23,0h1m4,0h1m28,0h1m20,0h1m-101,1h1m13,0h1m29,0h1m32,0h1m34,0h1m-66,1h1m23,0h1m13,0h1m13,0h1m-69,1h2m-23,1h1m40,0h1m50,0h1m-88,1h1m13,0h1m56,0h1m6,0h1m49,0h1m-129,1h1m8,0h1m26,0h1m22,0h2m-52,1h1m19,0h1m29,0h1m19,0h1m-69,1h1m13,1h1m16,0h1m-43,1h1m30,0h1m21,0h1m19,0h1m23,0h1m30,0h1m-141,1h1m60,0h1m-45,1h1m9,0h1m25,0h1m6,1h1m-37,1h1m35,0h1m12,0h1m27,0h1m7,0h1m-41,1h1m16,0h1m-66,2h1m11,0h1m2,0h1m27,0h1m-44,1h1m21,0h1m3,0h1m4,0h1m5,0h1m42,0h1m-73,1h1m10,0h1m13,0h1m12,0h1m2,0h1m32,0h1m-105,1h1m58,0h1m37,0h1m-82,1h1m8,0h1m40,0h1m45,0h1m-72,1h1m32,0h1m6,0h1m15,0h1m-62,1h1m6,0h2m67,0h1m-53,1h1m10,0h1m3,0h1m36,0h1m-44,1h1m-56,1h1m10,0h1m43,0h1m27,0h1m-56,1h1m49,0h1m-81,1h1m37,0h1m-32,1h1m25,0h1m66,0h1m-98,1h1m44,1h1m-16,1h1m40,0h1m7,0h1m3,0h1m-91,1h1m31,0h1m37,0h1m17,0h2m2,0h1m-93,1h1m60,0h1m-34,1h1m43,0h2m-58,1h1m81,0h1m-29,1h1m-67,1h1m11,1h1m87,0h1m-115,1h1m92,0h1m29,0h1m-38,1h1m31,0h1m-65,1h1m22,0h1m-6,1h1m7,0h1m-7,1h1m13,0h1m-81,1h1m2,0h1m17,0h1m72,0h1m35,0h1m-121,1h1m16,0h1m10,0h1m-39,1h1m2,0h1m5,0h1m19,0h1m9,0h1m5,0h1m11,0h1m17,0h1m-36,1h1m31,0h1m-79,1h1m77,0h1m7,1h1m11,0h1m2,0h1m-85,1h1m30,0h1m72,0h1m-70,1h1m37,0h1m19,0h1m-89,1h1m25,0h1m-27,1h1m14,0h1m32,0h1m15,0h1m-80,1h1m72,1h1m-62,1h1m10,0h1m14,0h1m13,0h1m13,0h1m-51,1h1m7,0h1m12,0h1m30,0h1m-38,1h1m7,0h1m1,0h1m29,0h1m-60,1h1m18,0h1m21,0h1m55,0h1m-86,1h1m7,0h1m22,0h1m18,0h1m20,0h1m-97,1h1m39,0h1m36,0h1m8,0h1m4,0h1m1,0h1m-79,1h1m15,0h1m49,0h1m9,0h1m43,0h1m-116,1h1m14,0h1m-43,1h1m30,0h1m58,0h1m6,0h1m1,0h1m-51,1h1m-5,1h3m24,0h1m8,0h1m16,0h1m38,0h1m-86,1h1m35,0h1m-83,1h1m26,0h1m32,0h1m-44,1h1m-2,1h1m73,0h1m2,0h1m-58,1h1m-24,1h1m95,0h1m-95,1h1m3,0h1m68,0h1m-47,1h1m18,0h1m-67,1h1m35,0h1m40,0h2m-70,1h1m16,0h2m66,0h1m-95,1h1m18,0h1m1,0h1m38,0h1m20,0h1m11,0h1m6,0h1m-79,1h1m8,0h1m58,0h1m-47,1h1m7,0h1m25,0h1m2,0h1m17,0h1m16,0h1m-113,1h1m16,0h1m62,0h1m-70,1h1m79,1h1m-32,1h1m-64,2h1m19,0h1m20,0h1m-39,1h1m59,0h1m10,0h1m-55,1h1m21,0h1m37,0h1m-77,1h1m60,0h1m19,0h1m23,0h1m-106,1h1m20,0h1m57,0h2m3,0h1m-29,1h1m25,0h2m-76,1h1m40,0h1m5,0h1m60,0h1m-118,1h1m17,0h1m14,0h1m11,0h1m4,0h1m14,0h1m-29,1h1m27,0h1m26,0h1m15,0h1m-85,1h1m22,0h1m2,0h1m3,0h1m15,0h1m29,0h1m-106,1h1m65,0h1m29,0h1m-80,1h1m1,0h1m32,0h1m2,1h1m11,0h1m28,0h1m-42,1h1m45,0h1m-99,1h1m3,0h1m-3,1h1m52,0h1m83,0h1m-75,1h3m6,1h1m4,0h1m26,0h1m27,0h1m-141,2h1m17,0h1m58,0h1m10,0h1m-72,1h1m2,0h1m18,0h2m61,0h1m-103,1h1m33,0h1m14,0h1m27,0h1m-13,1h1m-15,1h2m19,0h1m22,0h1m-81,1h1m66,0h1m20,0h1m-104,1h1m61,0h1m-16,1h1m21,0h1m15,0h2m-34,1h1m10,0h1m36,0h1m-101,1h1m42,0h1m47,0h1m21,0h1m-115,1h1m18,0h1m6,0h1m7,0h2m3,0h1m31,0h1m1,0h1m30,1h1m-97,1h1m51,0h1m6,0h2m27,0h1m-89,1h1m19,0h1m21,0h1m46,0h1m-69,1h1m11,0h1m58,0h1m-67,1h1m15,0h1m50,0h1m-96,1h1m17,0h1m16,0h1m8,0h1m48,0h1m-82,1h1m79,0h1m46,0h1m-129,1h2m-9,1h1m27,0h1m16,0h1m5,0h1m8,0h1m19,0h1m-73,1h1m3,0h1m18,0h1m68,0h1m-79,1h1m17,0h1m55,0h1m-98,1h1m31,0h1m18,0h1m-38,1h1m43,0h1m1,1h1m-39,1h1m-28,1h1m6,0h1m40,1h1m11,0h1m22,0h1m-69,1h1m79,0h1m14,0h1m-75,1h1m20,0h1m-59,1h1m17,0h1m3,0h1m35,0h1m8,0h1m18,0h1m4,0h1m15,1h1m-107,1h1m50,0h1m-23,2h1m49,0h1m-72,1h1m42,0h1m39,0h1m10,0h1m-88,1h1m18,0h1m32,0h1m7,0h1m13,0h1m-59,1h1m22,0h1m28,0h1m42,0h1m-118,1h1m3,0h1m5,0h1m15,1h1m42,0h1m-59,1h1m53,0h1m-52,1h2m74,0h1m10,0h1m-78,1h1m-34,1h1m36,0h1m31,0h1m56,0h1m-123,1h1m6,0h1m62,0h1m-54,1h1m62,0h1m-79,1h1m48,0h1m13,1h1m-54,1h1m2,0h1m8,0h1m-13,1h1m1,0h1m33,1h1m-46,1h1m12,0h1m1,0h1m24,0h1m-44,1h1m16,0h1m19,0h1m7,0h1m16,0h1m4,0h1m6,0h1m35,0h1m31,0h1m-126,1h1m35,0h1m26,0h1m5,0h1m-84,1h1m81,0h1m-78,2h1m6,0h1m13,0h1m33,0h1m11,0h1m66,0h1m-139,1h1m5,0h1m39,0h1m76,0h1m-94,1h1m2,0h1m1,0h1m18,0h1m7,0h1m16,0h1m-58,2h1m15,1h1m18,0h1m31,1h1m2,0h1m-74,2h1m9,0h1m6,0h1m1,0h1m74,0h1m-125,1h1m31,0h1m19,0h1m6,0h1m5,0h1m7,0h1m-61,1h1m97,1h1m-104,1h1m6,0h1m2,0h1m27,1h1m53,0h1m8,0h1m-46,1h1m-65,1h1m7,0h1m1,0h1m11,0h1m25,0h1m-15,1h1m1,0h1m-11,1h2m9,0h1m39,0h1m18,0h1m-77,1h1m30,0h1m1,0h1m13,0h1m26,0h1m-82,1h1m19,0h1m37,0h2m36,0h1m3,0h1m-54,1h1m43,0h1m-99,1h1m24,0h1m25,0h1m-39,1h1m37,0h1m5,0h1m15,0h1m-6,1h1m-26,1h1m63,0h1m-100,1h1m10,0h1m3,0h1m2,0h1m6,0h1m89,0h1m-90,1h1m38,0h1m5,0h1m10,0h1m1,0h1m-56,1h1m-35,1h1m-7,1h1m11,0h1m27,0h1m2,0h2m33,0h1m-49,2h1m25,0h1m-59,1h1m22,0h1m12,0h1m5,0h1m60,0h1m12,0h1m-104,1h1m36,0h1m11,0h1m51,0h1m-105,1h1m22,0h1m58,0h1m-93,1h1m7,0h1m1,0h1m55,0h1m3,0h1m-72,1h1m110,0h1m32,0h1m-135,1h1m64,0h1m1,0h1m25,0h1m13,0h1m-110,1h1m48,0h1m61,0h1m-118,1h1m74,0h1m6,0h1m-67,1h1m43,0h1m-52,1h1m15,1h1m46,1h1m-36,1h1m54,0h1m-69,1h1m33,0h1m-38,1h1m63,0h1m1,0h1m-2,1h1m-81,1h1m23,0h1m1,0h1m16,0h1m52,0h1m6,0h1m-83,1h1m66,0h1m-43,1h1m-21,1h1m51,0h1m12,0h1m-26,1h1m-75,1h1m55,0h1m24,0h1m57,0h1m-118,1h1m44,0h1m76,0h1m-139,1h1m27,0h1m49,0h1m5,0h1m-88,1h1m50,0h1m32,0h2m12,0h1m-98,1h1m4,0h1m37,0h1m21,0h1m-52,1h1m38,0h1m37,0h1m38,0h1m-101,1h1m17,0h1m22,0h1m-69,1h1m3,0h1m25,0h1m9,0h1m34,0h1m-79,1h1m12,0h1m3,0h1m25,0h1m16,0h1m-48,1h1m34,1h1m24,0h1m6,0h1m-38,1h1m19,0h1m17,0h1m1,0h1m-83,1h1m11,0h1m53,0h1m29,0h1m-92,1h1m6,0h1m7,0h1m33,0h1m10,0h1m-13,1h1m18,0h1m39,0h1m-79,2h1m11,0h1m12,0h1m38,0h1m1,0h1m-44,1h1"/>
<path stroke="#463480" d="M139,16h1m-41,3h1m-37,1h1m8,0h1m-43,2h1m52,0h1m37,1h1m-100,1h1m81,0h1m49,0h1m-44,1h1m27,0h1m-54,1h1m-52,1h1m34,0h1m42,0h1m-77,1h1m10,0h1m51,0h1m-84,1h1m45,0h1m25,0h1m4,0h1m-66,1h1m24,0h1m23,0h1m19,0h1m-21,1h1m55,0h1m-117,1h1m6,0h1m25,0h1m3,0h1m-39,1h1m-6,1h1m2,0h1m22,0h1m-9,1h1m5,1h1m7,0h1m22,0h1m14,0h1m66,1h1m-132,1h1m8,0h1m31,0h1m5,2h1m-35,1h1m40,0h1m-59,1h1m2,0h1m39,0h1m39,0h1m-47,1h1m35,0h1m-50,1h1m35,0h1m37,1h1m-71,1h1m10,0h1m25,0h1m1,0h1m-63,1h1m53,0h1m1,0h1m13,0h1m39,0h1m-34,1h1m-87,1h1m25,0h1m17,0h1m23,1h1m18,0h1m-70,1h1m44,0h1m34,0h1m-41,1h1m-41,1h1m43,0h1m13,0h1m24,0h1m2,0h1m-99,1h1m57,0h1m34,0h1m-93,1h1m5,1h1m60,0h1m20,0h1m-88,1h1m25,0h1m35,0h1m-20,1h1m3,1h1m30,0h1m-88,2h1m9,0h1m18,0h1m75,0h1m-62,1h1m100,0h1m-128,1h1m30,0h1m-1,2h1m3,0h1m23,0h1m-17,1h1m3,0h1m32,0h1m-80,2h1m25,0h1m30,0h1m-66,1h1m113,0h1m-53,1h1m1,0h1m24,0h1m-70,2h1m42,0h1m-36,1h1m10,0h1m1,0h1m13,0h1m-57,1h1m11,0h1m11,0h1m17,0h1m43,0h1m-10,1h1m3,0h1m9,0h1m8,0h1m-95,1h1m8,0h1m39,0h1m7,0h1m-45,1h1m19,0h1m44,0h1m13,0h1m-9,1h1m-83,1h1m7,0h1m69,0h1m-59,1h1m4,0h1m26,0h1m20,0h1m-33,1h1m15,0h1m26,0h1m-86,1h1m18,0h1m54,0h1m12,0h1m25,0h1m-108,1h1m94,0h1m-101,1h1m73,0h1m5,0h1m31,0h1m-119,1h1m3,0h1m30,0h1m8,0h1m11,0h2m4,0h1m20,0h1m-88,1h1m25,0h1m17,0h1m46,0h1m-99,1h1m7,0h1m22,0h1m13,0h1m22,0h1m8,0h1m-47,2h1m13,0h1m-12,1h2m19,0h1m12,0h1m32,0h1m-91,1h1m17,0h1m21,0h1m67,1h1m-59,1h1m10,0h1m3,0h1m-56,1h1m35,0h1m1,0h1m15,2h1m31,0h1m-107,1h1m79,0h1m13,0h1m-28,1h1m6,0h1m-50,1h1m40,0h1m29,0h1m1,0h1m-63,1h1m5,0h1m19,0h1m19,0h1m-83,1h1m15,0h1m87,0h1m-98,1h1m87,0h1m-90,1h1m20,0h1m4,0h1m64,0h1m-84,1h1m2,0h1m5,0h1m34,0h1m36,0h1m-89,1h1m16,0h1m34,1h1m6,0h1m6,0h1m-59,1h1m55,0h1m-63,1h1m29,0h1m9,0h2m-9,1h1m3,0h2m42,0h1m1,0h1m-93,1h1m38,0h1m45,0h1m-80,2h1m35,0h1m47,0h1m-4,1h1m-76,1h1m47,0h1m2,0h1m11,0h1m12,0h1m23,0h1m-99,1h1m12,0h1m7,0h1m97,0h1m-125,1h1m14,0h1m53,0h1m14,0h1m4,0h1m17,0h1m-56,1h1m4,0h1m-60,1h1m24,0h1m27,0h1m1,0h1m26,2h1m-33,1h1m45,0h1m-69,1h1m32,0h1m14,0h1m5,0h1m-88,1h1m62,0h1m16,1h1m50,0h1m-127,1h1m66,0h1m39,0h1m-73,1h1m21,0h2m-12,1h1m28,0h1m-61,1h1m1,0h1m7,0h1m37,0h1m-9,1h1m7,0h1m19,0h1m3,0h1m-94,1h1m17,0h1m37,2h1m29,0h1m-61,1h1m-30,1h1m7,0h1m26,0h1m1,0h1m9,0h1m17,0h1m14,0h1m13,0h1m-95,1h1m97,0h1m-79,1h1m-4,1h1m49,0h1m37,0h1m-41,1h1m23,0h1m39,0h1m-83,1h1m10,0h1m28,0h1m-79,1h1m14,0h1m32,0h1m26,0h1m-40,1h1m1,0h1m34,0h1m-50,1h1m64,0h1m6,0h1m-59,2h2m5,0h1m-41,1h1m36,0h1m20,0h1m32,1h1m-23,1h1m17,0h1m-91,1h1m60,0h1m-65,1h1m41,0h1m27,0h1m-75,1h1m76,0h1m-51,1h1m14,0h1m-45,1h1m6,0h1m1,0h1m4,0h1m4,0h1m58,0h1m6,0h1m46,0h1m-70,1h1m18,0h1m13,0h1m-93,1h1m90,0h1m-67,1h1m18,0h1m40,0h1m-46,2h1m5,0h1m10,0h1m-51,1h3m74,0h1m-24,2h1m-68,2h1m93,0h1m1,0h1m-92,2h1m9,0h1m49,0h1m-47,1h1m4,0h1m24,0h1m46,0h1m-72,1h1m20,0h1m64,0h1m-101,1h1m7,0h1m70,1h1m-2,1h1m-87,1h1m84,0h1m45,0h1m-124,1h1m21,0h1m17,0h1m46,0h1m-69,1h1m38,0h1m35,1h1m13,0h1m-38,1h1m13,0h1m-87,1h1m33,0h1m79,0h1m-79,1h1m-6,1h1m-20,1h1m71,0h1m-62,1h1m62,0h1m3,0h1m-98,1h1m61,0h1m-64,1h1m14,0h1m25,0h1m4,0h1m11,0h1m17,1h1m-78,1h1m53,0h1m14,0h1m-67,1h1m8,0h1m46,0h1m-26,1h1m10,0h1m25,0h1m-41,1h1m50,0h1m-77,1h1m11,0h1m70,0h1m4,0h1m-72,1h1m14,0h1m12,0h1m-46,1h1m2,0h1m4,0h1m16,1h1m3,0h1m59,0h1m1,0h2m-51,1h1m20,0h1m27,0h1m45,0h1m-142,2h1m24,0h1m11,0h1m63,0h1m-88,1h1m4,0h1m28,0h1m72,0h1m24,2h1m-112,2h1m7,0h1m32,0h1m11,0h1m-92,1h1m45,1h1m8,0h1m13,0h1m23,0h1m8,0h1m-71,1h1m21,0h1m3,0h1m-42,1h1m86,0h1m-56,1h1m29,0h1m-56,2h1m-16,1h1m12,0h1m63,0h2m-79,1h1m7,0h1m-4,1h1m54,0h1m-41,3h1m24,0h1m26,1h1m-20,1h1m81,0h1m-109,1h1m23,0h1m-41,1h1m33,0h1m34,0h1m-91,1h1m32,0h1m13,1h1m9,0h1m-53,1h1m77,0h1m-32,1h1m19,0h1m24,0h1m-57,1h1m10,0h1m72,0h1m-98,1h1m79,0h1m-100,1h1m7,0h1m57,0h1m3,0h1m-72,1h1m40,0h1m2,0h1m25,0h1m51,0h1m-28,1h1m-104,1h1m10,0h1m58,1h1m-2,1h1m-40,1h1m21,0h1m-43,1h1m12,0h1m10,1h1m70,0h1m12,0h1m-118,2h1m17,0h1m6,0h1m70,0h1m32,0h1m-112,1h1m21,0h1m6,0h1m21,0h1m-43,1h1m6,0h1m22,1h1m42,0h1m-84,1h1m26,0h1m20,0h1m6,0h1m-26,1h1m-39,1h1m37,0h1m2,0h1m12,0h1m10,1h1m-58,1h1m34,0h1m64,0h1m-107,1h1m1,0h1m9,0h1m-21,1h1m42,0h1m18,0h1m1,0h1m2,0h1m16,0h1m-27,1h1m4,0h1m62,0h1m-41,1h1m-66,2h1m37,0h1m7,0h1m-6,1h1m7,0h1m2,0h1m32,1h1m-75,1h1m6,0h1m30,0h1m-41,1h1m56,0h1m11,0h1m1,0h1m-96,1h1m52,0h1m-54,1h1m1,0h1m39,0h1m16,0h1m36,0h1m-86,1h1m44,0h1m41,0h1m41,0h1m-123,1h1m23,0h1m11,0h1m-25,1h1m64,0h1m8,0h1m-39,1h1m12,0h1m-28,1h1m23,0h1m14,0h1m-92,1h1m44,0h1m5,0h1m16,0h1m24,0h1m-94,1h1m79,0h1m-87,1h1m-4,1h1m56,0h1m46,0h1m-74,1h1m4,0h1m-7,1h1m35,0h1m27,0h1m49,0h1m-145,1h1m1,0h1m45,0h2m-43,1h1m44,0h1m7,0h1m44,0h1m-97,1h1m25,0h1m11,0h1m35,0h1m1,0h1m-68,1h1m3,0h1m24,1h1m16,0h1m-51,1h1m50,0h1m18,0h1m-54,1h1m7,0h1m15,1h1m21,0h1m12,0h1m2,0h1m-69,1h1m-7,1h1m46,0h1m17,0h1m-41,1h1m52,0h1m-83,1h1m15,0h1m30,0h1m-38,2h1m7,0h1m65,0h1m-20,1h1m3,0h1m-25,1h1m-9,1h1m9,0h1m27,0h1m26,0h1m-107,1h1m40,0h1m11,0h1m28,0h1m1,0h1m1,1h1m-42,1h1m29,0h1m62,0h1m-90,1h1m-61,1h1m4,0h1m15,0h1m73,0h1m21,0h1m-46,1h1m-63,1h1m11,0h1m-7,2h1m-18,1h1m22,0h1m6,0h1m-12,1h1m18,0h1m31,0h1m43,1h1m30,0h1m-63,1h1m-37,1h1m52,0h1m-54,1h1m14,0h1m18,0h1m-73,1h1m2,0h1m24,0h1m30,0h1m19,0h1m6,1h1m-51,1h1m-13,1h1m67,0h1m-20,1h1m-53,1h1m16,0h1m-17,1h1m53,0h1m17,0h1m-84,1h1m27,0h1m19,0h1m1,0h1m-69,1h1m68,0h1m1,0h1m27,0h1m1,0h1m-81,1h1m26,0h1m8,0h1m-58,1h1m72,0h1m26,0h1m22,0h1m-24,1h1m-102,1h1m51,0h1m18,0h1m25,0h1m26,0h1m-74,1h1m-19,1h1m-2,1h2m-15,1h1m4,2h1m5,0h1m6,0h1m10,0h1m33,0h1m-59,1h1m119,0h1m-123,1h1m70,0h1m21,0h1m-78,1h1m59,0h1m-66,1h1m23,1h1m25,0h1m-68,1h1m41,1h1m13,0h1m-4,1h1m-25,1h1m1,1h2m11,0h1m2,0h1m-17,1h1m17,0h1m34,0h1m-46,1h1m-19,1h1m17,0h1m12,0h1m21,0h1m-54,2h1m11,0h1m-45,1h1m43,0h1m30,0h1m-21,1h1m-30,1h1m11,1h1m105,0h1m-107,2h1m10,0h1m-43,1h1m1,0h1m35,0h1m3,0h1m-31,1h1m9,0h1m5,0h1m16,0h1m-59,1h1m45,0h1m5,0h1m43,0h1m-81,1h1m35,0h1m23,0h1m14,0h1m22,0h1m-99,2h1m97,0h1m-48,1h1m-51,1h1m73,1h1m14,0h1m-97,1h1m1,0h1m35,0h1m48,0h1m16,0h1m-115,2h1m3,0h1m28,0h1m38,0h1m-63,1h1m35,0h1m29,0h1m25,0h1m-44,1h1m15,0h1m-54,1h1m23,0h1m21,0h1m26,1h1m24,0h1m14,0h1m-102,1h1m12,0h1m22,0h1m17,0h1m-79,1h1m44,0h1m21,0h1m22,0h2m-53,1h1m44,0h1m23,1h1m-84,1h1m11,0h1m23,0h1m9,0h1m1,0h1m32,0h1m-93,1h1m30,0h1m13,0h1m-31,1h1m28,0h1m15,0h1m-2,1h1m20,0h1m-84,4h1m26,0h1m1,0h1m2,1h1m25,0h1m-70,1h1m24,0h1m38,0h1m12,0h1m-65,1h1m21,0h1m-45,1h1m54,0h1m37,0h1m5,0h1m-98,1h1m1,0h1m73,0h1m-31,2h1m9,0h1m-57,1h1m12,1h1m50,0h1m11,0h1m-74,1h1m32,0h1m45,0h1m4,0h1m-75,1h1m39,0h1m39,0h1m7,0h1m3,0h1m-54,1h1m74,0h1m-107,1h1m7,0h1m17,0h1m18,0h1m-63,1h1m10,0h1m67,0h1m12,0h1m30,0h1m-115,1h1m123,0h1m-110,1h1m31,0h1m-31,1h1m20,0h1m17,0h1m4,0h1m10,0h1m-84,1h1m10,0h1m33,1h1m10,0h1m22,0h2m5,0h1m-87,1h1m76,0h1m11,0h1m-16,1h1m-38,1h1m25,0h1m22,0h1m58,0h1m-139,1h1m69,0h1m-81,2h1m28,0h1m15,1h1m27,0h1m12,0h1m13,0h1m11,0h1m-52,1h1m5,1h1m9,0h1m-11,1h1m18,0h1m36,0h1m-92,1h1m14,0h1m-12,1h1m25,0h1m26,0h1m-45,1h1m25,0h1m11,0h2m19,0h1m43,0h1m-134,1h1m53,0h1m-16,1h1m33,0h1m21,0h1m-83,1h1m34,0h1m34,0h1m-67,1h1m15,0h1m40,2h1m2,0h1m-88,1h1m29,0h1m17,0h1m-32,1h1m3,0h1m49,0h1m27,0h1m-76,1h1m17,0h1m85,0h1"/>
<path stroke="#443983" d="M129,20h1m-112,4h1m14,0h2m26,1h1m50,1h1m4,1h1m-97,1h1m33,0h1m23,0h1m-65,1h1m79,0h1m7,0h2m-83,1h1m8,0h1m39,0h1m5,0h1m5,0h1m5,0h1m4,0h1m-52,1h1m21,0h1m17,0h1m9,0h1m-35,1h1m-49,1h1m83,0h1m-38,1h1m20,0h1m39,0h1m-88,1h1m28,0h1m-28,1h1m5,0h1m7,0h1m29,0h1m32,0h1m-69,1h1m60,0h1m24,0h1m-105,1h1m42,0h1m9,1h1m-8,1h1m1,0h1m-63,2h1m56,0h1m48,1h1m-50,1h1m25,0h1m17,0h1m-59,1h1m1,0h2m3,0h1m24,0h1m24,0h1m1,0h1m-87,1h1m33,0h1m-19,1h1m16,1h1m-29,1h1m14,0h1m-12,1h1m29,0h1m26,0h1m10,0h1m9,0h1m19,0h1m-114,1h1m13,0h1m7,0h1m56,1h1m-79,1h1m33,0h1m36,0h1m-64,1h1m75,0h1m-56,1h1m-25,1h1m14,0h1m67,0h1m28,0h1m-44,1h1m-64,1h1m63,0h1m-19,1h1m-16,1h1m19,0h1m12,0h1m1,0h1m-41,4h1m-40,1h1m69,0h1m1,0h1m16,0h1m-63,1h1m34,0h1m-35,2h1m1,0h1m62,2h1m-72,1h1m21,0h1m-48,2h1m39,0h1m12,0h1m-20,1h1m31,0h1m-16,1h1m24,0h1m-56,1h1m21,0h2m13,0h1m12,0h1m-61,2h1m13,0h1m34,0h1m-44,1h1m49,0h1m26,0h1m-24,2h1m5,0h1m-9,1h1m22,1h1m49,0h1m-126,3h1m-8,1h1m29,0h1m46,0h1m-68,1h1m13,0h1m3,0h1m15,1h1m8,1h1m-69,1h1m21,0h1m29,0h1m21,0h1m-63,1h1m20,0h1m-13,1h1m25,0h1m55,0h1m-57,1h1m-50,1h1m3,0h1m77,0h1m-50,1h1m35,0h1m-55,2h1m56,0h1m25,0h1m-67,1h1m52,0h1m-52,1h1m46,1h1m7,0h1m-90,1h1m66,0h2m38,0h1m-98,1h2m15,0h1m18,1h1m-44,2h1m3,0h1m85,0h1m-66,1h1m4,1h1m28,0h1m-46,1h1m34,0h1m-20,1h1m17,0h1m12,1h1m34,0h1m-92,1h1m78,0h1m14,0h1m-48,1h1m18,0h1m-73,1h1m4,0h1m55,0h1m1,0h1m-45,1h1m65,0h1m15,0h1m-102,1h1m57,0h1m2,0h1m22,0h1m-14,1h1m29,0h1m-101,1h1m29,1h1m38,3h1m8,0h1m-57,2h1m49,3h1m-28,1h1m-1,1h1m8,0h1m-47,1h1m42,0h1m-9,1h1m6,0h1m12,0h1m33,0h1m23,0h1m-77,2h1m41,1h1m-85,1h1m16,0h1m7,0h1m83,0h1m-76,1h1m-41,1h1m93,0h1m4,0h1m-91,1h1m54,0h1m25,0h1m-13,1h1m30,1h1m-107,1h1m26,0h1m41,0h1m-36,1h1m11,0h1m0,1h1m45,0h1m-30,2h1m47,0h1m-77,1h1m46,0h1m-78,1h1m68,0h1m9,0h1m-37,2h1m20,0h1m30,0h1m-65,1h1m31,1h1m-6,1h1m23,1h1m-86,2h1m51,0h1m-11,1h1m25,0h1m6,0h1m13,1h1m-54,3h1m30,0h1m-23,1h1m-43,1h1m95,0h1m-88,1h1m8,0h1m3,0h1m68,0h1m-62,1h1m-26,1h1m19,1h1m-15,1h1m13,0h1m38,0h1m37,0h1m-97,1h1m6,1h1m58,0h1m4,0h1m-6,1h1m-24,1h1m5,0h1m11,0h1m-32,1h1m88,0h1m-127,1h1m24,1h1m20,0h1m14,0h1m-59,1h1m84,0h1m-70,2h1m66,0h1m3,0h1m12,1h1m-39,1h1m7,0h1m-25,1h1m59,0h1m-34,2h1m-67,1h1m71,0h1m-92,2h1m102,1h1m-43,1h1m11,1h1m23,0h1m7,0h1m-104,2h1m92,0h1m-78,1h1m79,1h1m15,0h1m-101,1h1m15,0h2m16,0h1m52,0h1m-3,1h1m6,0h1m-86,1h1m-5,1h1m32,0h1m8,0h1m10,0h1m17,0h1m-73,1h1m52,0h1m36,0h1m-84,1h1m15,1h1m9,0h1m47,0h1m-97,1h1m46,0h1m31,1h1m1,0h1m37,0h1m-20,1h1m-68,1h1m71,0h1m-82,1h2m25,0h1m23,0h1m-43,2h1m15,1h1m20,0h1m15,2h1m28,0h1m1,0h1m-115,1h1m77,0h1m-64,1h1m9,1h1m38,1h1m15,0h1m6,0h1m2,0h1m-53,1h1m1,0h1m-28,3h1m45,0h1m-26,1h1m64,0h1m-97,1h1m71,0h1m23,0h1m-74,1h1m99,1h1m-121,1h1m114,0h1m-81,1h1m45,1h1m8,0h1m-95,1h1m43,0h1m10,0h1m29,1h1m-28,1h1m26,0h1m33,0h1m-122,1h1m84,0h1m-83,2h1m33,0h1m83,0h1m-94,1h1m42,0h1m-52,1h1m44,0h1m-62,1h1m42,0h1m73,0h1m-26,1h1m-97,1h1m54,0h1m4,0h1m-45,1h1m104,0h1m-37,1h1m-81,1h1m6,0h1m15,1h1m17,0h1m-43,1h1m25,0h1m65,0h1m-88,2h1m1,0h1m19,0h1m29,0h1m-35,1h1m-9,1h1m5,1h1m4,1h1m36,1h1m3,0h1m12,0h1m-50,1h1m35,0h1m28,0h1m-28,1h1m-55,1h1m8,0h1m40,0h1m-70,1h1m48,0h1m-41,1h1m39,0h1m2,1h1m1,0h1m37,0h1m-78,1h1m20,0h1m99,0h1m-139,1h1m99,1h1m-57,2h1m12,0h1m31,0h1m24,2h1m-27,1h1m25,0h1m-105,1h1m117,0h1m-93,1h1m111,0h1m-139,1h1m46,1h1m2,0h1m10,1h1m-58,1h1m31,0h1m27,0h1m-50,1h1m24,0h1m41,0h1m-46,2h1m-27,1h1m3,0h1m15,0h1m15,0h1m22,0h1m-67,1h1m36,0h1m96,0h1m-126,1h1m63,1h1m60,0h1m-122,1h1m15,0h1m-30,1h1m24,1h1m35,0h1m-57,1h1m32,0h1m12,0h1m29,0h1m-74,1h1m5,0h1m3,0h1m67,0h1m3,0h1m-28,1h1m-20,1h1m21,0h1m7,0h1m-41,1h1m23,0h1m-75,1h1m17,1h1m1,0h1m70,0h1m-1,1h1m3,0h1m-52,1h1m6,0h1m-3,1h1m-34,1h1m7,1h1m11,0h1m30,0h1m1,0h1m75,0h1m-144,1h1m66,0h1m48,0h1m-48,2h1m27,0h1m-64,1h1m3,0h1m56,0h1m6,0h1m-61,1h1m9,0h1m14,0h1m29,0h1m-98,1h1m31,0h1m34,3h1m0,1h1m-61,1h1m68,1h1m17,0h1m-53,1h1m72,0h1m-64,1h1m5,0h1m-17,1h1m29,0h1m6,1h1m-60,1h1m90,0h1m-112,2h3m9,0h1m15,0h1m14,0h1m18,0h1m24,0h1m2,0h1m14,0h1m-43,1h1m-25,3h1m-20,1h1m11,0h1m55,0h1m-84,1h1m43,0h2m43,0h1m16,0h1m-57,1h1m17,0h1m-73,1h1m3,0h1m16,1h1m8,0h1m30,0h1m-18,1h1m1,0h1m44,0h1m3,1h1m-14,1h1m63,0h1m-135,1h1m30,1h1m58,0h1m13,0h1m-112,1h1m13,0h1m121,0h1m-44,2h1m-79,1h1m28,0h1m9,0h1m15,1h1m12,0h1m-52,1h1m42,0h1m-60,1h1m23,1h1m50,0h1m-80,1h1m7,1h1m24,0h1m10,1h1m-50,1h1m34,0h1m3,0h1m-39,2h1m81,0h1m-97,1h1m23,2h1m16,0h1m2,0h1m47,0h1m-93,1h1m8,0h1m-3,1h1m34,0h1m57,0h1m-93,1h1m8,0h1m19,0h1m9,0h1m-20,2h1m-24,1h1m66,0h1m15,0h1m-11,1h1m9,0h1m-89,1h1m71,0h1m19,0h1m-11,1h1m-75,1h1m54,0h1m24,0h1m11,0h1m-9,1h1m18,0h1m-67,1h1m-36,1h1m60,0h1m-8,2h1m7,0h2m-54,1h1m10,0h1m-16,1h1m23,0h1m-32,1h1m32,0h1m42,0h1m-6,1h1m-20,1h2m-35,1h1m31,0h1m-45,1h1m10,1h1m57,1h1m7,0h1m1,0h1m-30,2h1m60,0h1m-36,1h1m-44,1h1m-5,1h2m38,0h1m3,1h1m42,0h1m-80,1h1m-11,1h1m-8,1h1m74,0h1m-89,1h1m36,0h1m11,0h1m74,0h1m-113,1h1m52,0h1m-30,1h1m-48,1h1m84,1h1m5,0h1m-51,1h1m57,0h1m-77,1h1m-32,2h1m10,1h1m51,0h1m39,0h1m24,0h1m-120,1h1m52,0h1m13,0h1m-9,1h1m19,0h1m-78,1h1m24,0h1m2,0h1m18,0h1m40,0h1m-52,1h1m27,0h1m-41,1h1m-21,1h1m60,1h1m40,0h1m-125,1h1m53,0h2m44,0h1m-56,2h1m65,0h1m17,0h1m-93,1h1m50,3h1m13,0h1m-85,1h1m1,0h1m27,0h1m53,0h1m-80,1h1m17,0h1m12,0h1m35,0h1m43,0h1m-57,1h1m45,0h1m-29,1h1m-12,1h1m-70,2h1m59,0h1m19,0h1m-62,1h1m9,1h1"/>
<path stroke="#433e85" d="M125,20h1m-47,1h1m31,0h1m15,0h1m-67,1h1m-20,1h1m7,0h1m-6,1h1m66,0h1m-83,2h1m41,0h1m16,0h1m-29,2h1m-36,1h1m12,0h1m5,0h1m27,0h1m1,0h1m3,0h1m-53,1h1m21,0h1m56,0h1m-74,1h1m13,0h1m4,0h1m-36,1h1m2,0h1m53,0h1m4,0h1m-71,1h1m8,0h1m14,0h1m15,0h1m9,0h1m99,0h1m-109,1h1m28,1h1m38,0h1m-55,1h1m32,2h1m-63,3h1m24,0h1m22,0h1m-24,3h1m-45,1h1m5,0h1m48,0h1m10,1h1m13,0h1m9,0h1m-38,3h1m15,0h1m2,0h1m-27,1h1m30,2h1m2,0h1m0,1h1m-38,2h1m27,0h1m-16,1h1m24,0h1m21,0h1m-81,2h1m-16,2h1m20,1h1m-5,1h1m8,0h1m38,1h1m9,0h1m-34,1h1m39,0h1m-92,3h1m52,0h1m42,0h1m-71,2h1m20,0h1m31,0h1m-34,1h1m-11,2h1m-17,1h1m56,0h1m-46,2h2m-16,1h1m-17,1h1m5,1h1m15,1h1m72,2h1m-46,1h1m27,0h1m-79,3h1m3,1h1m18,0h1m74,0h1m-96,1h1m10,1h1m17,1h1m5,0h1m-41,1h1m11,3h1m37,0h1m30,1h1m7,0h1m52,0h1m-117,1h1m12,0h1m49,1h1m-64,1h1m-31,2h1m50,0h1m-39,2h1m6,3h1m31,1h1m17,0h1m17,0h1m13,0h1m-62,1h1m4,0h1m-44,1h1m54,0h1m43,0h1m-97,1h1m39,1h1m-1,1h1m46,0h1m-32,1h1m32,1h1m-53,3h1m47,0h1m-19,2h1m-59,2h1m3,0h1m72,0h1m-60,2h1m25,0h1m-32,1h1m-16,1h1m15,0h1m6,0h1m-18,1h1m1,1h1m65,0h1m-58,1h1m30,0h1m-54,3h1m75,0h1m-66,1h1m4,1h1m76,0h1m-3,1h1m8,1h1m-98,1h1m10,0h1m10,0h1m7,0h1m-17,1h1m57,1h1m-49,1h1m-27,1h1m29,0h1m4,0h1m-5,1h1m39,0h1m-68,1h1m10,0h1m76,0h1m-59,2h1m-20,1h1m7,1h1m22,1h1m14,2h1m65,0h1m-116,1h1m22,0h1m7,0h1m9,0h1m49,0h1m-104,1h1m81,0h1m-48,1h1m10,2h1m-12,3h1m9,0h1m-50,2h1m-6,1h1m32,0h1m36,0h1m-41,1h1m65,0h1m-81,1h1m84,0h1m-40,3h1m10,2h1m20,2h1m-34,2h1m34,1h1m19,0h1m-45,1h1m-67,1h1m86,0h1m-43,1h1m34,0h1m-68,2h1m-6,1h1m72,0h1m3,0h1m-58,1h1m81,0h1m-39,1h1m17,0h1m-53,2h1m-15,2h1m15,0h1m-28,3h1m37,0h1m29,0h1m-52,1h1m22,0h1m7,0h1m1,0h1m-51,1h1m67,1h1m-37,1h1m10,0h1m28,2h1m5,1h1m-53,1h1m26,0h1m-75,1h1m28,2h1m-4,3h1m106,0h1m-39,1h1m-37,1h1m25,1h1m-74,1h1m38,1h1m47,1h1m-75,1h1m78,1h1m-58,1h1m3,1h1m37,0h1m-81,1h1m41,2h1m-1,1h1m-33,1h1m15,1h1m-29,1h1m15,0h1m43,0h1m3,3h1m17,0h1m-58,1h1m18,0h1m-50,2h1m41,0h1m-8,2h1m-1,1h1m8,0h1m14,1h1m-16,2h1m-33,1h1m4,0h1m4,1h1m4,1h1m-1,1h1m-6,1h1m44,1h1m-47,1h1m-21,1h1m94,0h1m-92,1h1m42,0h1m12,0h1m-64,1h1m80,0h1m41,0h1m-86,2h1m5,0h1m2,0h1m-5,1h1m12,0h1m-25,1h1m16,0h1m-41,2h1m54,0h1m49,1h1m-70,1h1m11,1h1m-39,1h1m59,0h1m-77,1h1m17,0h1m38,0h1m11,1h2m-44,1h1m26,0h1m36,0h1m-35,1h1m28,1h1m-81,1h1m67,0h1m-68,2h1m18,4h1m59,0h1m-79,1h1m4,1h1m23,0h1m17,0h1m-27,1h1m13,0h1m48,0h1m-82,3h1m82,0h1m-25,2h1m23,0h1m14,1h1m35,1h1m-113,1h1m46,0h1m-75,1h1m37,0h1m51,0h1m16,0h1m-69,2h1m15,0h1m-55,1h1m15,1h1m25,0h1m35,0h1m8,0h1m-82,5h1m42,0h1m5,0h1m15,0h1m18,1h1m-87,1h1m22,0h1m-14,3h1m7,0h1m70,0h1m19,1h1m-58,3h1m-41,1h1m19,0h1m14,0h1m9,0h1m-32,1h1m16,0h1m46,3h1m-32,1h1m69,2h1m-112,1h2m-8,2h1m116,0h1m-57,1h1m-31,1h1m41,0h1m-97,1h1m87,0h1m-93,3h1m1,0h1m19,1h1m2,0h1m36,0h1m-1,1h1m-60,1h1m54,0h1m-24,4h1m-34,1h1m49,0h1m16,0h1m-61,1h1m59,0h1m-70,1h1m-2,6h1m23,0h1m-15,1h1m80,0h1m16,0h1m-18,1h1m-10,1h1m16,0h1m-83,2h1m67,1h1m-38,1h1m34,1h1m-40,1h1m40,0h1m5,0h1m-46,4h1m4,1h1m-47,1h1m29,2h1m10,0h1m44,1h1m58,0h1m-92,2h1m35,0h1m-64,1h1m19,0h1m-10,1h1m-39,2h1m72,0h1m-45,1h1m60,0h1m18,0h1m-87,1h1m32,1h1m28,0h1m6,0h1m-13,1h2m3,0h1m-42,1h1m-31,1h1m75,3h1m1,0h1m-95,2h1m31,2h1m29,1h1m-27,1h1m6,1h1m39,1h1m6,0h1m3,0h1m-91,2h1m67,0h1m-23,1h1m52,4h1m-28,5h1m17,0h1m-64,1h1m10,0h1m55,0h1m-58,1h1m45,0h1m-65,1h1m-26,1h1m79,0h1m-34,1h1m-1,2h1m12,1h1m-46,1h1m74,1h1m-11,1h1m13,0h1m-81,1h1m74,0h1m-75,2h1m27,1h1m40,0h1m5,4h1m-60,1h1m6,0h1m54,1h1m35,1h1m-95,1h1m-21,1h1m46,0h1m-22,2h1m-39,3h1"/>
<path stroke="#414487" d="M62,11h1m-1,3h1m-21,1h1m18,2h1m57,3h1m-83,4h1m-9,1h1m85,1h1m-7,1h1m-79,2h1m5,0h1m29,0h1m8,0h1m6,0h1m1,0h1m28,0h1m-83,1h2m4,0h1m2,0h1m15,0h1m15,0h1m-56,1h1m1,0h1m36,0h1m32,0h1m-65,1h1m17,0h1m-30,1h1m81,0h1m16,0h1m-92,1h1m23,1h1m11,0h1m37,0h1m11,0h1m13,0h1m-81,1h1m-19,1h1m18,0h1m16,0h1m44,5h1m-74,1h1m36,3h1m1,6h1m-58,1h1m62,2h1m-55,3h1m54,0h1m30,3h1m-38,2h1m-40,2h1m28,0h1m-24,4h1m16,1h1m-30,1h1m98,1h1m-87,1h1m32,0h1m-43,5h1m36,1h1m6,4h1m2,4h1m17,0h1m11,0h1m-35,3h1m33,0h1m-36,1h1m-65,2h1m21,1h1m-4,3h1m12,0h1m17,0h1m-4,1h1m39,0h1m14,0h1m-38,2h1m8,0h1m38,0h1m-59,3h1m40,0h1m-85,1h1m56,0h1m17,0h1m-34,1h1m48,0h1m-35,1h1m17,0h1m-41,2h1m45,0h1m-72,2h1m90,9h1m-99,1h1m68,0h1m-20,1h1m30,1h1m2,0h1m-78,1h1m92,0h1m-83,2h1m1,0h1m63,1h1m24,1h1m-118,1h1m20,1h1m95,1h1m-122,1h1m1,2h1m118,1h1m-53,1h1m-60,3h1m-12,1h1m1,0h1m12,2h1m81,1h1m-70,6h1m51,0h1m-19,3h1m84,4h1m-144,3h1m15,2h1m37,2h1m11,2h1m17,0h1m-56,1h1m15,0h1m0,2h1m-1,5h1m56,0h1m-93,2h1m51,3h1m-41,1h1m25,0h1m27,1h1m14,1h1m20,0h1m-92,2h1m65,0h1m14,1h1m-92,2h1m50,1h1m30,0h1m-83,1h1m49,0h1m-35,5h1m-24,2h1m17,0h1m-27,1h1m48,0h1m17,1h1m-13,2h1m-34,3h1m58,0h1m28,0h1m-44,3h1m-38,1h1m16,2h1m-6,2h1m6,2h1m12,0h1m10,0h1m-42,4h1m3,1h1m-5,2h1m54,2h1m-80,1h1m27,0h1m12,1h1m-44,4h1m66,0h1m-67,1h1m93,0h1m4,1h1m14,0h1m-116,2h1m36,0h1m-30,1h1m95,0h1m-107,1h1m-1,3h1m40,1h1m-49,1h1m6,0h1m91,0h1m3,3h1m30,2h1m-83,3h1m-8,1h1m5,0h1m-5,1h1m-30,4h1m53,1h1m-59,1h1m37,0h1m-22,1h1m22,0h1m12,2h1m-51,3h1m6,0h1m-8,1h1m-13,1h1m34,3h1m10,0h1m21,2h1m-63,1h1m32,0h1m-23,1h1m25,0h1m-25,2h1m62,3h1m12,0h1m-11,1h1m-23,2h1m30,0h1m-45,2h1m-16,1h1m42,4h2m19,0h1m-16,1h1m-58,1h1m-22,1h1m42,1h1m28,1h1m-84,1h1m51,0h1m36,0h1m34,0h1m-60,2h1m-24,1h1m-20,1h1m120,0h1m-97,1h1m29,1h1m7,3h1m-11,1h1m7,0h1m3,0h1m-38,1h1m35,0h1m-76,1h1m2,0h1m31,1h1m33,0h1m-17,1h1m11,0h1m-67,1h1m107,5h1m-109,1h1m95,0h1m-27,1h1m15,0h1m-53,1h1m40,2h1m-23,1h1m-20,3h1m-5,5h1m36,0h1m8,0h1m-85,2h1m65,1h1m-52,1h1m50,1h1m20,1h1m-42,3h1m-3,3h1m42,0h1m24,0h1m-64,4h1m-30,1h1m22,0h1m-48,2h1m17,0h1m-14,2h1m139,2h1m-91,1h1m14,1h1m-27,3h1m3,1h1m57,0h1m13,1h1m-70,2h1m-35,3h1m52,0h1m-9,2h1m-38,2h1m78,0h1m-43,1h1m-42,1h1m6,0h1m41,0h1m5,0h1m-11,1h1m-49,1h1m62,0h1m58,4h1m-70,4h1m15,0h1m7,0h1m-47,1h1m21,0h1m-69,5h1m25,3h1m10,0h1m6,0h1m-34,2h1m74,2h1m-58,1h1m1,1h1m6,1h1m55,0h1m-68,1h1m20,0h1m47,2h1m30,0h1m-17,1h1m-112,3h1m60,0h1m22,0h1m1,1h1m7,0h1m-79,5h1m4,1h1m52,1h1"/>
<path stroke="#3f4889" d="M62,10h1m71,0h1m-91,11h1m80,0h1m-3,1h1m-96,2h1m71,2h1m-80,1h1m66,0h1m22,0h1m-31,1h1m11,0h1m-53,1h1m42,0h1m-76,1h1m30,0h1m10,0h1m1,0h1m7,0h1m3,0h1m-42,1h1m7,0h1m8,0h1m2,0h1m19,0h1m-50,1h1m8,0h1m7,0h1m-8,2h1m49,4h1m37,6h1m-59,3h1m44,0h1m-19,1h1m-25,7h1m-36,2h1m33,1h1m6,3h1m-40,1h1m74,2h1m-91,1h1m45,2h1m-3,12h1m-7,2h1m-15,4h1m-19,2h1m50,0h1m23,0h1m-60,4h1m0,6h1m69,0h1m-86,1h1m89,7h1m-77,3h1m-19,2h1m100,3h1m-46,1h1m-49,8h1m39,0h1m81,1h1m-59,1h1m47,0h1m-88,1h1m-24,1h1m7,2h1m-8,2h1m71,1h1m-76,1h1m41,0h1m69,0h1m-103,2h1m47,2h1m22,2h2m29,0h1m-101,1h1m74,7h1m-40,1h1m6,1h1m-16,4h1m-6,6h1m-41,5h1m40,1h1m-37,1h1m41,1h1m17,4h1m-59,1h1m23,0h1m10,0h1m-18,2h1m27,1h1m-44,4h1m11,4h1m21,2h1m34,0h1m-42,1h1m50,1h1m-31,1h1m3,0h1m16,0h1m-73,1h1m19,0h1m39,6h1m-2,2h1m-67,2h1m39,7h1m34,5h1m9,0h1m7,4h1m-19,1h1m-71,1h1m38,1h1m30,2h1m-62,1h1m20,0h1m-33,2h1m117,4h1m-79,5h1m-48,2h1m63,1h1m-20,1h1m74,0h1m-92,6h1m65,2h1m-1,2h1m-52,2h1m41,0h1m-44,5h1m24,3h1m3,7h1m-9,1h1m-11,6h1m14,3h1m-23,1h1m17,4h1m24,0h1m-17,1h1m-79,2h1m68,1h1m-28,1h1m-20,3h1m27,0h1m30,3h1m-75,1h1m-8,2h1m82,0h1m-53,2h1m-17,3h1m34,0h1m-45,1h1m-3,2h1m57,1h2m-16,7h1m-41,2h1m29,2h1m48,0h1m20,0h1m-78,3h1m63,4h1m-83,1h1m10,1h1m7,2h1m60,0h1m-32,3h1m11,6h1m14,3h1m-47,2h1m-12,1h1m26,0h1m-9,6h1m5,1h1m44,3h1m-29,5h1m-7,2h1m-19,1h1m-50,1h1m69,1h1m71,0h1m-43,2h1m-15,1h1m-39,5h1m9,0h1m23,3h1m-63,5h1m25,1h1m40,0h1m-43,4h1m51,2h1m9,1h1m-87,3h1m22,0h1m-47,7h1m47,3h1m-42,4h1m86,4h1m5,3h1"/>
<path stroke="#3d4d8a" d="M36,15h1m107,5h1m-128,3h1m-5,1h1m5,1h1m94,0h1m-58,1h1m50,0h1m-80,1h1m56,0h2m-20,1h1m9,0h1m1,0h1m-49,1h1m20,0h1m17,0h1m24,0h1m-63,1h1m9,0h1m7,0h1m-25,1h1m2,0h1m-21,1h1m-2,4h1m16,0h1m-18,1h1m23,2h1m-11,3h1m66,1h1m-42,1h1m47,3h1m12,0h1m-80,7h1m31,0h1m40,13h1m-50,6h1m3,2h1m2,0h1m-23,1h1m33,4h1m32,2h1m-77,11h1m42,1h1m-63,8h1m29,3h1m38,3h1m-43,4h1m-6,3h1m51,6h1m-6,3h1m12,0h1m38,2h1m-114,6h1m137,1h1m-83,5h1m-46,3h1m90,10h1m-20,1h1m-12,2h1m-21,1h1m-53,1h1m53,1h1m23,3h1m-38,4h1m21,0h1m-51,3h1m109,1h1m-34,3h1m-34,7h1m-54,8h1m36,7h1m-37,4h1m35,1h1m86,1h1m-75,1h1m-24,7h1m35,3h1m17,3h1m-67,1h1m2,3h1m-17,1h1m19,3h1m24,2h1m33,5h1m-9,1h1m7,4h1m-55,4h1m81,3h1m-48,1h1m-73,1h1m84,12h1m-81,11h1m28,1h1m11,0h1m37,1h1m59,0h1m-99,3h1m97,3h1m-49,1h1m-12,4h1m-44,2h1m-45,4h1m103,2h1m-57,4h1m-1,2h1m-37,5h1m36,0h1m-2,2h1m-1,8h1m32,1h1m-33,5h1m-2,2h1m6,3h1m31,2h1m-58,8h1m-16,6h1m39,7h1m28,1h1m-21,5h1m31,3h1m-10,1h1m3,1h1m-73,5h1m35,1h1m-7,2h1m13,0h1m-19,1h1m-16,3h1m10,0h1m54,8h1m-77,22h1m-15,5h1m33,1h1m-22,5h1"/>
<path stroke="#3b528b" d="M11,24h1m24,0h1m75,1h1m-49,1h1m22,0h1m19,0h1m-15,1h1m-47,1h1m54,0h1m-65,1h1m1,0h1m2,0h1m6,0h1m46,0h1m-1,1h1m-89,1h1m9,0h1m3,0h1m10,0h1m-16,1h1m64,4h1m15,5h1m-44,9h1m-1,1h1m-1,16h1m21,8h1m-32,4h1m5,7h1m-28,4h1m-7,15h1m-4,9h1m37,0h1m-47,7h1m14,0h1m32,1h1m75,1h1m-43,4h1m-43,4h1m83,11h1m-25,1h1m-72,1h1m22,1h1m60,8h1m-100,2h1m-1,7h1m15,9h1m103,3h1m-118,5h1m29,3h1m-10,8h1m-22,6h1m34,0h1m-1,4h1m-6,5h1m4,1h1m45,3h1m25,15h1m-91,22h1m30,0h1m6,10h1m14,0h1m-36,3h1m45,3h1m-9,2h1m58,4h1m-60,7h1m-40,11h1m0,5h1m91,0h1m-52,2h1m-47,1h1m3,8h1m8,5h1m29,2h1m-1,1h1m-1,8h1m-1,12h1m-41,2h1m-42,4h1m12,4h1m82,1h1m-51,5h1m34,7h1m-73,13h1m82,11h1m-13,6h1m-32,7h1m-38,3h1m72,10h1"/>
<path stroke="#39568c" d="M134,15h1m-30,5h1m-75,4h1m68,1h1m-32,1h1m40,0h1m2,0h1m-33,1h1m-64,1h1m10,0h1m30,0h1m42,0h1m-84,1h1m27,0h1m5,0h1m10,0h2m1,0h1m7,1h1m-64,1h1m-1,1h1m9,0h1m1,1h1m6,37h1m32,25h1m-34,40h1m-23,3h1m123,2h1m-73,6h1m-6,22h1m46,26h1m-43,7h1m71,20h1m-1,2h1m-1,9h1m-1,9h1m-41,6h1m-34,44h1m-1,6h1m-1,11h1m-5,14h1m-8,7h1m49,2h1m8,1h1m-94,33h1m18,0h1m39,2h1m23,3h1m-68,12h1"/>
<path stroke="#375b8d" d="M154,16h1m-57,6h1m8,3h1m-63,3h1m12,0h1m14,0h1m8,0h1m-61,1h1m21,0h1m24,0h1m-46,1h1m42,0h1m7,0h1m-61,1h1m10,0h1m-15,1h1m66,117h1m-18,56h1m96,59h1m-31,18h1m-62,8h1m23,0h1m16,45h1m-53,3h1m42,28h1m-2,24h1"/>
<path stroke="#355f8d" d="M79,20h1m-10,6h1m38,0h1m-77,3h1m15,0h1m-23,2h1m-18,4h1m64,140h1m-14,27h1m-4,3h1m74,21h1m-1,11h1m-78,11h1m101,14h1m-72,67h1m20,32h1"/>
<path stroke="#32648e" d="M144,19h1m4,0h1m-87,2h1m95,3h1m-90,1h1m44,0h1m-95,1h1m33,0h1m50,0h1m-74,2h1m41,0h1m8,0h1m-34,1h1m4,0h1m17,0h1m5,0h1m-63,1h1m-8,1h1m73,331h1"/>
<path stroke="#31688e" d="M139,15h1m-17,6h1m35,2h1m-46,1h1m2,2h1m-26,1h1m-36,1h1m1,0h1m4,0h1m-38,1h1m6,0h1m29,0h1m12,0h1m-64,2h1"/>
<path stroke="#2f6c8e" d="M46,19h1m78,0h1m-40,6h1m6,1h1m-53,2h1m32,0h1m-58,2h1m8,0h1m1,0h1"/>
<path stroke="#2d708e" d="M16,0h1m55,0h1m26,17h1m29,2h1m-91,9h1m4,0h1m56,0h1m-73,1h1m60,0h1m-72,1h1m-10,4h1"/>
<path stroke="#2b748e" d="M36,0h1m-7,17h1m17,10h1m54,0h1m-70,1h1m18,0h1m35,0h1m-33,1h1"/>
<path stroke="#2a788e" d="M72,15h1m50,4h1m-3,2h1m-7,1h1m-5,2h1m-24,2h1m1,0h1m-71,1h1m35,0h1m34,0h1m-21,1h1m5,0h1m13,0h1m-40,1h1"/>
<path stroke="#287c8e" d="M62,0h1m9,1h1m26,15h1m27,1h1m-23,2h1m21,1h1m-24,5h1m1,0h1m12,1h1m-86,1h1m6,0h1m16,0h1m8,0h1m-48,1h1m-7,2h1m-3,1h1"/>
<path stroke="#27808e" d="M149,15h1m-104,5h1m67,3h1m-28,1h1m-44,2h1m6,1h1m1,0h1m-23,1h2m7,0h1m13,0h1m28,0h1m-65,1h1m-8,1h1m12,1h1"/>
<path stroke="#25848e" d="M154,23h1m-42,1h1m-36,1h1m13,0h2m14,0h2m-56,1h1m1,0h1m37,0h1m6,0h1m-91,1h1m70,0h1m18,0h1m-83,1h1m30,0h1m16,0h1m17,0h1m10,0h2m-75,2h1"/>
<path stroke="#23888e" d="M139,14h1m4,0h1m-110,3h1m89,0h1m-65,3h1m-41,5h1m91,0h1m-23,1h1m-61,1h1m12,0h1m5,0h1m20,0h1m18,0h1m5,0h1m-74,1h1m25,0h1m2,0h1m16,0h1m24,0h1m-84,1h1m35,0h1"/>
<path stroke="#228c8d" d="M36,14h1m75,5h1m8,0h1m-29,2h1m4,0h1m-21,2h1m-59,1h1m96,0h1m1,0h1m-75,1h1m58,1h1m-68,1h1m51,0h1m12,0h1m-65,1h1m-14,2h1"/>
<path stroke="#21918c" d="M144,17h1m-1,1h1m4,0h1m-89,3h1m35,2h1m-77,1h1m58,0h1m-13,1h1m4,0h1m3,0h1m13,0h1m-54,1h1m53,0h1m-79,1h1m30,0h1m-22,1h1m-10,2h1m-6,3h1"/>
<path stroke="#1f948c" d="M105,18h1m-43,1h1m40,2h1m7,1h1m-27,1h1m5,0h1m7,0h1m-43,1h1m24,0h1m23,0h1m7,0h1m-94,1h1m17,0h1m26,0h1m19,0h1m1,0h1m-70,1h1m27,0h1m4,0h1m11,0h2m-28,1h1m12,0h1m25,0h1m-66,1h1"/>
<path stroke="#1f988b" d="M62,1h1m71,10h1m-1,1h1m-1,2h1m-119,1h1m13,1h1m118,0h1m-36,4h1m-8,1h1m-30,3h1m23,0h1m-53,1h1m8,0h1m-31,1h1m4,0h1m36,0h1m24,0h1m6,0h1m-82,1h1m17,0h1m18,0h1m6,0h1m17,0h1m-57,1h1m22,0h1"/>
<path stroke="#1e9c89" d="M42,0h1m-13,1h1m11,0h1m-7,7h1m25,5h1m76,0h1m-98,1h1m78,4h1m-78,1h1m5,0h1m6,0h1m7,0h1m17,0h2m4,0h1m11,0h1m-10,3h1m18,0h1m2,0h1m39,0h1m4,0h1m-103,1h1m48,0h1m-81,1h1m28,0h1m50,0h1m3,0h1m-9,1h1m-64,1h1m7,0h1m19,0h1m-40,1h1m45,0h2m9,0h1m8,0h1"/>
<path stroke="#1fa188" d="M35,16h1m69,1h1m43,0h1m-89,1h1m63,0h1m3,0h1m-71,1h1m38,0h1m28,0h1m-24,3h1m1,0h1m6,0h1m3,0h1m-96,1h1m24,0h1m7,0h1m56,0h1m-60,1h1m30,0h1m23,0h2m-73,1h2m10,0h1m8,0h1m29,0h1m-76,1h1m19,0h1m6,0h2m3,0h1m12,0h1m15,0h2m9,0h1m-62,1h1m24,0h1m4,0h1m40,0h1m-79,1h1m47,0h1m29,0h1m-87,1h1m3,1h1"/>
<path stroke="#20a486" d="M35,0h1m113,14h1m-71,4h1m47,0h1m-94,1h1m16,0h1m33,0h1m-48,4h1m36,0h1m41,0h1m-43,1h1m1,0h1m10,0h1m5,0h1m-72,1h1m19,0h1m30,0h1m8,0h1m33,0h1m1,0h1m-88,1h1m26,0h1m16,0h1m-13,1h2m-54,2h1m5,0h1"/>
<path stroke="#22a884" d="M99,1h1m-28,7h1m-1,5h1m61,0h1m-100,2h1m93,1h1m-16,5h1m-60,1h1m14,0h1m-38,1h1m5,0h1m26,0h1m2,0h1m32,0h1m5,0h1m1,0h1m-57,1h1m5,0h1m3,0h1m6,0h1m14,0h1m-73,1h1m13,0h1m15,0h1m3,0h1m3,0h1m13,0h1m-58,1h1m63,0h1m21,0h1m-84,1h1m13,0h1m33,0h1m16,0h1m5,0h1m13,0h1m-83,1h1"/>
<path stroke="#25ac82" d="M35,8h1m26,4h1m81,1h1m-129,1h1m76,6h1m4,0h1m24,0h1m-15,1h1m3,0h1m1,0h1m38,0h1m-45,1h1m-74,1h1m7,0h1m65,0h1m7,0h1m-81,1h1m27,0h1m2,0h1m19,0h1m-57,1h1m4,0h1m20,0h1m14,0h1m6,0h1m13,0h2m3,0h1m8,0h1m-92,1h1m5,0h1m17,0h1m34,0h1m23,0h1m-84,1h1m12,0h1m5,0h1m8,0h1m9,0h1m10,0h1m-55,1h1m11,0h1m63,0h1"/>
<path stroke="#2ab07f" d="M139,11h1m-15,5h1m-14,4h1m2,0h1m43,1h1m-139,1h1m44,0h1m33,0h1m8,0h1m-81,1h1m77,0h1m-64,1h1m52,0h1m-73,1h1m6,0h1m8,0h1m22,0h1m4,0h1m14,0h1m-48,1h1m42,0h1m1,0h1m-10,1h1m6,0h1m-5,1h1m-52,1h1"/>
<path stroke="#2fb47c" d="M35,1h1m31,18h1m3,0h1m35,1h1m-2,1h1m5,0h1m-25,1h1m4,0h1m8,0h1m-82,1h1m32,0h1m29,0h1m9,0h1m20,0h1m-78,1h1m2,0h1m7,0h1m18,0h1m22,0h1m11,0h1m-95,1h1m41,0h1m24,0h1m-63,1h2m7,0h1m4,0h1m21,0h1m1,0h1m-38,1h1m9,0h1m43,0h1m6,0h1m-68,1h1m15,0h1m-16,3h1"/>
<path stroke="#35b779" d="M139,12h1m-41,3h1m9,0h1m34,0h1m-68,1h1m45,0h1m5,1h1m-84,1h1m35,1h1m11,0h1m59,0h1m-134,2h1m55,1h1m-58,1h1m39,0h1m27,0h1m7,0h1m-83,1h1m80,0h1m-79,1h1m77,0h1m-13,1h1m-51,1h1m-7,1h1"/>
<path stroke="#3bbb75" d="M36,13h1m66,0h1m-32,1h1m-27,1h1m97,1h1m-82,2h1m-31,1h1m6,0h1m-4,1h1m32,1h1m16,0h1m31,0h1m-12,1h1m-45,1h1m12,0h1m3,0h1m5,0h1m21,0h1m3,0h1m-62,1h1m16,0h1m4,0h1m10,0h1m-55,1h1m25,0h1m7,0h1m15,0h1m3,0h1m-62,1h1m59,0h1m12,0h1m-87,2h1m-2,2h1"/>
<path stroke="#44bf70" d="M26,16h1m52,1h1m41,0h1m-24,1h1m-3,1h1m6,0h1m-16,1h1m7,0h1m24,0h1m32,0h1m-100,1h1m36,0h1m24,0h1m-40,1h1m7,0h1m32,0h1m-72,1h1m22,0h1m11,0h1m-55,1h1m13,0h1m4,0h1m7,0h1m-45,1h1m34,0h1m-26,1h1m8,0h1m19,0h1m-35,1h2m8,0h1m-18,2h1"/>
<path stroke="#4cc26c" d="M109,18h1m13,0h1m-46,1h1m16,0h1m12,0h1m-61,3h1m40,0h1m13,0h1m-73,1h1m12,0h1m14,0h1m5,0h1m8,0h1m14,0h1m5,0h1m-46,1h2m30,0h1m9,0h1m-80,1h1m10,0h1m8,0h1m37,0h1m18,0h1m12,0h1m-55,1h1"/>
<path stroke="#54c568" d="M46,10h1m65,0h1m-77,2h1m18,0h1m2,0h1m-17,1h1m-13,2h1m96,0h1m-1,1h1m-83,2h1m30,1h1m37,0h1m44,0h1m-139,1h1m33,0h1m14,0h1m-33,2h2m33,0h1m33,0h1m-94,1h1m25,0h1m50,0h1m9,0h1m1,0h1m-38,1h1m-47,1h1m39,1h1m7,0h1m-56,1h1m-2,1h1"/>
<path stroke="#5ec962" d="M99,8h1m-58,4h1m12,1h1m55,2h1m-63,1h1m13,0h1m15,0h1m43,1h1m-45,2h1m-60,1h1m66,0h1m18,0h1m3,0h1m-74,2h1m-4,1h1m38,0h1m8,0h1m-26,1h1m7,0h1m10,0h1m4,0h1m-26,1h1m-46,1h2m4,0h1m59,0h1m3,0h1"/>
<path stroke="#67cc5c" d="M139,10h1m-61,2h1m45,1h1m-1,1h1m-1,1h1m-89,1h1m83,0h1m-76,1h1m65,1h1m-53,1h1m7,0h2m20,0h1m9,0h1m-1,1h1m7,1h1m-29,1h1m-40,1h1m11,0h1m2,0h1m23,0h1m23,0h1m-9,1h1m-79,1h1m61,0h1"/>
<path stroke="#70cf57" d="M65,3h1m51,11h1m11,0h1m-80,1h1m63,3h1m-77,1h1m17,0h1m13,0h1m9,0h1m28,1h1m49,0h1m-58,1h1m7,0h1m-71,1h1m19,0h1m-29,1h1m25,0h1m8,0h1m17,0h1m-13,1h1m-59,1h1m-7,2h1m13,0h1"/>
<path stroke="#7ad151" d="M16,1h1m64,5h1m-52,2h1m30,0h1m63,1h1m8,0h1m-100,4h1m73,0h1m39,0h1m-21,2h1m-65,1h1m88,2h1m-114,1h1m19,0h1m-15,1h1m38,1h1m1,0h1m-48,1h1m17,0h1m15,0h1m-25,1h2m17,0h1m-54,1h1m9,0h1m61,0h1m-79,1h1m15,0h1"/>
<path stroke="#86d549" d="M121,15h1m-35,3h1m71,0h1m-106,1h1m60,0h1m-59,1h1m-20,1h1m19,0h1m-39,1h1m32,0h1m27,0h1m13,0h1m1,0h1m-45,3h1m-27,1h1"/>
<path stroke="#90d743" d="M16,8h1m55,2h1m32,6h1m7,1h1m-33,2h1m24,0h1m6,0h1m-34,1h1m32,0h1m-14,1h1m-52,1h1m8,0h1m5,0h1m17,0h1m8,0h1m4,0h1m4,0h1m-74,1h1m25,2h1m39,0h1m-85,1h1"/>
<path stroke="#9bd93c" d="M83,3h1m-21,1h1m-50,5h1m38,3h1m90,0h1m14,4h1m-45,1h1m-39,2h1m30,1h1m-60,1h1m21,0h1m9,0h1m21,0h1m-33,1h1m29,2h1m-84,2h1"/>
<path stroke="#a5db36" d="M107,2h1m-1,1h1m7,2h1m-67,4h1m73,1h1m-108,3h1m18,1h1m41,0h1m-4,1h1m48,0h1m-44,1h1m23,0h1m-53,1h1m10,0h1m90,0h1m-132,1h1m91,0h1m-42,1h1m13,0h1m2,0h1m12,0h1m6,0h1m-34,1h1m38,0h1m-73,1h1m31,0h1m23,0h1m-93,1h1m35,0h1m10,0h1m30,0h1m-20,1h1m-59,5h1"/>
<path stroke="#b2dd2d" d="M139,9h1m-11,4h1m29,1h1m-48,3h1m1,0h1m44,0h1m-68,2h1m14,0h1m-22,1h1m15,0h1m-50,1h2m18,0h1m-41,1h1m13,0h1m37,0h1m-73,1h1m4,0h1m7,0h1m49,0h1m-54,1h1"/>
<path stroke="#bddf26" d="M115,2h1m11,3h1m11,2h1m-13,3h1m-26,2h1m46,0h1m-72,2h1m20,0h1m-2,3h1m14,1h1m-62,1h1m18,1h1m20,0h1m10,0h1m-82,1h1m1,1h1m25,0h1m3,0h1m10,0h1m-23,1h1"/>
<path stroke="#c8e020" d="M62,4h1m30,1h1m-54,10h1m118,0h1m-91,2h2m22,2h1m16,0h1m-67,1h2m20,0h1m24,0h1m-10,1h1m-61,1h1m8,0h1m-17,1h1m31,1h1"/>
<path stroke="#d2e21b" d="M134,7h1m-6,4h1m-1,1h1m-74,5h1m50,1h1m-79,1h1m18,0h1m6,0h1m30,0h1m22,0h1m-46,1h1m36,0h1m-42,1h1m23,0h1m10,0h1m-69,1h2m38,0h2m25,0h1m-76,1h1m4,0h1"/>
<path stroke="#dfe318" d="M144,11h1m-73,1h1m54,2h1m-30,2h1m-79,2h1m49,0h1m29,0h1m9,0h1m8,0h1m-54,1h1m6,0h1m-6,1h1m-36,1h1m23,0h1m8,0h1m13,0h1m-52,1h1m14,0h1m7,0h1m4,0h1m-9,1h1"/>
<path stroke="#eae51a" d="M139,8h1m-11,2h1m-88,1h1m29,0h1m52,1h1m-96,1h1m48,2h1m35,1h1m-5,2h1m-63,1h1m-28,1h1m25,0h1m9,0h1m-39,1h1m11,0h1m8,0h1m14,0h1m19,0h1m12,0h1m-79,1h1m2,0h1m2,0h1m-7,1h1m3,1h1"/>
<path stroke="#f4e61e" d="M117,15h1m-72,1h1m34,1h1m35,1h1m-31,1h1m-19,1h1m34,0h1m-57,1h1m3,0h1m11,0h1m13,0h1m-3,1h1m7,0h1"/>
<path stroke="#fde725" d="M9,0h7m1,0h18m2,0h5m1,0h19m1,0h9m1,0h43m1,0h1m1,0h1m1,0h1m1,0h1m1,0h1m1,0h1m1,0h1m4,0h1m4,0h1m4,0h1m4,0h1m4,0h1m4,0h1m-151,1h7m1,0h13m1,0h4m1,0h6m1,0h19m1,0h9m1,0h26m1,0h16m1,0h1m1,0h1m1,0h1m1,0h1m1,0h1m1,0h1m1,0h1m4,0h1m4,0h1m4,0h1m4,0h1m4,0h1m4,0h1m-151,1h98m1,0h7m2,0h1m1,0h1m1,0h1m1,0h1m1,0h1m1,0h1m1,0h1m4,0h1m4,0h1m4,0h1m4,0h1m4,0h1m4,0h1m-151,1h56m1,0h17m1,0h23m1,0h8m1,0h1m1,0h1m1,0h1m1,0h1m1,0h1m1,0h1m1,0h1m4,0h1m4,0h1m4,0h1m4,0h1m4,0h1m4,0h1m-151,1h53m2,0h52m1,0h1m1,0h1m1,0h1m1,0h1m1,0h1m1,0h1m1,0h1m4,0h1m4,0h1m4,0h1m4,0h1m4,0h1m4,0h1m-151,1h84m1,0h21m2,0h1m1,0h1m1,0h1m1,0h1m1,0h1m3,0h1m4,0h1m4,0h1m4,0h1m4,0h1m4,0h1m4,0h1m-151,1h72m1,0h34m1,0h1m1,0h1m1,0h1m1,0h1m1,0h1m1,0h1m1,0h1m4,0h1m4,0h1m4,0h1m4,0h1m4,0h1m4,0h1m-151,1h107m1,0h1m1,0h1m1,0h1m1,0h1m1,0h1m1,0h1m1,0h1m14,0h1m4,0h1m4,0h1m4,0h1m-151,1h7m1,0h13m1,0h4m2,0h24m1,0h10m1,0h26m1,0h16m1,0h1m1,0h1m1,0h1m1,0h1m1,0h1m1,0h1m1,0h1m4,0h1m9,0h1m4,0h1m4,0h1m4,0h1m-151,1h5m1,0h34m1,0h66m1,0h1m1,0h1m1,0h1m1,0h1m3,0h1m1,0h1m14,0h1m4,0h1m4,0h1m4,0h1m-151,1h37m1,0h15m1,0h9m1,0h39m1,0h3m1,0h1m1,0h1m1,0h1m3,0h1m18,0h1m4,0h1m4,0h1m4,0h1m-151,1h33m1,0h19m1,0h9m1,0h43m1,0h1m1,0h1m1,0h1m1,0h1m1,0h1m1,0h1m26,0h1m4,0h1m-151,1h27m1,0h5m1,0h10m1,0h1m1,0h2m1,0h3m1,0h9m1,0h6m1,0h22m1,0h13m1,0h1m1,0h1m1,0h1m1,0h1m3,0h1m26,0h1m4,0h1m-151,1h7m1,0h13m1,0h4m2,0h5m1,0h12m1,0h6m1,0h9m1,0h30m1,0h5m1,0h6m1,0h1m1,0h1m1,0h1m1,0h1m3,0h1m26,0h1m4,0h1m-151,1h7m1,0h18m2,0h5m1,0h19m1,0h9m1,0h4m2,0h20m1,0h16m3,0h1m3,0h1m30,0h1m-146,1h7m1,0h13m1,0h4m2,0h3m1,0h1m1,0h3m1,0h3m1,0h11m1,0h9m1,0h1m1,0h4m1,0h19m1,0h9m1,0h1m1,0h4m3,0h1m34,0h1m-146,1h7m1,0h9m1,0h3m1,0h4m3,0h4m1,0h3m1,0h2m1,0h12m2,0h1m1,0h6m1,0h4m1,0h1m2,0h17m2,0h4m2,0h9m2,0h1m1,0h1m-111,1h7m1,0h13m1,0h4m2,0h5m1,0h3m1,0h5m1,0h3m1,0h4m3,0h5m2,0h1m1,0h6m1,0h1m1,0h16m2,0h5m1,0h6m5,0h1m1,0h1m-111,1h7m1,0h3m1,0h2m1,0h6m1,0h4m2,0h5m1,0h2m2,0h14m3,0h6m1,0h1m1,0h6m1,0h7m1,0h10m3,0h4m1,0h1m1,0h1m-100,1h7m1,0h4m1,0h7m2,0h2m4,0h1m1,0h1m3,0h1m1,0h1m1,0h1m5,0h1m4,0h1m5,0h1m10,0h1m21,0h1m4,0h1m14,0h1m1,0h1m-111,1h7m1,0h3m3,0h7m1,0h4m3,0h4m1,0h1m5,0h6m1,0h1m2,0h2m4,0h1m1,0h1m5,0h5m3,0h5m3,0h2m3,0h2m1,0h1m-89,1h7m1,0h3m3,0h7m1,0h1m2,0h1m2,0h1m2,0h1m2,0h1m6,0h2m7,0h1m5,0h1m1,0h3m4,0h2m9,0h1m4,0h2m2,0h1m1,0h2m-88,1h1m1,0h2m1,0h1m2,0h2m3,0h1m1,0h2m5,0h1m1,0h1m16,0h1m22,0h1m15,0h1m-82,1h2m1,0h1m10,0h1m1,0h1m1,0h1m62,0h1m-81,1h1m-1,1h1m-1,2h1"/></g></g>
<rect x="1016.5" y="85.5" width="36" height="737" fill="url(#vir)"/>
<rect class="ln" x="1016.5" y="85.5" width="36" height="737"/>
<rect class="ln" x="98.5" y="85.5" width="864" height="737"/>
<path class="ln" d="M179.50,822.5v4.9M287.50,822.5v4.9M395.50,822.5v4.9M503.50,822.5v4.9M611.50,822.5v4.9M719.50,822.5v4.9M827.50,822.5v4.9M935.50,822.5v4.9M98.5,810.5h-4.9M98.5,689.5h-4.9M98.5,568.5h-4.9M98.5,448.5h-4.9M98.5,327.5h-4.9M98.5,206.5h-4.9M98.5,85.5h-4.9M1052.5,822.5h4.9M1052.5,699.5h4.9M1052.5,576.5h4.9M1052.5,454.5h4.9M1052.5,331.5h4.9M1052.5,208.5h4.9M1052.5,85.5h4.9"/>
<g style="opacity:0.999">
<text class="t" y="43.60" lengthAdjust="spacingAndGlyphs"><tspan x="158.80" textLength="43.47" lengthAdjust="spacingAndGlyphs">IRF</tspan> <tspan x="211.10" textLength="89.58" lengthAdjust="spacingAndGlyphs">Kiruna</tspan> <tspan x="309.51" textLength="143.59" lengthAdjust="spacingAndGlyphs">Ionosonde</tspan> <tspan x="461.93" textLength="79.43" lengthAdjust="spacingAndGlyphs">KI167</tspan> <tspan x="550.19" textLength="161.43" lengthAdjust="spacingAndGlyphs">2026-01-30</tspan> <tspan x="720.45" textLength="124.76" lengthAdjust="spacingAndGlyphs">08:01:00</tspan>  <tspan x="862.86" textLength="37.30" lengthAdjust="spacingAndGlyphs">UT</tspan></text>
<text class="t" y="76.70" lengthAdjust="spacingAndGlyphs"><tspan x="223.70" textLength="150.68" lengthAdjust="spacingAndGlyphs">noise_floor</tspan><tspan x="374.38" textLength="23.28" lengthAdjust="spacingAndGlyphs">=</tspan><tspan x="397.65" textLength="107.22" lengthAdjust="spacingAndGlyphs">-121.51</tspan> <tspan x="513.70" textLength="58.37" lengthAdjust="spacingAndGlyphs">(dB)</tspan> <tspan x="580.90" textLength="67.83" lengthAdjust="spacingAndGlyphs">peak</tspan> <tspan x="657.56" textLength="57.72" lengthAdjust="spacingAndGlyphs">SNR</tspan><tspan x="715.28" textLength="23.28" lengthAdjust="spacingAndGlyphs">=</tspan><tspan x="738.55" textLength="97.20" lengthAdjust="spacingAndGlyphs">103.45</tspan></text>
<text class="k" x="74.08" y="817.60" textLength="12.92" lengthAdjust="spacingAndGlyphs">0</text>
<text class="k" x="49.53" y="696.78" textLength="36.77" lengthAdjust="spacingAndGlyphs">100</text>
<text class="k" x="48.23" y="575.96" textLength="38.77" lengthAdjust="spacingAndGlyphs">200</text>
<text class="k" x="48.23" y="455.14" textLength="38.77" lengthAdjust="spacingAndGlyphs">300</text>
<text class="k" x="48.23" y="334.32" textLength="38.77" lengthAdjust="spacingAndGlyphs">400</text>
<text class="k" x="48.23" y="213.50" textLength="38.77" lengthAdjust="spacingAndGlyphs">500</text>
<text class="k" x="48.23" y="92.68" textLength="38.77" lengthAdjust="spacingAndGlyphs">600</text>
<text class="k" x="173.04" y="848.10" textLength="12.92" lengthAdjust="spacingAndGlyphs">2</text>
<text class="k" x="281.04" y="848.10" textLength="12.92" lengthAdjust="spacingAndGlyphs">4</text>
<text class="k" x="389.04" y="848.10" textLength="12.92" lengthAdjust="spacingAndGlyphs">6</text>
<text class="k" x="497.04" y="848.10" textLength="12.92" lengthAdjust="spacingAndGlyphs">8</text>
<text class="k" x="599.88" y="848.10" textLength="23.85" lengthAdjust="spacingAndGlyphs">10</text>
<text class="k" x="707.88" y="848.10" textLength="23.85" lengthAdjust="spacingAndGlyphs">12</text>
<text class="k" x="815.88" y="848.10" textLength="23.85" lengthAdjust="spacingAndGlyphs">14</text>
<text class="k" x="923.88" y="848.10" textLength="23.85" lengthAdjust="spacingAndGlyphs">16</text>
<text class="k" x="1063.00" y="829.70" textLength="12.39" lengthAdjust="spacingAndGlyphs">0</text>
<text class="k" x="1063.00" y="706.87" textLength="12.39" lengthAdjust="spacingAndGlyphs">5</text>
<text class="k" x="1062.60" y="584.03" textLength="22.99" lengthAdjust="spacingAndGlyphs">10</text>
<text class="k" x="1062.60" y="461.20" textLength="22.99" lengthAdjust="spacingAndGlyphs">15</text>
<text class="k" x="1063.00" y="338.37" textLength="24.79" lengthAdjust="spacingAndGlyphs">20</text>
<text class="k" x="1063.00" y="215.53" textLength="24.79" lengthAdjust="spacingAndGlyphs">25</text>
<text class="k" x="1063.00" y="92.70" textLength="24.79" lengthAdjust="spacingAndGlyphs">30</text>
<text class="k" y="873.80" lengthAdjust="spacingAndGlyphs"><tspan x="441.50" textLength="107.62" lengthAdjust="spacingAndGlyphs">Frequency</tspan> <tspan x="555.74" textLength="60.83" lengthAdjust="spacingAndGlyphs">(MHz)</tspan></text>
<text class="k" transform="translate(38.00,550.30) rotate(-90)" y="0" lengthAdjust="spacingAndGlyphs"><tspan x="0.00" textLength="68.06" lengthAdjust="spacingAndGlyphs">Virtual</tspan> <tspan x="74.68" textLength="60.58" lengthAdjust="spacingAndGlyphs">range</tspan> <tspan x="141.88" textLength="48.61" lengthAdjust="spacingAndGlyphs">(km)</tspan></text>
<text class="k" transform="translate(1108.70,501.00) rotate(-90)" y="0" lengthAdjust="spacingAndGlyphs"><tspan x="0.00" textLength="43.29" lengthAdjust="spacingAndGlyphs">SNR</tspan> <tspan x="49.91" textLength="43.78" lengthAdjust="spacingAndGlyphs">(dB)</tspan></text>
</g>
</svg></body></html>
